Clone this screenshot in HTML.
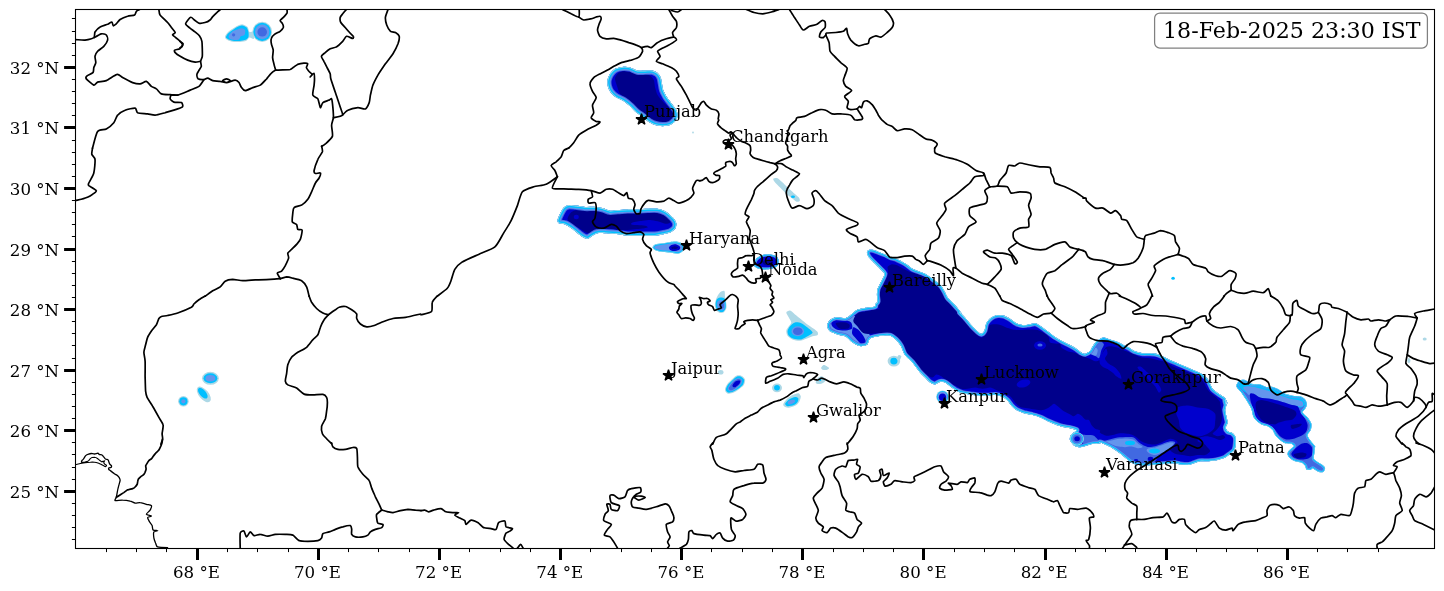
<!DOCTYPE html>
<html lang="en"><head><meta charset="utf-8"><title>Radar map 18-Feb-2025 23:30 IST</title>
<style>html,body{margin:0;padding:0;background:#fff}svg{display:block;will-change:transform}text{font-family:"DejaVu Serif","Liberation Serif",serif;fill:#000}</style></head><body>
<svg width="1444" height="591" viewBox="0 0 1444 591">
<rect width="1444" height="591" fill="#fff"/>
<defs><clipPath id="ax"><rect x="75.5" y="9.5" width="1359.0" height="539.0"/></clipPath></defs>
<g clip-path="url(#ax)" id="blobs">
<clipPath id="c1"><path d="M866.9 251.9C867.1 251 868.5 250 869.4 249.8C870.4 249.5 872.6 249.7 873.8 250C875.1 250.3 877.3 251.3 878.8 251.9C880.3 252.5 883.6 253.7 885.1 254.4C886.6 255.1 888.6 256.3 890.1 256.9C891.6 257.5 894.7 258.1 896.3 258.8C898 259.4 901.1 261.1 902.6 261.9C904.1 262.7 906.3 264.1 907.6 265C908.9 265.9 911.1 268 912.6 268.8C914.1 269.6 917 270.5 918.9 271.3C920.7 272 924.5 273.4 926.4 274.4C928.2 275.4 931.1 277.7 932.6 278.8C934.1 279.9 936.4 281.5 937.6 282.6C938.9 283.6 941 285.6 942 286.9C943 288.3 944.4 291.1 945.2 292.6C945.9 294 946.7 296.2 947.7 297.6C948.7 298.9 951.3 301.2 952.7 302.6C954 304 956.4 306.7 957.7 308.2C958.9 309.7 961.7 313.3 962.1 313.8C962.4 314.4 959.6 312 960 312.5C960.4 313 963.5 315.9 965 317.5C966.5 319.2 969.6 323.2 971.3 325C972.9 326.9 976.2 330.1 977.5 331.3C978.9 332.5 980.4 333.9 981.3 333.8C982.2 333.7 983.7 332.1 984.4 330.7C985.1 329.2 985.4 324.9 986.3 323.2C987.2 321.4 989.8 318.6 991.3 317.5C992.8 316.4 995.9 315.3 997.5 315C999.2 314.8 1002.1 315.1 1003.8 315.6C1005.5 316.1 1008.4 317.8 1010.1 318.8C1011.7 319.8 1014.7 322.3 1016.3 323.2C1018 324 1020.9 324.9 1022.6 325C1024.2 325.2 1027.2 324.7 1028.8 324.4C1030.5 324.2 1033.6 323 1035.1 323.2C1036.6 323.3 1038.4 324.6 1040.1 325.7C1041.8 326.7 1045.6 329.8 1047.6 331.3C1049.6 332.8 1053.1 335.6 1055.1 336.9C1057.1 338.3 1060.6 340.2 1062.6 341.3C1064.6 342.4 1068.3 344.1 1070.1 345.1C1072 346.1 1074.9 347.8 1076.4 348.8C1077.9 349.8 1080.2 351.9 1081.4 352.6C1082.6 353.2 1084 354.1 1085.2 353.8C1086.3 353.6 1089.2 351.7 1090.2 350.7C1091.2 349.7 1091.8 347.6 1092.7 346.3C1093.5 345.1 1095.3 342.4 1096.4 341.3C1097.6 340.2 1100.9 338.5 1101.4 338.2C1101.9 337.8 1099.7 338.8 1100 338.8C1100.3 338.7 1102.4 337.4 1103.8 337.5C1105.1 337.6 1108.3 338.9 1110 339.4C1111.7 339.9 1114.6 340.6 1116.3 341.3C1117.9 341.9 1120.9 343.6 1122.5 344.4C1124.2 345.2 1127.1 346.6 1128.8 347.5C1130.5 348.4 1133.2 350.5 1135 351.3C1136.9 352 1140.6 352.9 1142.6 353.2C1144.6 353.4 1148.2 353.1 1150.1 353.2C1151.9 353.2 1154.7 353.4 1156.3 353.8C1158 354.2 1160.9 355.5 1162.6 356.3C1164.2 357 1166.8 358.5 1168.8 359.4C1170.8 360.3 1175.1 362.1 1177.6 363.2C1180.1 364.3 1185.3 366.5 1187.6 367.5C1189.9 368.5 1193.1 369.8 1195.1 370.7C1197.1 371.6 1201 373.3 1202.6 374.4C1204.3 375.5 1206.6 377.6 1207.6 378.8C1208.6 380.1 1209.5 382.5 1210.1 383.8C1210.8 385.2 1211.5 387.5 1212.6 388.8C1213.8 390.2 1217.2 392.6 1218.9 393.8C1220.6 395.1 1224 396.9 1225.2 398.2C1226.3 399.5 1227.7 403.6 1227.7 403.8C1227.7 404.1 1225.3 399.8 1225.2 400C1225 400.2 1226.4 403.7 1226.4 405C1226.4 406.3 1225.2 408.5 1225.2 410C1225.2 411.5 1226.1 414.6 1226.4 416.3C1226.7 417.9 1227.7 421 1227.7 422.5C1227.6 424 1225.8 426.4 1225.8 427.5C1225.8 428.7 1226.7 430.5 1227.7 431.3C1228.6 432 1231.6 432.3 1232.7 433.2C1233.8 434 1235.4 436.1 1235.8 437.5C1236.2 439 1236 442.1 1235.8 443.8C1235.6 445.5 1235.3 448.7 1234.5 450.1C1233.8 451.4 1231.4 452.8 1230.2 453.8C1228.9 454.8 1226.8 456.7 1225.2 457.6C1223.5 458.4 1219.8 459.6 1217.6 460.1C1215.5 460.6 1211.2 461.2 1208.9 461.3C1206.5 461.5 1202.3 461 1200.1 461.3C1198 461.7 1194.3 463.3 1192.6 463.8C1190.9 464.3 1189.3 465 1187.6 465.1C1185.9 465.2 1181.8 464.7 1180.1 464.5C1178.4 464.2 1176.8 463.3 1175.1 463.2C1173.4 463.1 1169.6 463.7 1167.6 463.8C1165.6 464 1162.1 464.3 1160.1 464.5C1158.1 464.6 1154.6 465 1152.6 465.1C1150.6 465.2 1147.1 465.3 1145.1 465.3C1143.1 465.3 1139.4 465.4 1137.5 465.1C1135.7 464.7 1133 463.6 1131.3 462.6C1129.6 461.6 1126.7 458.9 1125 457.6C1123.4 456.2 1120.4 453.8 1118.8 452.6C1117.1 451.3 1114.2 449.2 1112.5 448.2C1110.8 447.2 1107.9 445.8 1106.3 445.1C1104.6 444.3 1100.8 442.7 1100 442.6C1099.2 442.4 1100.9 443.4 1100 443.6C1099.1 443.8 1095.1 443.6 1093.3 443.8C1091.6 444.1 1088.8 445 1087.1 445.5C1085.3 445.9 1082 447.3 1080.2 447.3C1078.4 447.3 1075.3 446.4 1073.9 445.5C1072.6 444.5 1070.4 441.5 1069.9 440.1C1069.5 438.7 1070.2 436.2 1070.8 435.1C1071.4 434 1073.8 432.6 1074.6 432C1075.3 431.3 1077 430.6 1076.4 430.1C1075.9 429.6 1072 428.6 1070.2 428.2C1068.4 427.8 1064.7 427.4 1062.7 426.9C1060.7 426.4 1057.2 425.2 1055.2 424.4C1053.2 423.7 1049.7 422.2 1047.7 421.3C1045.7 420.4 1042.2 418.4 1040.2 417.6C1038.1 416.7 1034.8 415.6 1032.6 415.1C1030.5 414.5 1026 413.8 1023.9 413.2C1021.7 412.5 1018 411.1 1016.4 410.1C1014.7 409 1012.5 406.9 1011.4 405.7C1010.2 404.4 1008.8 401.8 1007.6 400.7C1006.4 399.5 1004.3 397.7 1002.6 396.9C1000.9 396.2 997.1 395.2 995.1 395C993.1 394.9 989.8 395.6 987.6 395.7C985.4 395.7 981.2 395.8 978.8 395.7C976.5 395.5 972.2 394.7 970.1 394.4C967.9 394.1 964.4 393.7 962.6 393.2C960.7 392.7 958 391.6 956.3 390.7C954.6 389.7 951.5 387.4 950 386.3C948.5 385.2 946.4 383.1 945 382.5C943.7 381.9 941.4 381.6 940 381.9C938.7 382.1 936.4 384.3 935 384.4C933.7 384.5 931.3 383.4 930 382.5C928.7 381.6 926.3 378.8 925 377.5C923.7 376.2 921.7 374.5 920 372.5C918.3 370.5 914.2 364.7 912.2 362.3C910.1 360 906.2 357 904.7 354.8C903.2 352.7 902.1 348.1 900.9 346.1C899.7 344.1 897.4 341.2 895.9 339.8C894.4 338.4 891.8 336.1 889.6 335.6C887.5 335.1 882.2 335.7 879.6 336.1C877 336.5 871.8 337.4 870.1 338.6C868.5 339.7 868.5 343.8 867.1 344.8C865.7 345.8 861.6 346.4 859.6 346.1C857.6 345.7 853.9 343.6 852.1 342.3C850.3 341 847.7 337.6 845.8 336.6C844 335.6 840.5 335.5 838.3 334.8C836.2 334.1 831.1 332.3 829.6 331C828.1 329.8 827.1 326.9 827.1 325.5C827.1 324.1 828.4 321.6 829.6 320.5C830.7 319.4 833.7 317.6 835.8 317.3C838 316.9 843.8 318.4 845.8 318C847.8 317.7 849.3 315.9 850.8 314.8C852.3 313.7 855.3 310.7 857.1 309.8C858.9 308.9 862.3 308.5 864.6 308C867 307.6 873.2 307 874.6 306.5C876 306 874.7 305.1 875.1 304.5C875.5 303.8 877.3 302.6 877.6 301.3C877.8 300.1 876.9 296.7 876.9 295.1C876.9 293.4 877.2 290.3 877.6 288.8C878 287.3 879.4 285.1 880.1 283.8C880.7 282.5 882 280.1 882.6 278.8C883.2 277.5 884.6 275 884.5 273.8C884.3 272.6 882.4 271.2 881.3 270C880.2 268.9 877.7 266.4 876.3 265C875 263.7 872.4 261.2 871.3 260C870.2 258.9 868.8 257.4 868.2 256.3C867.6 255.2 866.8 252.8 866.9 251.9Z"/></clipPath>
<g clip-path="url(#c1)">
<path d="M866.9 251.9C867.1 251 868.5 250 869.4 249.8C870.4 249.5 872.6 249.7 873.8 250C875.1 250.3 877.3 251.3 878.8 251.9C880.3 252.5 883.6 253.7 885.1 254.4C886.6 255.1 888.6 256.3 890.1 256.9C891.6 257.5 894.7 258.1 896.3 258.8C898 259.4 901.1 261.1 902.6 261.9C904.1 262.7 906.3 264.1 907.6 265C908.9 265.9 911.1 268 912.6 268.8C914.1 269.6 917 270.5 918.9 271.3C920.7 272 924.5 273.4 926.4 274.4C928.2 275.4 931.1 277.7 932.6 278.8C934.1 279.9 936.4 281.5 937.6 282.6C938.9 283.6 941 285.6 942 286.9C943 288.3 944.4 291.1 945.2 292.6C945.9 294 946.7 296.2 947.7 297.6C948.7 298.9 951.3 301.2 952.7 302.6C954 304 956.4 306.7 957.7 308.2C958.9 309.7 961.7 313.3 962.1 313.8C962.4 314.4 959.6 312 960 312.5C960.4 313 963.5 315.9 965 317.5C966.5 319.2 969.6 323.2 971.3 325C972.9 326.9 976.2 330.1 977.5 331.3C978.9 332.5 980.4 333.9 981.3 333.8C982.2 333.7 983.7 332.1 984.4 330.7C985.1 329.2 985.4 324.9 986.3 323.2C987.2 321.4 989.8 318.6 991.3 317.5C992.8 316.4 995.9 315.3 997.5 315C999.2 314.8 1002.1 315.1 1003.8 315.6C1005.5 316.1 1008.4 317.8 1010.1 318.8C1011.7 319.8 1014.7 322.3 1016.3 323.2C1018 324 1020.9 324.9 1022.6 325C1024.2 325.2 1027.2 324.7 1028.8 324.4C1030.5 324.2 1033.6 323 1035.1 323.2C1036.6 323.3 1038.4 324.6 1040.1 325.7C1041.8 326.7 1045.6 329.8 1047.6 331.3C1049.6 332.8 1053.1 335.6 1055.1 336.9C1057.1 338.3 1060.6 340.2 1062.6 341.3C1064.6 342.4 1068.3 344.1 1070.1 345.1C1072 346.1 1074.9 347.8 1076.4 348.8C1077.9 349.8 1080.2 351.9 1081.4 352.6C1082.6 353.2 1084 354.1 1085.2 353.8C1086.3 353.6 1089.2 351.7 1090.2 350.7C1091.2 349.7 1091.8 347.6 1092.7 346.3C1093.5 345.1 1095.3 342.4 1096.4 341.3C1097.6 340.2 1100.9 338.5 1101.4 338.2C1101.9 337.8 1099.7 338.8 1100 338.8C1100.3 338.7 1102.4 337.4 1103.8 337.5C1105.1 337.6 1108.3 338.9 1110 339.4C1111.7 339.9 1114.6 340.6 1116.3 341.3C1117.9 341.9 1120.9 343.6 1122.5 344.4C1124.2 345.2 1127.1 346.6 1128.8 347.5C1130.5 348.4 1133.2 350.5 1135 351.3C1136.9 352 1140.6 352.9 1142.6 353.2C1144.6 353.4 1148.2 353.1 1150.1 353.2C1151.9 353.2 1154.7 353.4 1156.3 353.8C1158 354.2 1160.9 355.5 1162.6 356.3C1164.2 357 1166.8 358.5 1168.8 359.4C1170.8 360.3 1175.1 362.1 1177.6 363.2C1180.1 364.3 1185.3 366.5 1187.6 367.5C1189.9 368.5 1193.1 369.8 1195.1 370.7C1197.1 371.6 1201 373.3 1202.6 374.4C1204.3 375.5 1206.6 377.6 1207.6 378.8C1208.6 380.1 1209.5 382.5 1210.1 383.8C1210.8 385.2 1211.5 387.5 1212.6 388.8C1213.8 390.2 1217.2 392.6 1218.9 393.8C1220.6 395.1 1224 396.9 1225.2 398.2C1226.3 399.5 1227.7 403.6 1227.7 403.8C1227.7 404.1 1225.3 399.8 1225.2 400C1225 400.2 1226.4 403.7 1226.4 405C1226.4 406.3 1225.2 408.5 1225.2 410C1225.2 411.5 1226.1 414.6 1226.4 416.3C1226.7 417.9 1227.7 421 1227.7 422.5C1227.6 424 1225.8 426.4 1225.8 427.5C1225.8 428.7 1226.7 430.5 1227.7 431.3C1228.6 432 1231.6 432.3 1232.7 433.2C1233.8 434 1235.4 436.1 1235.8 437.5C1236.2 439 1236 442.1 1235.8 443.8C1235.6 445.5 1235.3 448.7 1234.5 450.1C1233.8 451.4 1231.4 452.8 1230.2 453.8C1228.9 454.8 1226.8 456.7 1225.2 457.6C1223.5 458.4 1219.8 459.6 1217.6 460.1C1215.5 460.6 1211.2 461.2 1208.9 461.3C1206.5 461.5 1202.3 461 1200.1 461.3C1198 461.7 1194.3 463.3 1192.6 463.8C1190.9 464.3 1189.3 465 1187.6 465.1C1185.9 465.2 1181.8 464.7 1180.1 464.5C1178.4 464.2 1176.8 463.3 1175.1 463.2C1173.4 463.1 1169.6 463.7 1167.6 463.8C1165.6 464 1162.1 464.3 1160.1 464.5C1158.1 464.6 1154.6 465 1152.6 465.1C1150.6 465.2 1147.1 465.3 1145.1 465.3C1143.1 465.3 1139.4 465.4 1137.5 465.1C1135.7 464.7 1133 463.6 1131.3 462.6C1129.6 461.6 1126.7 458.9 1125 457.6C1123.4 456.2 1120.4 453.8 1118.8 452.6C1117.1 451.3 1114.2 449.2 1112.5 448.2C1110.8 447.2 1107.9 445.8 1106.3 445.1C1104.6 444.3 1100.8 442.7 1100 442.6C1099.2 442.4 1100.9 443.4 1100 443.6C1099.1 443.8 1095.1 443.6 1093.3 443.8C1091.6 444.1 1088.8 445 1087.1 445.5C1085.3 445.9 1082 447.3 1080.2 447.3C1078.4 447.3 1075.3 446.4 1073.9 445.5C1072.6 444.5 1070.4 441.5 1069.9 440.1C1069.5 438.7 1070.2 436.2 1070.8 435.1C1071.4 434 1073.8 432.6 1074.6 432C1075.3 431.3 1077 430.6 1076.4 430.1C1075.9 429.6 1072 428.6 1070.2 428.2C1068.4 427.8 1064.7 427.4 1062.7 426.9C1060.7 426.4 1057.2 425.2 1055.2 424.4C1053.2 423.7 1049.7 422.2 1047.7 421.3C1045.7 420.4 1042.2 418.4 1040.2 417.6C1038.1 416.7 1034.8 415.6 1032.6 415.1C1030.5 414.5 1026 413.8 1023.9 413.2C1021.7 412.5 1018 411.1 1016.4 410.1C1014.7 409 1012.5 406.9 1011.4 405.7C1010.2 404.4 1008.8 401.8 1007.6 400.7C1006.4 399.5 1004.3 397.7 1002.6 396.9C1000.9 396.2 997.1 395.2 995.1 395C993.1 394.9 989.8 395.6 987.6 395.7C985.4 395.7 981.2 395.8 978.8 395.7C976.5 395.5 972.2 394.7 970.1 394.4C967.9 394.1 964.4 393.7 962.6 393.2C960.7 392.7 958 391.6 956.3 390.7C954.6 389.7 951.5 387.4 950 386.3C948.5 385.2 946.4 383.1 945 382.5C943.7 381.9 941.4 381.6 940 381.9C938.7 382.1 936.4 384.3 935 384.4C933.7 384.5 931.3 383.4 930 382.5C928.7 381.6 926.3 378.8 925 377.5C923.7 376.2 921.7 374.5 920 372.5C918.3 370.5 914.2 364.7 912.2 362.3C910.1 360 906.2 357 904.7 354.8C903.2 352.7 902.1 348.1 900.9 346.1C899.7 344.1 897.4 341.2 895.9 339.8C894.4 338.4 891.8 336.1 889.6 335.6C887.5 335.1 882.2 335.7 879.6 336.1C877 336.5 871.8 337.4 870.1 338.6C868.5 339.7 868.5 343.8 867.1 344.8C865.7 345.8 861.6 346.4 859.6 346.1C857.6 345.7 853.9 343.6 852.1 342.3C850.3 341 847.7 337.6 845.8 336.6C844 335.6 840.5 335.5 838.3 334.8C836.2 334.1 831.1 332.3 829.6 331C828.1 329.8 827.1 326.9 827.1 325.5C827.1 324.1 828.4 321.6 829.6 320.5C830.7 319.4 833.7 317.6 835.8 317.3C838 316.9 843.8 318.4 845.8 318C847.8 317.7 849.3 315.9 850.8 314.8C852.3 313.7 855.3 310.7 857.1 309.8C858.9 308.9 862.3 308.5 864.6 308C867 307.6 873.2 307 874.6 306.5C876 306 874.7 305.1 875.1 304.5C875.5 303.8 877.3 302.6 877.6 301.3C877.8 300.1 876.9 296.7 876.9 295.1C876.9 293.4 877.2 290.3 877.6 288.8C878 287.3 879.4 285.1 880.1 283.8C880.7 282.5 882 280.1 882.6 278.8C883.2 277.5 884.6 275 884.5 273.8C884.3 272.6 882.4 271.2 881.3 270C880.2 268.9 877.7 266.4 876.3 265C875 263.7 872.4 261.2 871.3 260C870.2 258.9 868.8 257.4 868.2 256.3C867.6 255.2 866.8 252.8 866.9 251.9Z" fill="#0000CD"/>
<path d="M824.6 316C828.6 313.7 850.3 315 854.6 316C858.9 317 855.1 321 857.1 323.5C859.1 326 867.8 331.5 869.6 334.8C871.5 338.1 873.2 346.7 870.9 348.6C868.5 350.4 858.3 350.6 852.1 348.6C845.9 346.6 828.2 337.9 824.6 333.6C820.9 329.2 820.6 318.4 824.6 316Z" fill="#6495ED"/>
<path d="M887.6 266.9C888 266.1 890.2 264.7 891.3 264.4C892.5 264.2 894.8 264.5 896.3 265C897.8 265.5 900.8 267.2 902.6 268.2C904.4 269.1 908.1 271.2 910.1 271.9C912.1 272.7 915.6 273.2 917.6 273.8C919.6 274.4 923.3 275.5 925.1 276.3C927 277.1 929.9 279 931.4 280.1C932.9 281.1 935.2 282.7 936.4 283.8C937.6 284.9 939.2 286.9 940.2 288.2C941.1 289.5 942.4 292.3 943.3 293.8C944.1 295.3 945.3 298 946.4 299.4C947.5 300.9 950.1 303 951.4 304.5C952.7 305.9 955.3 308.8 956.4 310.1C957.6 311.3 959.7 313.1 960.2 313.8C960.7 314.6 959.2 314.5 960 315.6C960.8 316.8 964.4 320.4 966.3 322.5C968.1 324.6 972.1 329.5 973.8 331.3C975.4 333.1 977.7 335.5 978.8 336.3C979.9 337.1 981.1 337.8 981.9 337.5C982.7 337.3 984.2 335.8 985 334.4C985.9 333 987.3 328.2 988.2 326.9C989 325.6 989.9 324.7 991.3 324.4C992.7 324.1 997 324.1 998.8 324.4C1000.6 324.7 1003.2 326.2 1005.1 326.9C1006.9 327.6 1010.6 329 1012.6 329.4C1014.6 329.8 1017.9 330 1020.1 330C1022.2 330 1026.5 329.4 1028.8 329.4C1031.2 329.4 1035.4 329.5 1037.6 330C1039.8 330.6 1043.6 332.8 1045.1 333.8C1046.6 334.8 1048.2 336.4 1048.9 337.5C1049.5 338.7 1049.1 341.7 1050.1 342.6C1051.1 343.4 1055 343.6 1056.4 343.8C1057.7 344 1059.5 343.3 1060.1 343.8C1060.8 344.3 1060.4 346.6 1061.4 347.6C1062.4 348.6 1066 350.6 1067.6 351.3C1069.3 352 1072.2 352.1 1073.9 352.6C1075.6 353.1 1078.6 354.5 1080.2 355.1C1081.7 355.7 1083.8 356.4 1085.2 356.9C1086.5 357.4 1088.8 358.2 1090.2 358.8C1091.5 359.4 1093.9 361.2 1095.2 361.3C1096.4 361.5 1098.6 360.9 1099.5 360.1C1100.5 359.2 1101.5 356.4 1102.1 355.1C1102.6 353.7 1103.3 351.1 1103.9 350.1C1104.5 349 1105.4 347.4 1106.4 346.9C1107.4 346.4 1109.8 346.1 1111.4 346.3C1113.1 346.5 1116.9 347.5 1118.9 348.2C1121 348.9 1124.6 350.6 1126.5 351.3C1128.3 352.1 1130.7 353 1132.7 353.8C1134.7 354.6 1139 357 1141.3 357.5C1143.6 358.1 1147.9 357.8 1150.1 358.2C1152.2 358.5 1155.6 359.5 1157.6 360C1159.6 360.5 1163.1 361.1 1165.1 361.9C1167.1 362.7 1170.4 365.2 1172.6 366.3C1174.8 367.4 1179 369.1 1181.4 370.1C1183.7 371 1187.8 372.2 1190.1 373.2C1192.4 374.2 1197 376.3 1198.9 377.6C1200.7 378.8 1202.9 381.2 1203.9 382.6C1204.9 383.9 1205.5 386.2 1206.4 387.6C1207.2 388.9 1208.8 391.2 1210.1 392.6C1211.5 393.9 1214.9 396.1 1216.4 397.6C1217.9 399.1 1220.9 403.2 1221.4 403.8C1221.9 404.5 1220.2 401.7 1220.2 402.5C1220.2 403.3 1221.2 407.8 1221.4 410C1221.7 412.2 1222.2 416.8 1222 418.8C1221.9 420.8 1220.9 423.5 1220.2 425C1219.4 426.5 1217.4 428.9 1216.4 430C1215.4 431.2 1212.5 433 1212.6 433.8C1212.8 434.6 1216.3 436.1 1217.6 436.3C1219 436.5 1221.7 434.9 1222.7 435C1223.7 435.2 1225.5 436.9 1225.2 437.5C1224.8 438.2 1221.8 440.1 1220.2 440.1C1218.5 440.1 1214.5 438 1212.6 437.5C1210.8 437 1208.1 436.3 1206.4 436.3C1204.7 436.3 1201.3 436.9 1200.1 437.5C1199 438.2 1197.1 440.5 1197.6 441.3C1198.1 442.1 1202.5 443 1203.9 443.8C1205.2 444.6 1206.8 446.6 1207.6 447.6C1208.5 448.6 1210.5 450.3 1210.1 451.3C1209.8 452.3 1206.8 454.6 1205.1 455.1C1203.5 455.6 1199.6 454.9 1197.6 455.1C1195.6 455.2 1192.1 456.3 1190.1 456.3C1188.1 456.3 1184.6 455.4 1182.6 455.1C1180.6 454.7 1176.8 454.5 1175.1 453.8C1173.4 453.1 1170.4 451.2 1170.1 450.1C1169.8 448.9 1171.6 446.1 1172.6 445.1C1173.6 444.1 1177.3 443.2 1177.6 442.6C1177.9 441.9 1176.1 440.6 1175.1 440.1C1174.1 439.5 1171.8 438.5 1170.1 438.8C1168.4 439 1164.6 441.2 1162.6 441.9C1160.6 442.7 1157.1 444.2 1155.1 444.4C1153.1 444.7 1149.4 444.2 1147.6 443.8C1145.7 443.4 1143 442.3 1141.3 441.3C1139.6 440.3 1136.7 437.3 1135 436.3C1133.4 435.3 1130.8 434.2 1128.8 433.8C1126.8 433.4 1122.2 433 1120 433.2C1117.9 433.3 1114.4 434.7 1112.5 435C1110.7 435.4 1107.9 436 1106.3 435.7C1104.6 435.4 1100.8 433.5 1100 432.8C1099.2 432.1 1100.6 430.9 1100 430.3C1099.3 429.8 1096.4 429.5 1095.2 428.8C1094.1 428.1 1092.3 426.2 1091.5 425.1C1090.6 423.9 1089.8 420.8 1089 420.1C1088.1 419.3 1086.2 420 1085.2 419.4C1084.2 418.9 1082.5 416.4 1081.5 415.7C1080.5 414.9 1078.7 413.7 1077.7 413.8C1076.7 413.9 1074.9 416.2 1073.9 416.3C1072.9 416.4 1071.5 415.1 1070.2 414.4C1068.9 413.8 1065.6 412.4 1063.9 411.3C1062.3 410.2 1059 407.3 1057.7 406.3C1056.3 405.3 1055.1 403.6 1053.9 403.8C1052.7 404 1050.4 406.7 1048.9 407.5C1047.4 408.4 1044.5 409.8 1042.7 410.1C1040.8 410.3 1037.1 409.7 1035.1 409.4C1033.1 409.2 1029.6 408.5 1027.6 408.2C1025.6 407.8 1021.8 407.7 1020.1 406.9C1018.5 406.2 1016.5 404 1015.1 402.5C1013.8 401.1 1011.8 397.6 1010.1 396.3C1008.4 394.9 1004.6 393.4 1002.6 392.5C1000.6 391.6 996.8 390.1 995.1 389.4C993.4 388.7 991.8 387.6 990.1 387.5C988.4 387.4 984.6 388.8 982.6 388.8C980.6 388.8 977.1 387.5 975.1 387.5C973.1 387.5 969.4 388.6 967.6 388.8C965.7 388.9 963 389.2 961.3 388.8C959.6 388.4 956.9 386.6 955 385.6C953.2 384.6 949.4 382.5 947.5 381.3C945.7 380 942.8 377.2 941.3 376.3C939.8 375.3 937.4 374.2 936.3 374.4C935.1 374.5 933.9 377.4 932.5 377.5C931.2 377.6 927.9 376 926.3 375C924.6 374 922.7 373 920 370C917.3 367 908.6 356.2 905.9 352.3C903.2 348.5 901.5 343.6 899.7 341.1C897.8 338.6 894.5 334.6 892.2 333.6C889.8 332.5 885.8 333.1 882.1 333.1C878.5 333.1 868 334.5 864.6 333.6C861.3 332.6 858.6 327.7 857.1 326C855.6 324.4 853.3 322.7 853.3 321C853.3 319.4 855.3 314.9 857.1 313.5C858.9 312.2 864.1 311.7 867.1 311C870.1 310.4 878.4 309 879.6 308.5C880.9 308.1 876.3 308.2 876.3 307.6C876.3 307 879.1 305.3 879.4 303.8C879.8 302.3 879 298.2 879.1 296.3C879.2 294.5 879.6 291.6 880.1 290.1C880.5 288.6 881.9 286.4 882.6 285.1C883.2 283.7 884.4 281.4 885.1 280.1C885.7 278.7 887.2 276.3 887.6 275C888 273.8 888.2 271.7 888.2 270.7C888.2 269.6 887.2 267.7 887.6 266.9Z" fill="#00008B"/>
<path d="M1177.6 407.5C1179.1 406.4 1184.9 405.6 1187.6 405.6C1190.3 405.6 1195 407.1 1197.6 407.5C1200.3 407.9 1205.3 407.9 1207.6 408.8C1210 409.6 1214.1 411.9 1215.1 413.8C1216.1 415.6 1215.3 420.5 1215.1 422.5C1215 424.5 1214.9 427.3 1213.9 428.8C1212.9 430.3 1209.5 432.8 1207.6 433.8C1205.8 434.8 1202.1 436.1 1200.1 436.3C1198.1 436.5 1194.6 435.5 1192.6 435C1190.6 434.5 1186.8 433.5 1185.1 432.5C1183.4 431.5 1180.9 429.2 1180.1 427.5C1179.3 425.9 1179.3 421.9 1178.8 420C1178.3 418.2 1176.5 415.4 1176.3 413.8C1176.2 412.1 1176.1 408.6 1177.6 407.5Z" fill="#0000CD"/>
<path d="M1100 358.8C1100.5 357.1 1102.9 352.6 1103.8 351.3C1104.6 349.9 1105.8 348.4 1106.3 348.8C1106.8 349.1 1107.7 352.4 1107.5 353.8C1107.3 355.1 1104.8 357.5 1105 358.8C1105.2 360.1 1107.4 362.6 1108.8 363.8C1110.1 365 1113.5 366.2 1115 367.5C1116.5 368.9 1119.2 372.3 1120 373.8C1120.9 375.3 1121.8 378.5 1121.3 378.8C1120.8 379.1 1117.8 377.5 1116.3 376.3C1114.8 375.1 1111.7 371.2 1110 370.1C1108.3 368.9 1105.1 368.4 1103.8 367.5C1102.4 366.7 1100.5 365 1100 363.8C1099.5 362.6 1099.5 360.5 1100 358.8Z" fill="#0000CD"/>
<path d="M1098.9 358.2C1099.4 358 1102.8 359.3 1103.9 360.1C1105.1 360.8 1106.2 362.7 1107.7 363.8C1109.2 365 1113.5 367.5 1115.2 368.8C1116.9 370.2 1120.2 373.2 1120.2 373.8C1120.2 374.5 1116.7 374.3 1115.2 373.8C1113.7 373.3 1110.4 371.3 1108.9 370.1C1107.4 368.9 1105.1 366.2 1103.9 365.1C1102.8 363.9 1100.8 362.2 1100.2 361.3C1099.5 360.4 1098.4 358.4 1098.9 358.2Z" fill="#0000CD"/>
<path d="M1137.5 367.5C1137.4 366.6 1140 366.3 1141.3 366.9C1142.6 367.6 1145.9 370.8 1147.6 372.6C1149.2 374.3 1152.3 378.4 1153.8 380.1C1155.3 381.7 1157.8 383.7 1158.8 385.1C1159.8 386.4 1161.3 389.1 1161.3 390.1C1161.3 391.1 1159.7 393.1 1158.8 392.6C1158 392.1 1156.4 388 1155.1 386.3C1153.7 384.7 1150.5 381.7 1148.8 380.1C1147.1 378.4 1144.1 375.5 1142.6 373.8C1141.1 372.1 1137.7 368.5 1137.5 367.5Z" fill="#0000CD"/>
<ellipse cx="1040" cy="345.5" rx="6" ry="4.2" fill="#0000CD"/>
<ellipse cx="1040" cy="345" rx="2.6" ry="1.6" fill="#4169E1"/>
<ellipse cx="1023.5" cy="383.5" rx="7" ry="3.8" fill="#0000CD" transform="rotate(-15 1023.5 383.5)"/>
<path d="M1096.4 342.6C1097.3 342 1100.4 341.7 1101.4 341.9C1102.4 342.2 1103.9 343.3 1103.9 344.4C1103.9 345.5 1101.9 348.6 1101.4 350.1C1100.9 351.5 1100.5 354 1100.2 355.1C1099.8 356.2 1099.5 358 1098.9 358.2C1098.3 358.4 1096.8 356.8 1095.8 356.3C1094.8 355.8 1092.3 354.8 1091.4 354.4C1090.5 354.1 1088.7 354.4 1088.9 353.8C1089.1 353.2 1091.9 351.1 1092.7 350.1C1093.4 349.1 1094 347.3 1094.5 346.3C1095 345.3 1095.5 343.1 1096.4 342.6Z" fill="#4169E1"/>
<path d="M1090.8 353.2C1090.9 352.6 1092.6 350.8 1093.3 350.1C1094 349.3 1095.2 347.6 1095.8 347.6C1096.4 347.6 1097.5 349.2 1097.7 350.1C1097.8 350.9 1097.3 353.1 1097 353.8C1096.8 354.6 1096.4 355.6 1095.8 355.7C1095.2 355.8 1093.3 355.2 1092.7 354.8C1092 354.5 1090.7 353.8 1090.8 353.2Z" fill="#6495ED"/>
<path d="M1100 450.1C1098.3 450.6 1089.8 450.8 1087.7 450.1C1085.6 449.4 1084.8 446.7 1084 445.1C1083.1 443.5 1081.6 439.6 1081.5 438.2C1081.3 436.8 1081.9 435.2 1082.7 434.8C1083.5 434.4 1086.2 434.9 1087.7 435.1C1089.2 435.2 1092.3 435 1094 435.8C1095.6 436.7 1098.2 440.7 1100 441.3C1101.8 441.9 1105.2 440.6 1107.5 440.1C1109.8 439.5 1114.9 438 1117.5 437.5C1120.2 437.1 1125.4 436.9 1127.5 436.9C1129.7 436.9 1132.1 436.7 1133.8 437.5C1135.5 438.4 1138.2 441.9 1140.1 443.2C1141.9 444.4 1145.6 446.5 1147.6 446.9C1149.6 447.4 1153.1 446.7 1155.1 446.3C1157.1 445.9 1160.6 444.5 1162.6 443.8C1164.6 443.1 1168.4 441.6 1170.1 441.3C1171.8 441.1 1174.6 441.4 1175.1 441.9C1175.6 442.4 1174.8 444 1173.8 445.1C1172.8 446.1 1169.4 448.7 1167.6 450.1C1165.7 451.4 1161.7 453.6 1160.1 455.1C1158.4 456.6 1156.4 459.7 1155.1 461.3C1153.7 463 1152.4 466.8 1150.1 467.6C1147.7 468.4 1140.9 468.3 1137.5 467.6C1134.2 466.9 1128.4 464.6 1125 462.6C1121.7 460.6 1115.9 454.7 1112.5 452.6C1109.2 450.4 1101.7 446.6 1100 446.3C1098.3 446 1101.6 449.6 1100 450.1Z" fill="#4169E1"/>
<path d="M1097.5 442.3C1098.8 442 1104.8 441.7 1107.5 441.3C1110.2 440.9 1114.9 439.4 1117.5 439C1120.2 438.7 1125.4 438.4 1127.5 438.5C1129.7 438.6 1132.4 439.1 1133.8 439.8C1135.2 440.5 1137 442.9 1138.2 443.8C1139.3 444.8 1142.6 446.3 1142.6 446.9C1142.5 447.5 1139 448.2 1137.5 448.2C1136 448.1 1133 446.7 1131.3 446.6C1129.6 446.4 1126.7 447.3 1125 447.3C1123.4 447.3 1120.4 446.8 1118.8 446.6C1117.1 446.3 1114.4 445.6 1112.5 445.3C1110.7 445 1107 444.3 1105 444.1C1103 443.9 1098.5 444 1097.5 443.8C1096.5 443.6 1096.2 442.6 1097.5 442.3Z" fill="#6495ED"/>
<path d="M1147.6 448.8C1148.6 448.3 1153.1 448.1 1155.1 447.6C1157.1 447.1 1160.6 445.7 1162.6 445.1C1164.6 444.4 1168.6 442.8 1170.1 442.6C1171.6 442.3 1173.8 442.5 1173.8 443.2C1173.8 443.8 1171.6 446.3 1170.1 447.6C1168.6 448.8 1164.6 451.6 1162.6 452.6C1160.6 453.6 1156.7 454.9 1155.1 455.1C1153.4 455.2 1151.1 454.3 1150.1 453.8C1149 453.3 1147.3 452 1146.9 451.3C1146.6 450.6 1146.5 449.3 1147.6 448.8Z" fill="#6495ED"/>
<ellipse cx="1130" cy="443" rx="5" ry="2.2" fill="#00BFFF"/>
<ellipse cx="1154.5" cy="451" rx="5.5" ry="2.6" fill="#00BFFF"/>
<ellipse cx="1150.5" cy="459" rx="2.8" ry="2.2" fill="#0000CD"/>
<ellipse cx="1136" cy="461" rx="2.5" ry="2" fill="#0000CD"/>
<path d="M832.1 321C833.4 320.2 839.6 319.6 842.1 319.8C844.6 319.9 849.5 321.1 850.8 322.3C852.2 323.5 852.8 327.4 852.1 328.5C851.4 329.6 847.8 330.4 845.8 330.5C843.8 330.7 838.9 330.4 837.1 329.8C835.2 329.2 832.7 327.2 832.1 326C831.4 324.9 830.7 321.9 832.1 321Z" fill="#0000CD"/>
<path d="M835.8 323C836.5 322.2 842.8 322.1 844.6 322.3C846.4 322.5 849.1 324 849.6 324.8C850.1 325.6 849.7 328 848.3 328.5C847 329 841.2 329.3 839.6 328.5C837.9 327.8 835.2 323.9 835.8 323Z" fill="#00008B"/>
<path d="M853.3 327.3C854.2 326.8 857 328.6 858.4 329.8C859.7 331 862.4 334.4 863.4 336.1C864.4 337.7 866.2 341.3 865.9 342.3C865.5 343.3 862.2 344.1 860.9 343.6C859.5 343.1 857 339.9 855.9 338.6C854.7 337.2 852.4 335.1 852.1 333.6C851.8 332 852.5 327.8 853.3 327.3Z" fill="#0000CD"/>
<path d="M866.9 251.9C867.1 251 868.5 250 869.4 249.8C870.4 249.5 872.6 249.7 873.8 250C875.1 250.3 877.3 251.3 878.8 251.9C880.3 252.5 883.6 253.7 885.1 254.4C886.6 255.1 888.6 256.3 890.1 256.9C891.6 257.5 894.7 258.1 896.3 258.8C898 259.4 901.1 261.1 902.6 261.9C904.1 262.7 906.3 264.1 907.6 265C908.9 265.9 911.1 268 912.6 268.8C914.1 269.6 917 270.5 918.9 271.3C920.7 272 924.5 273.4 926.4 274.4C928.2 275.4 931.1 277.7 932.6 278.8C934.1 279.9 936.4 281.5 937.6 282.6C938.9 283.6 941 285.6 942 286.9C943 288.3 944.4 291.1 945.2 292.6C945.9 294 946.7 296.2 947.7 297.6C948.7 298.9 951.3 301.2 952.7 302.6C954 304 956.4 306.7 957.7 308.2C958.9 309.7 961.7 313.3 962.1 313.8C962.4 314.4 959.6 312 960 312.5C960.4 313 963.5 315.9 965 317.5C966.5 319.2 969.6 323.2 971.3 325C972.9 326.9 976.2 330.1 977.5 331.3C978.9 332.5 980.4 333.9 981.3 333.8C982.2 333.7 983.7 332.1 984.4 330.7C985.1 329.2 985.4 324.9 986.3 323.2C987.2 321.4 989.8 318.6 991.3 317.5C992.8 316.4 995.9 315.3 997.5 315C999.2 314.8 1002.1 315.1 1003.8 315.6C1005.5 316.1 1008.4 317.8 1010.1 318.8C1011.7 319.8 1014.7 322.3 1016.3 323.2C1018 324 1020.9 324.9 1022.6 325C1024.2 325.2 1027.2 324.7 1028.8 324.4C1030.5 324.2 1033.6 323 1035.1 323.2C1036.6 323.3 1038.4 324.6 1040.1 325.7C1041.8 326.7 1045.6 329.8 1047.6 331.3C1049.6 332.8 1053.1 335.6 1055.1 336.9C1057.1 338.3 1060.6 340.2 1062.6 341.3C1064.6 342.4 1068.3 344.1 1070.1 345.1C1072 346.1 1074.9 347.8 1076.4 348.8C1077.9 349.8 1080.2 351.9 1081.4 352.6C1082.6 353.2 1084 354.1 1085.2 353.8C1086.3 353.6 1089.2 351.7 1090.2 350.7C1091.2 349.7 1091.8 347.6 1092.7 346.3C1093.5 345.1 1095.3 342.4 1096.4 341.3C1097.6 340.2 1100.9 338.5 1101.4 338.2C1101.9 337.8 1099.7 338.8 1100 338.8C1100.3 338.7 1102.4 337.4 1103.8 337.5C1105.1 337.6 1108.3 338.9 1110 339.4C1111.7 339.9 1114.6 340.6 1116.3 341.3C1117.9 341.9 1120.9 343.6 1122.5 344.4C1124.2 345.2 1127.1 346.6 1128.8 347.5C1130.5 348.4 1133.2 350.5 1135 351.3C1136.9 352 1140.6 352.9 1142.6 353.2C1144.6 353.4 1148.2 353.1 1150.1 353.2C1151.9 353.2 1154.7 353.4 1156.3 353.8C1158 354.2 1160.9 355.5 1162.6 356.3C1164.2 357 1166.8 358.5 1168.8 359.4C1170.8 360.3 1175.1 362.1 1177.6 363.2C1180.1 364.3 1185.3 366.5 1187.6 367.5C1189.9 368.5 1193.1 369.8 1195.1 370.7C1197.1 371.6 1201 373.3 1202.6 374.4C1204.3 375.5 1206.6 377.6 1207.6 378.8C1208.6 380.1 1209.5 382.5 1210.1 383.8C1210.8 385.2 1211.5 387.5 1212.6 388.8C1213.8 390.2 1217.2 392.6 1218.9 393.8C1220.6 395.1 1224 396.9 1225.2 398.2C1226.3 399.5 1227.7 403.6 1227.7 403.8C1227.7 404.1 1225.3 399.8 1225.2 400C1225 400.2 1226.4 403.7 1226.4 405C1226.4 406.3 1225.2 408.5 1225.2 410C1225.2 411.5 1226.1 414.6 1226.4 416.3C1226.7 417.9 1227.7 421 1227.7 422.5C1227.6 424 1225.8 426.4 1225.8 427.5C1225.8 428.7 1226.7 430.5 1227.7 431.3C1228.6 432 1231.6 432.3 1232.7 433.2C1233.8 434 1235.4 436.1 1235.8 437.5C1236.2 439 1236 442.1 1235.8 443.8C1235.6 445.5 1235.3 448.7 1234.5 450.1C1233.8 451.4 1231.4 452.8 1230.2 453.8C1228.9 454.8 1226.8 456.7 1225.2 457.6C1223.5 458.4 1219.8 459.6 1217.6 460.1C1215.5 460.6 1211.2 461.2 1208.9 461.3C1206.5 461.5 1202.3 461 1200.1 461.3C1198 461.7 1194.3 463.3 1192.6 463.8C1190.9 464.3 1189.3 465 1187.6 465.1C1185.9 465.2 1181.8 464.7 1180.1 464.5C1178.4 464.2 1176.8 463.3 1175.1 463.2C1173.4 463.1 1169.6 463.7 1167.6 463.8C1165.6 464 1162.1 464.3 1160.1 464.5C1158.1 464.6 1154.6 465 1152.6 465.1C1150.6 465.2 1147.1 465.3 1145.1 465.3C1143.1 465.3 1139.4 465.4 1137.5 465.1C1135.7 464.7 1133 463.6 1131.3 462.6C1129.6 461.6 1126.7 458.9 1125 457.6C1123.4 456.2 1120.4 453.8 1118.8 452.6C1117.1 451.3 1114.2 449.2 1112.5 448.2C1110.8 447.2 1107.9 445.8 1106.3 445.1C1104.6 444.3 1100.8 442.7 1100 442.6C1099.2 442.4 1100.9 443.4 1100 443.6C1099.1 443.8 1095.1 443.6 1093.3 443.8C1091.6 444.1 1088.8 445 1087.1 445.5C1085.3 445.9 1082 447.3 1080.2 447.3C1078.4 447.3 1075.3 446.4 1073.9 445.5C1072.6 444.5 1070.4 441.5 1069.9 440.1C1069.5 438.7 1070.2 436.2 1070.8 435.1C1071.4 434 1073.8 432.6 1074.6 432C1075.3 431.3 1077 430.6 1076.4 430.1C1075.9 429.6 1072 428.6 1070.2 428.2C1068.4 427.8 1064.7 427.4 1062.7 426.9C1060.7 426.4 1057.2 425.2 1055.2 424.4C1053.2 423.7 1049.7 422.2 1047.7 421.3C1045.7 420.4 1042.2 418.4 1040.2 417.6C1038.1 416.7 1034.8 415.6 1032.6 415.1C1030.5 414.5 1026 413.8 1023.9 413.2C1021.7 412.5 1018 411.1 1016.4 410.1C1014.7 409 1012.5 406.9 1011.4 405.7C1010.2 404.4 1008.8 401.8 1007.6 400.7C1006.4 399.5 1004.3 397.7 1002.6 396.9C1000.9 396.2 997.1 395.2 995.1 395C993.1 394.9 989.8 395.6 987.6 395.7C985.4 395.7 981.2 395.8 978.8 395.7C976.5 395.5 972.2 394.7 970.1 394.4C967.9 394.1 964.4 393.7 962.6 393.2C960.7 392.7 958 391.6 956.3 390.7C954.6 389.7 951.5 387.4 950 386.3C948.5 385.2 946.4 383.1 945 382.5C943.7 381.9 941.4 381.6 940 381.9C938.7 382.1 936.4 384.3 935 384.4C933.7 384.5 931.3 383.4 930 382.5C928.7 381.6 926.3 378.8 925 377.5C923.7 376.2 921.7 374.5 920 372.5C918.3 370.5 914.2 364.7 912.2 362.3C910.1 360 906.2 357 904.7 354.8C903.2 352.7 902.1 348.1 900.9 346.1C899.7 344.1 897.4 341.2 895.9 339.8C894.4 338.4 891.8 336.1 889.6 335.6C887.5 335.1 882.2 335.7 879.6 336.1C877 336.5 871.8 337.4 870.1 338.6C868.5 339.7 868.5 343.8 867.1 344.8C865.7 345.8 861.6 346.4 859.6 346.1C857.6 345.7 853.9 343.6 852.1 342.3C850.3 341 847.7 337.6 845.8 336.6C844 335.6 840.5 335.5 838.3 334.8C836.2 334.1 831.1 332.3 829.6 331C828.1 329.8 827.1 326.9 827.1 325.5C827.1 324.1 828.4 321.6 829.6 320.5C830.7 319.4 833.7 317.6 835.8 317.3C838 316.9 843.8 318.4 845.8 318C847.8 317.7 849.3 315.9 850.8 314.8C852.3 313.7 855.3 310.7 857.1 309.8C858.9 308.9 862.3 308.5 864.6 308C867 307.6 873.2 307 874.6 306.5C876 306 874.7 305.1 875.1 304.5C875.5 303.8 877.3 302.6 877.6 301.3C877.8 300.1 876.9 296.7 876.9 295.1C876.9 293.4 877.2 290.3 877.6 288.8C878 287.3 879.4 285.1 880.1 283.8C880.7 282.5 882 280.1 882.6 278.8C883.2 277.5 884.6 275 884.5 273.8C884.3 272.6 882.4 271.2 881.3 270C880.2 268.9 877.7 266.4 876.3 265C875 263.7 872.4 261.2 871.3 260C870.2 258.9 868.8 257.4 868.2 256.3C867.6 255.2 866.8 252.8 866.9 251.9Z" fill="none" stroke="#4169E1" stroke-width="6" stroke-linejoin="round"/>
<path d="M866.9 251.9C867.1 251 868.5 250 869.4 249.8C870.4 249.5 872.6 249.7 873.8 250C875.1 250.3 877.3 251.3 878.8 251.9C880.3 252.5 883.6 253.7 885.1 254.4C886.6 255.1 888.6 256.3 890.1 256.9C891.6 257.5 894.7 258.1 896.3 258.8C898 259.4 901.1 261.1 902.6 261.9C904.1 262.7 906.3 264.1 907.6 265C908.9 265.9 911.1 268 912.6 268.8C914.1 269.6 917 270.5 918.9 271.3C920.7 272 924.5 273.4 926.4 274.4C928.2 275.4 931.1 277.7 932.6 278.8C934.1 279.9 936.4 281.5 937.6 282.6C938.9 283.6 941 285.6 942 286.9C943 288.3 944.4 291.1 945.2 292.6C945.9 294 946.7 296.2 947.7 297.6C948.7 298.9 951.3 301.2 952.7 302.6C954 304 956.4 306.7 957.7 308.2C958.9 309.7 961.7 313.3 962.1 313.8C962.4 314.4 959.6 312 960 312.5C960.4 313 963.5 315.9 965 317.5C966.5 319.2 969.6 323.2 971.3 325C972.9 326.9 976.2 330.1 977.5 331.3C978.9 332.5 980.4 333.9 981.3 333.8C982.2 333.7 983.7 332.1 984.4 330.7C985.1 329.2 985.4 324.9 986.3 323.2C987.2 321.4 989.8 318.6 991.3 317.5C992.8 316.4 995.9 315.3 997.5 315C999.2 314.8 1002.1 315.1 1003.8 315.6C1005.5 316.1 1008.4 317.8 1010.1 318.8C1011.7 319.8 1014.7 322.3 1016.3 323.2C1018 324 1020.9 324.9 1022.6 325C1024.2 325.2 1027.2 324.7 1028.8 324.4C1030.5 324.2 1033.6 323 1035.1 323.2C1036.6 323.3 1038.4 324.6 1040.1 325.7C1041.8 326.7 1045.6 329.8 1047.6 331.3C1049.6 332.8 1053.1 335.6 1055.1 336.9C1057.1 338.3 1060.6 340.2 1062.6 341.3C1064.6 342.4 1068.3 344.1 1070.1 345.1C1072 346.1 1074.9 347.8 1076.4 348.8C1077.9 349.8 1080.2 351.9 1081.4 352.6C1082.6 353.2 1084 354.1 1085.2 353.8C1086.3 353.6 1089.2 351.7 1090.2 350.7C1091.2 349.7 1091.8 347.6 1092.7 346.3C1093.5 345.1 1095.3 342.4 1096.4 341.3C1097.6 340.2 1100.9 338.5 1101.4 338.2C1101.9 337.8 1099.7 338.8 1100 338.8C1100.3 338.7 1102.4 337.4 1103.8 337.5C1105.1 337.6 1108.3 338.9 1110 339.4C1111.7 339.9 1114.6 340.6 1116.3 341.3C1117.9 341.9 1120.9 343.6 1122.5 344.4C1124.2 345.2 1127.1 346.6 1128.8 347.5C1130.5 348.4 1133.2 350.5 1135 351.3C1136.9 352 1140.6 352.9 1142.6 353.2C1144.6 353.4 1148.2 353.1 1150.1 353.2C1151.9 353.2 1154.7 353.4 1156.3 353.8C1158 354.2 1160.9 355.5 1162.6 356.3C1164.2 357 1166.8 358.5 1168.8 359.4C1170.8 360.3 1175.1 362.1 1177.6 363.2C1180.1 364.3 1185.3 366.5 1187.6 367.5C1189.9 368.5 1193.1 369.8 1195.1 370.7C1197.1 371.6 1201 373.3 1202.6 374.4C1204.3 375.5 1206.6 377.6 1207.6 378.8C1208.6 380.1 1209.5 382.5 1210.1 383.8C1210.8 385.2 1211.5 387.5 1212.6 388.8C1213.8 390.2 1217.2 392.6 1218.9 393.8C1220.6 395.1 1224 396.9 1225.2 398.2C1226.3 399.5 1227.7 403.6 1227.7 403.8C1227.7 404.1 1225.3 399.8 1225.2 400C1225 400.2 1226.4 403.7 1226.4 405C1226.4 406.3 1225.2 408.5 1225.2 410C1225.2 411.5 1226.1 414.6 1226.4 416.3C1226.7 417.9 1227.7 421 1227.7 422.5C1227.6 424 1225.8 426.4 1225.8 427.5C1225.8 428.7 1226.7 430.5 1227.7 431.3C1228.6 432 1231.6 432.3 1232.7 433.2C1233.8 434 1235.4 436.1 1235.8 437.5C1236.2 439 1236 442.1 1235.8 443.8C1235.6 445.5 1235.3 448.7 1234.5 450.1C1233.8 451.4 1231.4 452.8 1230.2 453.8C1228.9 454.8 1226.8 456.7 1225.2 457.6C1223.5 458.4 1219.8 459.6 1217.6 460.1C1215.5 460.6 1211.2 461.2 1208.9 461.3C1206.5 461.5 1202.3 461 1200.1 461.3C1198 461.7 1194.3 463.3 1192.6 463.8C1190.9 464.3 1189.3 465 1187.6 465.1C1185.9 465.2 1181.8 464.7 1180.1 464.5C1178.4 464.2 1176.8 463.3 1175.1 463.2C1173.4 463.1 1169.6 463.7 1167.6 463.8C1165.6 464 1162.1 464.3 1160.1 464.5C1158.1 464.6 1154.6 465 1152.6 465.1C1150.6 465.2 1147.1 465.3 1145.1 465.3C1143.1 465.3 1139.4 465.4 1137.5 465.1C1135.7 464.7 1133 463.6 1131.3 462.6C1129.6 461.6 1126.7 458.9 1125 457.6C1123.4 456.2 1120.4 453.8 1118.8 452.6C1117.1 451.3 1114.2 449.2 1112.5 448.2C1110.8 447.2 1107.9 445.8 1106.3 445.1C1104.6 444.3 1100.8 442.7 1100 442.6C1099.2 442.4 1100.9 443.4 1100 443.6C1099.1 443.8 1095.1 443.6 1093.3 443.8C1091.6 444.1 1088.8 445 1087.1 445.5C1085.3 445.9 1082 447.3 1080.2 447.3C1078.4 447.3 1075.3 446.4 1073.9 445.5C1072.6 444.5 1070.4 441.5 1069.9 440.1C1069.5 438.7 1070.2 436.2 1070.8 435.1C1071.4 434 1073.8 432.6 1074.6 432C1075.3 431.3 1077 430.6 1076.4 430.1C1075.9 429.6 1072 428.6 1070.2 428.2C1068.4 427.8 1064.7 427.4 1062.7 426.9C1060.7 426.4 1057.2 425.2 1055.2 424.4C1053.2 423.7 1049.7 422.2 1047.7 421.3C1045.7 420.4 1042.2 418.4 1040.2 417.6C1038.1 416.7 1034.8 415.6 1032.6 415.1C1030.5 414.5 1026 413.8 1023.9 413.2C1021.7 412.5 1018 411.1 1016.4 410.1C1014.7 409 1012.5 406.9 1011.4 405.7C1010.2 404.4 1008.8 401.8 1007.6 400.7C1006.4 399.5 1004.3 397.7 1002.6 396.9C1000.9 396.2 997.1 395.2 995.1 395C993.1 394.9 989.8 395.6 987.6 395.7C985.4 395.7 981.2 395.8 978.8 395.7C976.5 395.5 972.2 394.7 970.1 394.4C967.9 394.1 964.4 393.7 962.6 393.2C960.7 392.7 958 391.6 956.3 390.7C954.6 389.7 951.5 387.4 950 386.3C948.5 385.2 946.4 383.1 945 382.5C943.7 381.9 941.4 381.6 940 381.9C938.7 382.1 936.4 384.3 935 384.4C933.7 384.5 931.3 383.4 930 382.5C928.7 381.6 926.3 378.8 925 377.5C923.7 376.2 921.7 374.5 920 372.5C918.3 370.5 914.2 364.7 912.2 362.3C910.1 360 906.2 357 904.7 354.8C903.2 352.7 902.1 348.1 900.9 346.1C899.7 344.1 897.4 341.2 895.9 339.8C894.4 338.4 891.8 336.1 889.6 335.6C887.5 335.1 882.2 335.7 879.6 336.1C877 336.5 871.8 337.4 870.1 338.6C868.5 339.7 868.5 343.8 867.1 344.8C865.7 345.8 861.6 346.4 859.6 346.1C857.6 345.7 853.9 343.6 852.1 342.3C850.3 341 847.7 337.6 845.8 336.6C844 335.6 840.5 335.5 838.3 334.8C836.2 334.1 831.1 332.3 829.6 331C828.1 329.8 827.1 326.9 827.1 325.5C827.1 324.1 828.4 321.6 829.6 320.5C830.7 319.4 833.7 317.6 835.8 317.3C838 316.9 843.8 318.4 845.8 318C847.8 317.7 849.3 315.9 850.8 314.8C852.3 313.7 855.3 310.7 857.1 309.8C858.9 308.9 862.3 308.5 864.6 308C867 307.6 873.2 307 874.6 306.5C876 306 874.7 305.1 875.1 304.5C875.5 303.8 877.3 302.6 877.6 301.3C877.8 300.1 876.9 296.7 876.9 295.1C876.9 293.4 877.2 290.3 877.6 288.8C878 287.3 879.4 285.1 880.1 283.8C880.7 282.5 882 280.1 882.6 278.8C883.2 277.5 884.6 275 884.5 273.8C884.3 272.6 882.4 271.2 881.3 270C880.2 268.9 877.7 266.4 876.3 265C875 263.7 872.4 261.2 871.3 260C870.2 258.9 868.8 257.4 868.2 256.3C867.6 255.2 866.8 252.8 866.9 251.9Z" fill="none" stroke="#6495ED" stroke-width="4.8" stroke-linejoin="round"/>
<path d="M866.9 251.9C867.1 251 868.5 250 869.4 249.8C870.4 249.5 872.6 249.7 873.8 250C875.1 250.3 877.3 251.3 878.8 251.9C880.3 252.5 883.6 253.7 885.1 254.4C886.6 255.1 888.6 256.3 890.1 256.9C891.6 257.5 894.7 258.1 896.3 258.8C898 259.4 901.1 261.1 902.6 261.9C904.1 262.7 906.3 264.1 907.6 265C908.9 265.9 911.1 268 912.6 268.8C914.1 269.6 917 270.5 918.9 271.3C920.7 272 924.5 273.4 926.4 274.4C928.2 275.4 931.1 277.7 932.6 278.8C934.1 279.9 936.4 281.5 937.6 282.6C938.9 283.6 941 285.6 942 286.9C943 288.3 944.4 291.1 945.2 292.6C945.9 294 946.7 296.2 947.7 297.6C948.7 298.9 951.3 301.2 952.7 302.6C954 304 956.4 306.7 957.7 308.2C958.9 309.7 961.7 313.3 962.1 313.8C962.4 314.4 959.6 312 960 312.5C960.4 313 963.5 315.9 965 317.5C966.5 319.2 969.6 323.2 971.3 325C972.9 326.9 976.2 330.1 977.5 331.3C978.9 332.5 980.4 333.9 981.3 333.8C982.2 333.7 983.7 332.1 984.4 330.7C985.1 329.2 985.4 324.9 986.3 323.2C987.2 321.4 989.8 318.6 991.3 317.5C992.8 316.4 995.9 315.3 997.5 315C999.2 314.8 1002.1 315.1 1003.8 315.6C1005.5 316.1 1008.4 317.8 1010.1 318.8C1011.7 319.8 1014.7 322.3 1016.3 323.2C1018 324 1020.9 324.9 1022.6 325C1024.2 325.2 1027.2 324.7 1028.8 324.4C1030.5 324.2 1033.6 323 1035.1 323.2C1036.6 323.3 1038.4 324.6 1040.1 325.7C1041.8 326.7 1045.6 329.8 1047.6 331.3C1049.6 332.8 1053.1 335.6 1055.1 336.9C1057.1 338.3 1060.6 340.2 1062.6 341.3C1064.6 342.4 1068.3 344.1 1070.1 345.1C1072 346.1 1074.9 347.8 1076.4 348.8C1077.9 349.8 1080.2 351.9 1081.4 352.6C1082.6 353.2 1084 354.1 1085.2 353.8C1086.3 353.6 1089.2 351.7 1090.2 350.7C1091.2 349.7 1091.8 347.6 1092.7 346.3C1093.5 345.1 1095.3 342.4 1096.4 341.3C1097.6 340.2 1100.9 338.5 1101.4 338.2C1101.9 337.8 1099.7 338.8 1100 338.8C1100.3 338.7 1102.4 337.4 1103.8 337.5C1105.1 337.6 1108.3 338.9 1110 339.4C1111.7 339.9 1114.6 340.6 1116.3 341.3C1117.9 341.9 1120.9 343.6 1122.5 344.4C1124.2 345.2 1127.1 346.6 1128.8 347.5C1130.5 348.4 1133.2 350.5 1135 351.3C1136.9 352 1140.6 352.9 1142.6 353.2C1144.6 353.4 1148.2 353.1 1150.1 353.2C1151.9 353.2 1154.7 353.4 1156.3 353.8C1158 354.2 1160.9 355.5 1162.6 356.3C1164.2 357 1166.8 358.5 1168.8 359.4C1170.8 360.3 1175.1 362.1 1177.6 363.2C1180.1 364.3 1185.3 366.5 1187.6 367.5C1189.9 368.5 1193.1 369.8 1195.1 370.7C1197.1 371.6 1201 373.3 1202.6 374.4C1204.3 375.5 1206.6 377.6 1207.6 378.8C1208.6 380.1 1209.5 382.5 1210.1 383.8C1210.8 385.2 1211.5 387.5 1212.6 388.8C1213.8 390.2 1217.2 392.6 1218.9 393.8C1220.6 395.1 1224 396.9 1225.2 398.2C1226.3 399.5 1227.7 403.6 1227.7 403.8C1227.7 404.1 1225.3 399.8 1225.2 400C1225 400.2 1226.4 403.7 1226.4 405C1226.4 406.3 1225.2 408.5 1225.2 410C1225.2 411.5 1226.1 414.6 1226.4 416.3C1226.7 417.9 1227.7 421 1227.7 422.5C1227.6 424 1225.8 426.4 1225.8 427.5C1225.8 428.7 1226.7 430.5 1227.7 431.3C1228.6 432 1231.6 432.3 1232.7 433.2C1233.8 434 1235.4 436.1 1235.8 437.5C1236.2 439 1236 442.1 1235.8 443.8C1235.6 445.5 1235.3 448.7 1234.5 450.1C1233.8 451.4 1231.4 452.8 1230.2 453.8C1228.9 454.8 1226.8 456.7 1225.2 457.6C1223.5 458.4 1219.8 459.6 1217.6 460.1C1215.5 460.6 1211.2 461.2 1208.9 461.3C1206.5 461.5 1202.3 461 1200.1 461.3C1198 461.7 1194.3 463.3 1192.6 463.8C1190.9 464.3 1189.3 465 1187.6 465.1C1185.9 465.2 1181.8 464.7 1180.1 464.5C1178.4 464.2 1176.8 463.3 1175.1 463.2C1173.4 463.1 1169.6 463.7 1167.6 463.8C1165.6 464 1162.1 464.3 1160.1 464.5C1158.1 464.6 1154.6 465 1152.6 465.1C1150.6 465.2 1147.1 465.3 1145.1 465.3C1143.1 465.3 1139.4 465.4 1137.5 465.1C1135.7 464.7 1133 463.6 1131.3 462.6C1129.6 461.6 1126.7 458.9 1125 457.6C1123.4 456.2 1120.4 453.8 1118.8 452.6C1117.1 451.3 1114.2 449.2 1112.5 448.2C1110.8 447.2 1107.9 445.8 1106.3 445.1C1104.6 444.3 1100.8 442.7 1100 442.6C1099.2 442.4 1100.9 443.4 1100 443.6C1099.1 443.8 1095.1 443.6 1093.3 443.8C1091.6 444.1 1088.8 445 1087.1 445.5C1085.3 445.9 1082 447.3 1080.2 447.3C1078.4 447.3 1075.3 446.4 1073.9 445.5C1072.6 444.5 1070.4 441.5 1069.9 440.1C1069.5 438.7 1070.2 436.2 1070.8 435.1C1071.4 434 1073.8 432.6 1074.6 432C1075.3 431.3 1077 430.6 1076.4 430.1C1075.9 429.6 1072 428.6 1070.2 428.2C1068.4 427.8 1064.7 427.4 1062.7 426.9C1060.7 426.4 1057.2 425.2 1055.2 424.4C1053.2 423.7 1049.7 422.2 1047.7 421.3C1045.7 420.4 1042.2 418.4 1040.2 417.6C1038.1 416.7 1034.8 415.6 1032.6 415.1C1030.5 414.5 1026 413.8 1023.9 413.2C1021.7 412.5 1018 411.1 1016.4 410.1C1014.7 409 1012.5 406.9 1011.4 405.7C1010.2 404.4 1008.8 401.8 1007.6 400.7C1006.4 399.5 1004.3 397.7 1002.6 396.9C1000.9 396.2 997.1 395.2 995.1 395C993.1 394.9 989.8 395.6 987.6 395.7C985.4 395.7 981.2 395.8 978.8 395.7C976.5 395.5 972.2 394.7 970.1 394.4C967.9 394.1 964.4 393.7 962.6 393.2C960.7 392.7 958 391.6 956.3 390.7C954.6 389.7 951.5 387.4 950 386.3C948.5 385.2 946.4 383.1 945 382.5C943.7 381.9 941.4 381.6 940 381.9C938.7 382.1 936.4 384.3 935 384.4C933.7 384.5 931.3 383.4 930 382.5C928.7 381.6 926.3 378.8 925 377.5C923.7 376.2 921.7 374.5 920 372.5C918.3 370.5 914.2 364.7 912.2 362.3C910.1 360 906.2 357 904.7 354.8C903.2 352.7 902.1 348.1 900.9 346.1C899.7 344.1 897.4 341.2 895.9 339.8C894.4 338.4 891.8 336.1 889.6 335.6C887.5 335.1 882.2 335.7 879.6 336.1C877 336.5 871.8 337.4 870.1 338.6C868.5 339.7 868.5 343.8 867.1 344.8C865.7 345.8 861.6 346.4 859.6 346.1C857.6 345.7 853.9 343.6 852.1 342.3C850.3 341 847.7 337.6 845.8 336.6C844 335.6 840.5 335.5 838.3 334.8C836.2 334.1 831.1 332.3 829.6 331C828.1 329.8 827.1 326.9 827.1 325.5C827.1 324.1 828.4 321.6 829.6 320.5C830.7 319.4 833.7 317.6 835.8 317.3C838 316.9 843.8 318.4 845.8 318C847.8 317.7 849.3 315.9 850.8 314.8C852.3 313.7 855.3 310.7 857.1 309.8C858.9 308.9 862.3 308.5 864.6 308C867 307.6 873.2 307 874.6 306.5C876 306 874.7 305.1 875.1 304.5C875.5 303.8 877.3 302.6 877.6 301.3C877.8 300.1 876.9 296.7 876.9 295.1C876.9 293.4 877.2 290.3 877.6 288.8C878 287.3 879.4 285.1 880.1 283.8C880.7 282.5 882 280.1 882.6 278.8C883.2 277.5 884.6 275 884.5 273.8C884.3 272.6 882.4 271.2 881.3 270C880.2 268.9 877.7 266.4 876.3 265C875 263.7 872.4 261.2 871.3 260C870.2 258.9 868.8 257.4 868.2 256.3C867.6 255.2 866.8 252.8 866.9 251.9Z" fill="none" stroke="#00BFFF" stroke-width="3.4" stroke-linejoin="round"/>
<path d="M866.9 251.9C867.1 251 868.5 250 869.4 249.8C870.4 249.5 872.6 249.7 873.8 250C875.1 250.3 877.3 251.3 878.8 251.9C880.3 252.5 883.6 253.7 885.1 254.4C886.6 255.1 888.6 256.3 890.1 256.9C891.6 257.5 894.7 258.1 896.3 258.8C898 259.4 901.1 261.1 902.6 261.9C904.1 262.7 906.3 264.1 907.6 265C908.9 265.9 911.1 268 912.6 268.8C914.1 269.6 917 270.5 918.9 271.3C920.7 272 924.5 273.4 926.4 274.4C928.2 275.4 931.1 277.7 932.6 278.8C934.1 279.9 936.4 281.5 937.6 282.6C938.9 283.6 941 285.6 942 286.9C943 288.3 944.4 291.1 945.2 292.6C945.9 294 946.7 296.2 947.7 297.6C948.7 298.9 951.3 301.2 952.7 302.6C954 304 956.4 306.7 957.7 308.2C958.9 309.7 961.7 313.3 962.1 313.8C962.4 314.4 959.6 312 960 312.5C960.4 313 963.5 315.9 965 317.5C966.5 319.2 969.6 323.2 971.3 325C972.9 326.9 976.2 330.1 977.5 331.3C978.9 332.5 980.4 333.9 981.3 333.8C982.2 333.7 983.7 332.1 984.4 330.7C985.1 329.2 985.4 324.9 986.3 323.2C987.2 321.4 989.8 318.6 991.3 317.5C992.8 316.4 995.9 315.3 997.5 315C999.2 314.8 1002.1 315.1 1003.8 315.6C1005.5 316.1 1008.4 317.8 1010.1 318.8C1011.7 319.8 1014.7 322.3 1016.3 323.2C1018 324 1020.9 324.9 1022.6 325C1024.2 325.2 1027.2 324.7 1028.8 324.4C1030.5 324.2 1033.6 323 1035.1 323.2C1036.6 323.3 1038.4 324.6 1040.1 325.7C1041.8 326.7 1045.6 329.8 1047.6 331.3C1049.6 332.8 1053.1 335.6 1055.1 336.9C1057.1 338.3 1060.6 340.2 1062.6 341.3C1064.6 342.4 1068.3 344.1 1070.1 345.1C1072 346.1 1074.9 347.8 1076.4 348.8C1077.9 349.8 1080.2 351.9 1081.4 352.6C1082.6 353.2 1084 354.1 1085.2 353.8C1086.3 353.6 1089.2 351.7 1090.2 350.7C1091.2 349.7 1091.8 347.6 1092.7 346.3C1093.5 345.1 1095.3 342.4 1096.4 341.3C1097.6 340.2 1100.9 338.5 1101.4 338.2C1101.9 337.8 1099.7 338.8 1100 338.8C1100.3 338.7 1102.4 337.4 1103.8 337.5C1105.1 337.6 1108.3 338.9 1110 339.4C1111.7 339.9 1114.6 340.6 1116.3 341.3C1117.9 341.9 1120.9 343.6 1122.5 344.4C1124.2 345.2 1127.1 346.6 1128.8 347.5C1130.5 348.4 1133.2 350.5 1135 351.3C1136.9 352 1140.6 352.9 1142.6 353.2C1144.6 353.4 1148.2 353.1 1150.1 353.2C1151.9 353.2 1154.7 353.4 1156.3 353.8C1158 354.2 1160.9 355.5 1162.6 356.3C1164.2 357 1166.8 358.5 1168.8 359.4C1170.8 360.3 1175.1 362.1 1177.6 363.2C1180.1 364.3 1185.3 366.5 1187.6 367.5C1189.9 368.5 1193.1 369.8 1195.1 370.7C1197.1 371.6 1201 373.3 1202.6 374.4C1204.3 375.5 1206.6 377.6 1207.6 378.8C1208.6 380.1 1209.5 382.5 1210.1 383.8C1210.8 385.2 1211.5 387.5 1212.6 388.8C1213.8 390.2 1217.2 392.6 1218.9 393.8C1220.6 395.1 1224 396.9 1225.2 398.2C1226.3 399.5 1227.7 403.6 1227.7 403.8C1227.7 404.1 1225.3 399.8 1225.2 400C1225 400.2 1226.4 403.7 1226.4 405C1226.4 406.3 1225.2 408.5 1225.2 410C1225.2 411.5 1226.1 414.6 1226.4 416.3C1226.7 417.9 1227.7 421 1227.7 422.5C1227.6 424 1225.8 426.4 1225.8 427.5C1225.8 428.7 1226.7 430.5 1227.7 431.3C1228.6 432 1231.6 432.3 1232.7 433.2C1233.8 434 1235.4 436.1 1235.8 437.5C1236.2 439 1236 442.1 1235.8 443.8C1235.6 445.5 1235.3 448.7 1234.5 450.1C1233.8 451.4 1231.4 452.8 1230.2 453.8C1228.9 454.8 1226.8 456.7 1225.2 457.6C1223.5 458.4 1219.8 459.6 1217.6 460.1C1215.5 460.6 1211.2 461.2 1208.9 461.3C1206.5 461.5 1202.3 461 1200.1 461.3C1198 461.7 1194.3 463.3 1192.6 463.8C1190.9 464.3 1189.3 465 1187.6 465.1C1185.9 465.2 1181.8 464.7 1180.1 464.5C1178.4 464.2 1176.8 463.3 1175.1 463.2C1173.4 463.1 1169.6 463.7 1167.6 463.8C1165.6 464 1162.1 464.3 1160.1 464.5C1158.1 464.6 1154.6 465 1152.6 465.1C1150.6 465.2 1147.1 465.3 1145.1 465.3C1143.1 465.3 1139.4 465.4 1137.5 465.1C1135.7 464.7 1133 463.6 1131.3 462.6C1129.6 461.6 1126.7 458.9 1125 457.6C1123.4 456.2 1120.4 453.8 1118.8 452.6C1117.1 451.3 1114.2 449.2 1112.5 448.2C1110.8 447.2 1107.9 445.8 1106.3 445.1C1104.6 444.3 1100.8 442.7 1100 442.6C1099.2 442.4 1100.9 443.4 1100 443.6C1099.1 443.8 1095.1 443.6 1093.3 443.8C1091.6 444.1 1088.8 445 1087.1 445.5C1085.3 445.9 1082 447.3 1080.2 447.3C1078.4 447.3 1075.3 446.4 1073.9 445.5C1072.6 444.5 1070.4 441.5 1069.9 440.1C1069.5 438.7 1070.2 436.2 1070.8 435.1C1071.4 434 1073.8 432.6 1074.6 432C1075.3 431.3 1077 430.6 1076.4 430.1C1075.9 429.6 1072 428.6 1070.2 428.2C1068.4 427.8 1064.7 427.4 1062.7 426.9C1060.7 426.4 1057.2 425.2 1055.2 424.4C1053.2 423.7 1049.7 422.2 1047.7 421.3C1045.7 420.4 1042.2 418.4 1040.2 417.6C1038.1 416.7 1034.8 415.6 1032.6 415.1C1030.5 414.5 1026 413.8 1023.9 413.2C1021.7 412.5 1018 411.1 1016.4 410.1C1014.7 409 1012.5 406.9 1011.4 405.7C1010.2 404.4 1008.8 401.8 1007.6 400.7C1006.4 399.5 1004.3 397.7 1002.6 396.9C1000.9 396.2 997.1 395.2 995.1 395C993.1 394.9 989.8 395.6 987.6 395.7C985.4 395.7 981.2 395.8 978.8 395.7C976.5 395.5 972.2 394.7 970.1 394.4C967.9 394.1 964.4 393.7 962.6 393.2C960.7 392.7 958 391.6 956.3 390.7C954.6 389.7 951.5 387.4 950 386.3C948.5 385.2 946.4 383.1 945 382.5C943.7 381.9 941.4 381.6 940 381.9C938.7 382.1 936.4 384.3 935 384.4C933.7 384.5 931.3 383.4 930 382.5C928.7 381.6 926.3 378.8 925 377.5C923.7 376.2 921.7 374.5 920 372.5C918.3 370.5 914.2 364.7 912.2 362.3C910.1 360 906.2 357 904.7 354.8C903.2 352.7 902.1 348.1 900.9 346.1C899.7 344.1 897.4 341.2 895.9 339.8C894.4 338.4 891.8 336.1 889.6 335.6C887.5 335.1 882.2 335.7 879.6 336.1C877 336.5 871.8 337.4 870.1 338.6C868.5 339.7 868.5 343.8 867.1 344.8C865.7 345.8 861.6 346.4 859.6 346.1C857.6 345.7 853.9 343.6 852.1 342.3C850.3 341 847.7 337.6 845.8 336.6C844 335.6 840.5 335.5 838.3 334.8C836.2 334.1 831.1 332.3 829.6 331C828.1 329.8 827.1 326.9 827.1 325.5C827.1 324.1 828.4 321.6 829.6 320.5C830.7 319.4 833.7 317.6 835.8 317.3C838 316.9 843.8 318.4 845.8 318C847.8 317.7 849.3 315.9 850.8 314.8C852.3 313.7 855.3 310.7 857.1 309.8C858.9 308.9 862.3 308.5 864.6 308C867 307.6 873.2 307 874.6 306.5C876 306 874.7 305.1 875.1 304.5C875.5 303.8 877.3 302.6 877.6 301.3C877.8 300.1 876.9 296.7 876.9 295.1C876.9 293.4 877.2 290.3 877.6 288.8C878 287.3 879.4 285.1 880.1 283.8C880.7 282.5 882 280.1 882.6 278.8C883.2 277.5 884.6 275 884.5 273.8C884.3 272.6 882.4 271.2 881.3 270C880.2 268.9 877.7 266.4 876.3 265C875 263.7 872.4 261.2 871.3 260C870.2 258.9 868.8 257.4 868.2 256.3C867.6 255.2 866.8 252.8 866.9 251.9Z" fill="none" stroke="#ADD8E6" stroke-width="1.2" stroke-linejoin="round"/>
</g>
<ellipse cx="1077.1" cy="438.8" rx="6.8" ry="6.6" fill="#ADD8E6"/>
<ellipse cx="1077.1" cy="438.8" rx="6.2" ry="6" fill="#00BFFF"/>
<ellipse cx="1077.1" cy="438.8" rx="5.3" ry="5.1" fill="#6495ED"/>
<ellipse cx="1077.1" cy="438.8" rx="4.6" ry="4.4" fill="#4169E1"/>
<ellipse cx="1077.1" cy="438.8" rx="2.8" ry="2.5" fill="#0000CD"/>
<ellipse cx="942.5" cy="396.8" rx="6.4" ry="6.4" fill="#ADD8E6"/>
<ellipse cx="942.5" cy="396.8" rx="5.8" ry="5.8" fill="#00BFFF"/>
<ellipse cx="942.5" cy="396.8" rx="5" ry="5" fill="#6495ED"/>
<ellipse cx="942.5" cy="397.2" rx="3.6" ry="3.8" fill="#0000CD"/>
<clipPath id="c2"><path d="M1236.3 386.3C1236 384.7 1238.2 381.5 1239.4 380.6C1240.6 379.8 1243.4 379.6 1245 380C1246.6 380.4 1249.3 383.2 1251.3 383.8C1253.3 384.3 1258 384 1260.1 384.4C1262.1 384.8 1264.6 386.6 1266.3 386.9C1268 387.2 1270.9 386.6 1272.6 386.9C1274.2 387.2 1277.2 388.5 1278.8 389.4C1280.5 390.3 1283.2 392.9 1285.1 393.8C1286.9 394.6 1290.6 395.3 1292.6 395.7C1294.6 396 1298.4 395.8 1300.1 396.3C1301.8 396.8 1304.2 398.3 1305.1 399.4C1306 400.5 1307 403.2 1307 404.4C1307 405.7 1305.7 407.7 1305.1 408.8C1304.5 409.9 1302.3 411.4 1302.6 412.5C1302.9 413.7 1306.4 416.1 1307.6 417.6C1308.8 419.1 1310.9 422.1 1311.4 423.8C1311.8 425.5 1311.2 428.6 1310.7 430.1C1310.2 431.6 1307.7 433.7 1307.6 435.1C1307.5 436.4 1309.1 438.6 1310.1 440.1C1311.1 441.6 1314.5 445.4 1315.1 446.3C1315.8 447.2 1315.2 446.1 1315.1 446.9C1315 447.7 1314.7 451 1314.5 452.5C1314.3 454.1 1313.5 457.5 1313.9 458.8C1314.3 460.1 1316.5 461.1 1317.6 461.9C1318.8 462.8 1321.6 464.2 1322.6 465.1C1323.6 465.9 1325 467.3 1325.1 468.2C1325.2 469.1 1324.1 471.4 1323.3 471.9C1322.4 472.4 1320 472.3 1318.9 471.9C1317.7 471.6 1315.3 469.9 1314.5 469.4C1313.7 468.9 1313.2 468.1 1312.6 468.2C1312 468.3 1310.9 469.9 1310.1 470.1C1309.3 470.2 1307 470 1306.4 469.4C1305.7 468.9 1305.8 466.6 1305.1 465.7C1304.4 464.8 1302.7 463.1 1301.4 462.6C1300 462 1296.6 461.9 1295.1 461.3C1293.6 460.7 1291.1 459.1 1290.1 458.2C1289.1 457.3 1287.8 455.4 1287.6 454.4C1287.4 453.4 1288 451.7 1288.8 450.7C1289.7 449.6 1293.5 447.2 1293.8 446.3C1294.2 445.4 1292.5 444.2 1291.3 443.8C1290.2 443.4 1286.6 443.7 1285.1 443.2C1283.6 442.7 1281.4 441.1 1280.1 440C1278.7 438.9 1276.1 436.4 1275.1 435C1274.1 433.7 1273.6 431.2 1272.6 430C1271.6 428.8 1269.1 427 1267.6 426.3C1266.1 425.5 1262.8 425.1 1261.3 424.4C1259.8 423.6 1257.4 421.7 1256.3 420.6C1255.2 419.5 1253.8 417.9 1253.2 416.3C1252.5 414.7 1252.2 411 1251.3 408.8C1250.4 406.6 1247.6 402.2 1246.3 400C1244.9 397.9 1242.6 394.4 1241.3 392.5C1239.9 390.7 1236.5 387.8 1236.3 386.3Z"/></clipPath>
<g clip-path="url(#c2)">
<path d="M1236.3 386.3C1236 384.7 1238.2 381.5 1239.4 380.6C1240.6 379.8 1243.4 379.6 1245 380C1246.6 380.4 1249.3 383.2 1251.3 383.8C1253.3 384.3 1258 384 1260.1 384.4C1262.1 384.8 1264.6 386.6 1266.3 386.9C1268 387.2 1270.9 386.6 1272.6 386.9C1274.2 387.2 1277.2 388.5 1278.8 389.4C1280.5 390.3 1283.2 392.9 1285.1 393.8C1286.9 394.6 1290.6 395.3 1292.6 395.7C1294.6 396 1298.4 395.8 1300.1 396.3C1301.8 396.8 1304.2 398.3 1305.1 399.4C1306 400.5 1307 403.2 1307 404.4C1307 405.7 1305.7 407.7 1305.1 408.8C1304.5 409.9 1302.3 411.4 1302.6 412.5C1302.9 413.7 1306.4 416.1 1307.6 417.6C1308.8 419.1 1310.9 422.1 1311.4 423.8C1311.8 425.5 1311.2 428.6 1310.7 430.1C1310.2 431.6 1307.7 433.7 1307.6 435.1C1307.5 436.4 1309.1 438.6 1310.1 440.1C1311.1 441.6 1314.5 445.4 1315.1 446.3C1315.8 447.2 1315.2 446.1 1315.1 446.9C1315 447.7 1314.7 451 1314.5 452.5C1314.3 454.1 1313.5 457.5 1313.9 458.8C1314.3 460.1 1316.5 461.1 1317.6 461.9C1318.8 462.8 1321.6 464.2 1322.6 465.1C1323.6 465.9 1325 467.3 1325.1 468.2C1325.2 469.1 1324.1 471.4 1323.3 471.9C1322.4 472.4 1320 472.3 1318.9 471.9C1317.7 471.6 1315.3 469.9 1314.5 469.4C1313.7 468.9 1313.2 468.1 1312.6 468.2C1312 468.3 1310.9 469.9 1310.1 470.1C1309.3 470.2 1307 470 1306.4 469.4C1305.7 468.9 1305.8 466.6 1305.1 465.7C1304.4 464.8 1302.7 463.1 1301.4 462.6C1300 462 1296.6 461.9 1295.1 461.3C1293.6 460.7 1291.1 459.1 1290.1 458.2C1289.1 457.3 1287.8 455.4 1287.6 454.4C1287.4 453.4 1288 451.7 1288.8 450.7C1289.7 449.6 1293.5 447.2 1293.8 446.3C1294.2 445.4 1292.5 444.2 1291.3 443.8C1290.2 443.4 1286.6 443.7 1285.1 443.2C1283.6 442.7 1281.4 441.1 1280.1 440C1278.7 438.9 1276.1 436.4 1275.1 435C1274.1 433.7 1273.6 431.2 1272.6 430C1271.6 428.8 1269.1 427 1267.6 426.3C1266.1 425.5 1262.8 425.1 1261.3 424.4C1259.8 423.6 1257.4 421.7 1256.3 420.6C1255.2 419.5 1253.8 417.9 1253.2 416.3C1252.5 414.7 1252.2 411 1251.3 408.8C1250.4 406.6 1247.6 402.2 1246.3 400C1244.9 397.9 1242.6 394.4 1241.3 392.5C1239.9 390.7 1236.5 387.8 1236.3 386.3Z" fill="#4169E1"/>
<path d="M1237.5 385C1237.1 383.8 1239.6 382.4 1240.7 381.9C1241.7 381.4 1243.6 380.8 1245 381.3C1246.4 381.7 1249.3 384.4 1251.3 385C1253.3 385.6 1258 385.2 1260.1 385.6C1262.1 386.1 1264.6 387.8 1266.3 388.1C1268 388.5 1270.9 387.8 1272.6 388.1C1274.2 388.5 1277.2 389.7 1278.8 390.6C1280.5 391.6 1283.2 394.2 1285.1 395C1286.9 395.9 1290.6 396.6 1292.6 396.9C1294.6 397.2 1298.6 397.1 1300.1 397.5C1301.6 397.9 1303.2 399.1 1303.9 400C1304.5 400.9 1305.6 403.4 1305.1 404.4C1304.6 405.4 1302.1 407.7 1300.1 407.5C1298.1 407.4 1292.8 404.2 1290.1 403.2C1287.4 402.2 1282.7 400.8 1280.1 400C1277.4 399.3 1272.7 398 1270.1 397.5C1267.4 397 1262.2 396.9 1260.1 396.3C1257.9 395.6 1255.3 392.9 1253.8 392.5C1252.3 392.2 1250.1 393.9 1248.8 393.8C1247.5 393.6 1245.3 392.4 1243.8 391.3C1242.3 390.1 1237.9 386.3 1237.5 385Z" fill="#00BFFF"/>
<path d="M1243.2 387.5C1243.6 386.8 1247 386.3 1248.8 386.3C1250.5 386.3 1254.3 387.1 1256.3 387.5C1258.3 387.9 1262 388.9 1263.8 389.4C1265.6 389.9 1268.6 390.7 1270.1 391.3C1271.6 391.9 1273.4 393.1 1275.1 393.8C1276.7 394.4 1280.6 395.6 1282.6 396.3C1284.6 396.9 1288.1 398.3 1290.1 398.8C1292.1 399.3 1295.9 399.6 1297.6 400C1299.3 400.4 1301.9 401.1 1302.6 401.9C1303.3 402.7 1303.3 405.7 1302.6 406.3C1301.9 406.9 1299.3 406.5 1297.6 406.3C1295.9 406 1292.4 405.1 1290.1 404.4C1287.8 403.7 1282.7 402 1280.1 401.3C1277.4 400.5 1272.7 399.3 1270.1 398.8C1267.4 398.3 1262.2 398.2 1260.1 397.5C1257.9 396.9 1255.3 394.1 1253.8 393.8C1252.3 393.4 1249.9 395.4 1248.8 395C1247.7 394.7 1246.4 392.3 1245.7 391.3C1244.9 390.3 1242.7 388.2 1243.2 387.5Z" fill="#6495ED"/>
<path d="M1250 393.8C1250.5 392.8 1252.5 393.3 1253.8 393.8C1255.1 394.3 1257.9 396.9 1260.1 397.5C1262.2 398.2 1267.4 398.3 1270.1 398.8C1272.7 399.3 1277.4 400.5 1280.1 401.3C1282.7 402 1287.8 403.7 1290.1 404.4C1292.4 405.1 1296.3 405.4 1297.6 406.3C1298.9 407.2 1299.1 409.6 1300.1 411.3C1301.1 413 1304.1 417 1305.1 418.8C1306.1 420.6 1307.4 423.4 1307.6 425.1C1307.8 426.7 1307 430 1306.4 431.3C1305.7 432.7 1304.3 434.1 1302.6 435.1C1300.9 436.1 1296 438.2 1293.8 438.8C1291.7 439.4 1288.2 439.8 1286.3 439.5C1284.5 439.1 1281.6 437.6 1280.1 436.3C1278.6 435.1 1276.6 431.6 1275.1 430.1C1273.6 428.6 1270.6 426.1 1268.8 425.1C1267 424.1 1263 423.6 1261.3 422.6C1259.6 421.6 1257.3 419.2 1256.3 417.6C1255.3 415.9 1254.5 412.2 1253.8 410C1253 407.9 1251.2 403.5 1250.7 401.3C1250.2 399.1 1249.6 394.8 1250 393.8Z" fill="#0000CD"/>
<path d="M1256.3 401.9C1257 400.9 1259.5 400 1261.3 400C1263.1 400 1267.7 401.3 1270.1 401.9C1272.4 402.5 1276.5 403.7 1278.8 404.4C1281.2 405.2 1285.4 406.7 1287.6 407.5C1289.8 408.4 1293.9 409.7 1295.1 410.7C1296.3 411.7 1296.7 413.9 1296.3 415.1C1296 416.2 1294.1 418.7 1292.6 419.4C1291.1 420.2 1286.9 420.3 1285.1 420.7C1283.2 421.1 1280.2 422.1 1278.8 422.6C1277.5 423.1 1276.6 424.4 1275.1 424.4C1273.6 424.5 1269.4 423.9 1267.6 423.2C1265.7 422.5 1262.6 420.7 1261.3 419.4C1260 418.2 1258.3 415.4 1257.5 413.8C1256.8 412.2 1255.8 409.1 1255.7 407.5C1255.5 406 1255.5 402.9 1256.3 401.9Z" fill="#00008B"/>
<path d="M1291.3 425.1C1292.7 424.5 1300.2 423.6 1301.4 423.8C1302.5 424 1301.1 425.6 1300.1 426.3C1299.1 427 1295 428.6 1293.8 428.8C1292.7 429.1 1291.7 428.7 1291.3 428.2C1291 427.7 1290 425.6 1291.3 425.1Z" fill="#00008B"/>
<path d="M1291.3 453.8C1291.5 452.6 1293.8 450.1 1295.1 448.8C1296.4 447.5 1299.7 444.5 1301.4 443.8C1303 443 1306.2 442.7 1307.6 443.2C1309 443.7 1311.4 445.9 1312 447.5C1312.6 449.1 1312.6 453.5 1312 455C1311.4 456.5 1309.2 458.2 1307.6 458.8C1306 459.4 1301.9 459.6 1300.1 459.4C1298.3 459.3 1295 458.3 1293.8 457.5C1292.7 456.8 1291.2 455 1291.3 453.8Z" fill="#0000CD"/>
<path d="M1293.8 454.4C1294.3 453.7 1299.7 452.6 1301.4 452.5C1303 452.5 1305.9 453.2 1306.4 453.8C1306.9 454.4 1306.3 456.3 1305.1 456.9C1303.9 457.5 1299.1 458.5 1297.6 458.2C1296.1 457.8 1293.3 455.2 1293.8 454.4Z" fill="#00008B"/>
<path d="M1236.3 386.3C1236 384.7 1238.2 381.5 1239.4 380.6C1240.6 379.8 1243.4 379.6 1245 380C1246.6 380.4 1249.3 383.2 1251.3 383.8C1253.3 384.3 1258 384 1260.1 384.4C1262.1 384.8 1264.6 386.6 1266.3 386.9C1268 387.2 1270.9 386.6 1272.6 386.9C1274.2 387.2 1277.2 388.5 1278.8 389.4C1280.5 390.3 1283.2 392.9 1285.1 393.8C1286.9 394.6 1290.6 395.3 1292.6 395.7C1294.6 396 1298.4 395.8 1300.1 396.3C1301.8 396.8 1304.2 398.3 1305.1 399.4C1306 400.5 1307 403.2 1307 404.4C1307 405.7 1305.7 407.7 1305.1 408.8C1304.5 409.9 1302.3 411.4 1302.6 412.5C1302.9 413.7 1306.4 416.1 1307.6 417.6C1308.8 419.1 1310.9 422.1 1311.4 423.8C1311.8 425.5 1311.2 428.6 1310.7 430.1C1310.2 431.6 1307.7 433.7 1307.6 435.1C1307.5 436.4 1309.1 438.6 1310.1 440.1C1311.1 441.6 1314.5 445.4 1315.1 446.3C1315.8 447.2 1315.2 446.1 1315.1 446.9C1315 447.7 1314.7 451 1314.5 452.5C1314.3 454.1 1313.5 457.5 1313.9 458.8C1314.3 460.1 1316.5 461.1 1317.6 461.9C1318.8 462.8 1321.6 464.2 1322.6 465.1C1323.6 465.9 1325 467.3 1325.1 468.2C1325.2 469.1 1324.1 471.4 1323.3 471.9C1322.4 472.4 1320 472.3 1318.9 471.9C1317.7 471.6 1315.3 469.9 1314.5 469.4C1313.7 468.9 1313.2 468.1 1312.6 468.2C1312 468.3 1310.9 469.9 1310.1 470.1C1309.3 470.2 1307 470 1306.4 469.4C1305.7 468.9 1305.8 466.6 1305.1 465.7C1304.4 464.8 1302.7 463.1 1301.4 462.6C1300 462 1296.6 461.9 1295.1 461.3C1293.6 460.7 1291.1 459.1 1290.1 458.2C1289.1 457.3 1287.8 455.4 1287.6 454.4C1287.4 453.4 1288 451.7 1288.8 450.7C1289.7 449.6 1293.5 447.2 1293.8 446.3C1294.2 445.4 1292.5 444.2 1291.3 443.8C1290.2 443.4 1286.6 443.7 1285.1 443.2C1283.6 442.7 1281.4 441.1 1280.1 440C1278.7 438.9 1276.1 436.4 1275.1 435C1274.1 433.7 1273.6 431.2 1272.6 430C1271.6 428.8 1269.1 427 1267.6 426.3C1266.1 425.5 1262.8 425.1 1261.3 424.4C1259.8 423.6 1257.4 421.7 1256.3 420.6C1255.2 419.5 1253.8 417.9 1253.2 416.3C1252.5 414.7 1252.2 411 1251.3 408.8C1250.4 406.6 1247.6 402.2 1246.3 400C1244.9 397.9 1242.6 394.4 1241.3 392.5C1239.9 390.7 1236.5 387.8 1236.3 386.3Z" fill="none" stroke="#6495ED" stroke-width="4" stroke-linejoin="round"/>
<path d="M1236.3 386.3C1236 384.7 1238.2 381.5 1239.4 380.6C1240.6 379.8 1243.4 379.6 1245 380C1246.6 380.4 1249.3 383.2 1251.3 383.8C1253.3 384.3 1258 384 1260.1 384.4C1262.1 384.8 1264.6 386.6 1266.3 386.9C1268 387.2 1270.9 386.6 1272.6 386.9C1274.2 387.2 1277.2 388.5 1278.8 389.4C1280.5 390.3 1283.2 392.9 1285.1 393.8C1286.9 394.6 1290.6 395.3 1292.6 395.7C1294.6 396 1298.4 395.8 1300.1 396.3C1301.8 396.8 1304.2 398.3 1305.1 399.4C1306 400.5 1307 403.2 1307 404.4C1307 405.7 1305.7 407.7 1305.1 408.8C1304.5 409.9 1302.3 411.4 1302.6 412.5C1302.9 413.7 1306.4 416.1 1307.6 417.6C1308.8 419.1 1310.9 422.1 1311.4 423.8C1311.8 425.5 1311.2 428.6 1310.7 430.1C1310.2 431.6 1307.7 433.7 1307.6 435.1C1307.5 436.4 1309.1 438.6 1310.1 440.1C1311.1 441.6 1314.5 445.4 1315.1 446.3C1315.8 447.2 1315.2 446.1 1315.1 446.9C1315 447.7 1314.7 451 1314.5 452.5C1314.3 454.1 1313.5 457.5 1313.9 458.8C1314.3 460.1 1316.5 461.1 1317.6 461.9C1318.8 462.8 1321.6 464.2 1322.6 465.1C1323.6 465.9 1325 467.3 1325.1 468.2C1325.2 469.1 1324.1 471.4 1323.3 471.9C1322.4 472.4 1320 472.3 1318.9 471.9C1317.7 471.6 1315.3 469.9 1314.5 469.4C1313.7 468.9 1313.2 468.1 1312.6 468.2C1312 468.3 1310.9 469.9 1310.1 470.1C1309.3 470.2 1307 470 1306.4 469.4C1305.7 468.9 1305.8 466.6 1305.1 465.7C1304.4 464.8 1302.7 463.1 1301.4 462.6C1300 462 1296.6 461.9 1295.1 461.3C1293.6 460.7 1291.1 459.1 1290.1 458.2C1289.1 457.3 1287.8 455.4 1287.6 454.4C1287.4 453.4 1288 451.7 1288.8 450.7C1289.7 449.6 1293.5 447.2 1293.8 446.3C1294.2 445.4 1292.5 444.2 1291.3 443.8C1290.2 443.4 1286.6 443.7 1285.1 443.2C1283.6 442.7 1281.4 441.1 1280.1 440C1278.7 438.9 1276.1 436.4 1275.1 435C1274.1 433.7 1273.6 431.2 1272.6 430C1271.6 428.8 1269.1 427 1267.6 426.3C1266.1 425.5 1262.8 425.1 1261.3 424.4C1259.8 423.6 1257.4 421.7 1256.3 420.6C1255.2 419.5 1253.8 417.9 1253.2 416.3C1252.5 414.7 1252.2 411 1251.3 408.8C1250.4 406.6 1247.6 402.2 1246.3 400C1244.9 397.9 1242.6 394.4 1241.3 392.5C1239.9 390.7 1236.5 387.8 1236.3 386.3Z" fill="none" stroke="#00BFFF" stroke-width="2.7" stroke-linejoin="round"/>
<path d="M1236.3 386.3C1236 384.7 1238.2 381.5 1239.4 380.6C1240.6 379.8 1243.4 379.6 1245 380C1246.6 380.4 1249.3 383.2 1251.3 383.8C1253.3 384.3 1258 384 1260.1 384.4C1262.1 384.8 1264.6 386.6 1266.3 386.9C1268 387.2 1270.9 386.6 1272.6 386.9C1274.2 387.2 1277.2 388.5 1278.8 389.4C1280.5 390.3 1283.2 392.9 1285.1 393.8C1286.9 394.6 1290.6 395.3 1292.6 395.7C1294.6 396 1298.4 395.8 1300.1 396.3C1301.8 396.8 1304.2 398.3 1305.1 399.4C1306 400.5 1307 403.2 1307 404.4C1307 405.7 1305.7 407.7 1305.1 408.8C1304.5 409.9 1302.3 411.4 1302.6 412.5C1302.9 413.7 1306.4 416.1 1307.6 417.6C1308.8 419.1 1310.9 422.1 1311.4 423.8C1311.8 425.5 1311.2 428.6 1310.7 430.1C1310.2 431.6 1307.7 433.7 1307.6 435.1C1307.5 436.4 1309.1 438.6 1310.1 440.1C1311.1 441.6 1314.5 445.4 1315.1 446.3C1315.8 447.2 1315.2 446.1 1315.1 446.9C1315 447.7 1314.7 451 1314.5 452.5C1314.3 454.1 1313.5 457.5 1313.9 458.8C1314.3 460.1 1316.5 461.1 1317.6 461.9C1318.8 462.8 1321.6 464.2 1322.6 465.1C1323.6 465.9 1325 467.3 1325.1 468.2C1325.2 469.1 1324.1 471.4 1323.3 471.9C1322.4 472.4 1320 472.3 1318.9 471.9C1317.7 471.6 1315.3 469.9 1314.5 469.4C1313.7 468.9 1313.2 468.1 1312.6 468.2C1312 468.3 1310.9 469.9 1310.1 470.1C1309.3 470.2 1307 470 1306.4 469.4C1305.7 468.9 1305.8 466.6 1305.1 465.7C1304.4 464.8 1302.7 463.1 1301.4 462.6C1300 462 1296.6 461.9 1295.1 461.3C1293.6 460.7 1291.1 459.1 1290.1 458.2C1289.1 457.3 1287.8 455.4 1287.6 454.4C1287.4 453.4 1288 451.7 1288.8 450.7C1289.7 449.6 1293.5 447.2 1293.8 446.3C1294.2 445.4 1292.5 444.2 1291.3 443.8C1290.2 443.4 1286.6 443.7 1285.1 443.2C1283.6 442.7 1281.4 441.1 1280.1 440C1278.7 438.9 1276.1 436.4 1275.1 435C1274.1 433.7 1273.6 431.2 1272.6 430C1271.6 428.8 1269.1 427 1267.6 426.3C1266.1 425.5 1262.8 425.1 1261.3 424.4C1259.8 423.6 1257.4 421.7 1256.3 420.6C1255.2 419.5 1253.8 417.9 1253.2 416.3C1252.5 414.7 1252.2 411 1251.3 408.8C1250.4 406.6 1247.6 402.2 1246.3 400C1244.9 397.9 1242.6 394.4 1241.3 392.5C1239.9 390.7 1236.5 387.8 1236.3 386.3Z" fill="none" stroke="#ADD8E6" stroke-width="0.9" stroke-linejoin="round"/>
</g>
<clipPath id="c3"><path d="M607.5 80C607.8 78.4 609 75.3 610 73.8C611 72.3 613.4 69.7 615 68.8C616.7 67.8 620.5 67.1 622.5 66.9C624.5 66.7 628 67 630.1 67.5C632.1 68 635.6 70.2 637.6 70.6C639.6 71.1 643.1 70.6 645.1 70.6C647.1 70.6 650.9 70.3 652.6 70.6C654.2 71 656.5 72.2 657.6 73.1C658.7 74.1 660.1 76.1 660.7 77.5C661.3 78.9 661.6 82.1 662 83.8C662.3 85.5 662.6 88.4 663.2 90C663.8 91.7 665.3 94.5 666.3 96.3C667.4 98.1 670 101.3 671.4 103.2C672.7 105 675.5 108.3 676.4 110.1C677.2 111.8 677.8 114.8 677.6 116.3C677.4 117.8 676.1 120.2 675.1 121.3C674.1 122.5 671.8 124.4 670.1 125.1C668.4 125.8 664.6 126.3 662.6 126.3C660.6 126.3 656.9 125.7 655.1 125.1C653.2 124.5 650.5 123 648.8 122C647.2 120.9 644.2 118.2 642.6 117C640.9 115.7 638 114 636.3 112.6C634.6 111.2 631.7 107.8 630.1 106.3C628.4 104.8 625.6 102.5 623.8 101.3C622 100.1 618 98.7 616.3 97.6C614.5 96.4 611.8 94 610.7 92.5C609.5 91 608.2 88 607.8 86.3C607.4 84.6 607.2 81.7 607.5 80Z"/></clipPath>
<g clip-path="url(#c3)">
<path d="M607.5 80C607.8 78.4 609 75.3 610 73.8C611 72.3 613.4 69.7 615 68.8C616.7 67.8 620.5 67.1 622.5 66.9C624.5 66.7 628 67 630.1 67.5C632.1 68 635.6 70.2 637.6 70.6C639.6 71.1 643.1 70.6 645.1 70.6C647.1 70.6 650.9 70.3 652.6 70.6C654.2 71 656.5 72.2 657.6 73.1C658.7 74.1 660.1 76.1 660.7 77.5C661.3 78.9 661.6 82.1 662 83.8C662.3 85.5 662.6 88.4 663.2 90C663.8 91.7 665.3 94.5 666.3 96.3C667.4 98.1 670 101.3 671.4 103.2C672.7 105 675.5 108.3 676.4 110.1C677.2 111.8 677.8 114.8 677.6 116.3C677.4 117.8 676.1 120.2 675.1 121.3C674.1 122.5 671.8 124.4 670.1 125.1C668.4 125.8 664.6 126.3 662.6 126.3C660.6 126.3 656.9 125.7 655.1 125.1C653.2 124.5 650.5 123 648.8 122C647.2 120.9 644.2 118.2 642.6 117C640.9 115.7 638 114 636.3 112.6C634.6 111.2 631.7 107.8 630.1 106.3C628.4 104.8 625.6 102.5 623.8 101.3C622 100.1 618 98.7 616.3 97.6C614.5 96.4 611.8 94 610.7 92.5C609.5 91 608.2 88 607.8 86.3C607.4 84.6 607.2 81.7 607.5 80Z" fill="#0000CD"/>
<path d="M615 78.8C615 76.9 616.5 74.8 617.5 73.8C618.5 72.8 620.9 71.5 622.5 71.3C624.2 71 628 71.6 630.1 71.9C632.1 72.2 635.6 73.5 637.6 73.8C639.6 74 643.4 73.5 645.1 73.8C646.7 74 648.9 74.8 650.1 75.7C651.2 76.5 653.2 78.4 653.8 80C654.5 81.6 654.6 85.5 655.1 87.5C655.6 89.5 656.6 93.2 657.6 95.1C658.6 96.9 661.1 99.6 662.6 101.3C664.1 103 667.4 105.9 668.8 107.6C670.3 109.2 672.6 112.3 673.2 113.8C673.9 115.3 674.3 117.7 673.9 118.8C673.4 120 671.4 121.9 670.1 122.6C668.8 123.3 665.7 123.8 663.8 123.8C662 123.8 658.2 123.2 656.3 122.6C654.5 122 651.7 120.6 650.1 119.5C648.4 118.3 645.5 115.2 643.8 113.8C642.1 112.4 639.2 110.2 637.6 108.8C635.9 107.4 633 104.7 631.3 103.2C629.6 101.7 626.5 98.8 625 97.6C623.5 96.3 621 95.1 620 93.8C619 92.5 618.2 89.5 617.5 87.5C616.9 85.5 615 80.6 615 78.8Z" fill="#00008B"/>
<path d="M607.5 80C607.8 78.4 609 75.3 610 73.8C611 72.3 613.4 69.7 615 68.8C616.7 67.8 620.5 67.1 622.5 66.9C624.5 66.7 628 67 630.1 67.5C632.1 68 635.6 70.2 637.6 70.6C639.6 71.1 643.1 70.6 645.1 70.6C647.1 70.6 650.9 70.3 652.6 70.6C654.2 71 656.5 72.2 657.6 73.1C658.7 74.1 660.1 76.1 660.7 77.5C661.3 78.9 661.6 82.1 662 83.8C662.3 85.5 662.6 88.4 663.2 90C663.8 91.7 665.3 94.5 666.3 96.3C667.4 98.1 670 101.3 671.4 103.2C672.7 105 675.5 108.3 676.4 110.1C677.2 111.8 677.8 114.8 677.6 116.3C677.4 117.8 676.1 120.2 675.1 121.3C674.1 122.5 671.8 124.4 670.1 125.1C668.4 125.8 664.6 126.3 662.6 126.3C660.6 126.3 656.9 125.7 655.1 125.1C653.2 124.5 650.5 123 648.8 122C647.2 120.9 644.2 118.2 642.6 117C640.9 115.7 638 114 636.3 112.6C634.6 111.2 631.7 107.8 630.1 106.3C628.4 104.8 625.6 102.5 623.8 101.3C622 100.1 618 98.7 616.3 97.6C614.5 96.4 611.8 94 610.7 92.5C609.5 91 608.2 88 607.8 86.3C607.4 84.6 607.2 81.7 607.5 80Z" fill="none" stroke="#4169E1" stroke-width="8.4" stroke-linejoin="round"/>
<path d="M607.5 80C607.8 78.4 609 75.3 610 73.8C611 72.3 613.4 69.7 615 68.8C616.7 67.8 620.5 67.1 622.5 66.9C624.5 66.7 628 67 630.1 67.5C632.1 68 635.6 70.2 637.6 70.6C639.6 71.1 643.1 70.6 645.1 70.6C647.1 70.6 650.9 70.3 652.6 70.6C654.2 71 656.5 72.2 657.6 73.1C658.7 74.1 660.1 76.1 660.7 77.5C661.3 78.9 661.6 82.1 662 83.8C662.3 85.5 662.6 88.4 663.2 90C663.8 91.7 665.3 94.5 666.3 96.3C667.4 98.1 670 101.3 671.4 103.2C672.7 105 675.5 108.3 676.4 110.1C677.2 111.8 677.8 114.8 677.6 116.3C677.4 117.8 676.1 120.2 675.1 121.3C674.1 122.5 671.8 124.4 670.1 125.1C668.4 125.8 664.6 126.3 662.6 126.3C660.6 126.3 656.9 125.7 655.1 125.1C653.2 124.5 650.5 123 648.8 122C647.2 120.9 644.2 118.2 642.6 117C640.9 115.7 638 114 636.3 112.6C634.6 111.2 631.7 107.8 630.1 106.3C628.4 104.8 625.6 102.5 623.8 101.3C622 100.1 618 98.7 616.3 97.6C614.5 96.4 611.8 94 610.7 92.5C609.5 91 608.2 88 607.8 86.3C607.4 84.6 607.2 81.7 607.5 80Z" fill="none" stroke="#6495ED" stroke-width="6.6" stroke-linejoin="round"/>
<path d="M607.5 80C607.8 78.4 609 75.3 610 73.8C611 72.3 613.4 69.7 615 68.8C616.7 67.8 620.5 67.1 622.5 66.9C624.5 66.7 628 67 630.1 67.5C632.1 68 635.6 70.2 637.6 70.6C639.6 71.1 643.1 70.6 645.1 70.6C647.1 70.6 650.9 70.3 652.6 70.6C654.2 71 656.5 72.2 657.6 73.1C658.7 74.1 660.1 76.1 660.7 77.5C661.3 78.9 661.6 82.1 662 83.8C662.3 85.5 662.6 88.4 663.2 90C663.8 91.7 665.3 94.5 666.3 96.3C667.4 98.1 670 101.3 671.4 103.2C672.7 105 675.5 108.3 676.4 110.1C677.2 111.8 677.8 114.8 677.6 116.3C677.4 117.8 676.1 120.2 675.1 121.3C674.1 122.5 671.8 124.4 670.1 125.1C668.4 125.8 664.6 126.3 662.6 126.3C660.6 126.3 656.9 125.7 655.1 125.1C653.2 124.5 650.5 123 648.8 122C647.2 120.9 644.2 118.2 642.6 117C640.9 115.7 638 114 636.3 112.6C634.6 111.2 631.7 107.8 630.1 106.3C628.4 104.8 625.6 102.5 623.8 101.3C622 100.1 618 98.7 616.3 97.6C614.5 96.4 611.8 94 610.7 92.5C609.5 91 608.2 88 607.8 86.3C607.4 84.6 607.2 81.7 607.5 80Z" fill="none" stroke="#00BFFF" stroke-width="4.6" stroke-linejoin="round"/>
<path d="M607.5 80C607.8 78.4 609 75.3 610 73.8C611 72.3 613.4 69.7 615 68.8C616.7 67.8 620.5 67.1 622.5 66.9C624.5 66.7 628 67 630.1 67.5C632.1 68 635.6 70.2 637.6 70.6C639.6 71.1 643.1 70.6 645.1 70.6C647.1 70.6 650.9 70.3 652.6 70.6C654.2 71 656.5 72.2 657.6 73.1C658.7 74.1 660.1 76.1 660.7 77.5C661.3 78.9 661.6 82.1 662 83.8C662.3 85.5 662.6 88.4 663.2 90C663.8 91.7 665.3 94.5 666.3 96.3C667.4 98.1 670 101.3 671.4 103.2C672.7 105 675.5 108.3 676.4 110.1C677.2 111.8 677.8 114.8 677.6 116.3C677.4 117.8 676.1 120.2 675.1 121.3C674.1 122.5 671.8 124.4 670.1 125.1C668.4 125.8 664.6 126.3 662.6 126.3C660.6 126.3 656.9 125.7 655.1 125.1C653.2 124.5 650.5 123 648.8 122C647.2 120.9 644.2 118.2 642.6 117C640.9 115.7 638 114 636.3 112.6C634.6 111.2 631.7 107.8 630.1 106.3C628.4 104.8 625.6 102.5 623.8 101.3C622 100.1 618 98.7 616.3 97.6C614.5 96.4 611.8 94 610.7 92.5C609.5 91 608.2 88 607.8 86.3C607.4 84.6 607.2 81.7 607.5 80Z" fill="none" stroke="#ADD8E6" stroke-width="1.6" stroke-linejoin="round"/>
</g>
<clipPath id="c4"><path d="M557.5 220C557.7 218.8 559.2 215.4 560 213.8C560.9 212.1 562.6 208.7 563.8 207.5C564.9 206.4 567.1 205.3 568.8 205C570.4 204.8 574.1 205.4 576.3 205.6C578.5 205.9 582.5 206.7 585.1 206.9C587.6 207.1 592.7 206.7 595.1 206.9C597.4 207.1 600.6 207.6 602.6 208.1C604.6 208.6 608.1 210.4 610.1 210.7C612.1 210.9 615.3 210.2 617.6 210C619.9 209.9 624.9 209.5 627.6 209.4C630.3 209.3 634.9 209.5 637.6 209.4C640.3 209.3 645 208.9 647.6 208.8C650.3 208.7 655.3 208.4 657.6 208.8C660 209.1 663.5 210.4 665.2 211.3C666.8 212.1 668.9 213.9 670.2 215C671.4 216.1 673.7 218.2 674.5 219.4C675.4 220.6 676.3 222.5 676.4 223.8C676.5 225 676 227.6 675.2 228.8C674.3 230 671.8 231.8 670.2 232.6C668.5 233.3 664.6 234 662.6 234.4C660.6 234.8 657.5 235.5 655.1 235.7C652.8 235.8 647.5 235.7 645.1 235.7C642.8 235.7 640 235.7 637.6 235.7C635.3 235.7 629.9 235.8 627.6 235.7C625.3 235.5 622.1 234.7 620.1 234.4C618.1 234.2 614.6 234 612.6 233.8C610.6 233.6 607.1 233.3 605.1 233.2C603.1 233.1 599.2 232.8 597.6 233.2C595.9 233.5 593.9 234.9 592.6 235.7C591.2 236.4 588.9 238.6 587.6 238.8C586.2 239 583.9 237.7 582.5 236.9C581.2 236.2 579 234.3 577.5 233.2C576 232 573 229.3 571.3 228.2C569.6 227 566.7 225.1 565 224.4C563.4 223.8 559.8 223.8 558.8 223.2C557.8 222.6 557.3 221.3 557.5 220Z"/></clipPath>
<g clip-path="url(#c4)">
<path d="M557.5 220C557.7 218.8 559.2 215.4 560 213.8C560.9 212.1 562.6 208.7 563.8 207.5C564.9 206.4 567.1 205.3 568.8 205C570.4 204.8 574.1 205.4 576.3 205.6C578.5 205.9 582.5 206.7 585.1 206.9C587.6 207.1 592.7 206.7 595.1 206.9C597.4 207.1 600.6 207.6 602.6 208.1C604.6 208.6 608.1 210.4 610.1 210.7C612.1 210.9 615.3 210.2 617.6 210C619.9 209.9 624.9 209.5 627.6 209.4C630.3 209.3 634.9 209.5 637.6 209.4C640.3 209.3 645 208.9 647.6 208.8C650.3 208.7 655.3 208.4 657.6 208.8C660 209.1 663.5 210.4 665.2 211.3C666.8 212.1 668.9 213.9 670.2 215C671.4 216.1 673.7 218.2 674.5 219.4C675.4 220.6 676.3 222.5 676.4 223.8C676.5 225 676 227.6 675.2 228.8C674.3 230 671.8 231.8 670.2 232.6C668.5 233.3 664.6 234 662.6 234.4C660.6 234.8 657.5 235.5 655.1 235.7C652.8 235.8 647.5 235.7 645.1 235.7C642.8 235.7 640 235.7 637.6 235.7C635.3 235.7 629.9 235.8 627.6 235.7C625.3 235.5 622.1 234.7 620.1 234.4C618.1 234.2 614.6 234 612.6 233.8C610.6 233.6 607.1 233.3 605.1 233.2C603.1 233.1 599.2 232.8 597.6 233.2C595.9 233.5 593.9 234.9 592.6 235.7C591.2 236.4 588.9 238.6 587.6 238.8C586.2 239 583.9 237.7 582.5 236.9C581.2 236.2 579 234.3 577.5 233.2C576 232 573 229.3 571.3 228.2C569.6 227 566.7 225.1 565 224.4C563.4 223.8 559.8 223.8 558.8 223.2C557.8 222.6 557.3 221.3 557.5 220Z" fill="#0000CD"/>
<path d="M567.5 218.8C567.5 217.8 568.6 215.5 569.4 214.4C570.2 213.3 572 211.2 573.8 210.7C575.5 210.1 580 210.1 582.5 210C585.1 209.9 590.1 209.9 592.6 210C595.1 210.1 599 210.2 601.3 210.7C603.7 211.1 607.6 212.9 610.1 213.2C612.6 213.4 617.4 212.6 620.1 212.5C622.8 212.4 627.4 212.6 630.1 212.5C632.8 212.4 637.4 212 640.1 211.9C642.8 211.8 647.8 211.8 650.1 211.9C652.5 212 655.8 212.1 657.6 212.5C659.5 212.9 662.4 214.2 663.9 215C665.4 215.9 668.1 217.8 668.9 218.8C669.7 219.8 670.7 221.9 670.2 222.5C669.7 223.2 666.8 224 665.2 223.8C663.5 223.6 659.6 221.8 657.6 221.3C655.6 220.8 652.1 220.1 650.1 220C648.1 220 645 220.3 642.6 220.7C640.3 221 634.1 222 632.6 222.5C631.1 223 630.7 224.1 631.4 224.4C632 224.8 635.8 224.9 637.6 225C639.5 225.2 643.8 225.3 645.1 225.7C646.5 226 648.3 227.1 647.6 227.5C647 228 642.1 228.5 640.1 228.8C638.1 229 634.9 229.3 632.6 229.4C630.3 229.6 624.9 230.1 622.6 230.1C620.3 230.1 617.1 229.6 615.1 229.4C613.1 229.3 609.6 228.9 607.6 228.8C605.6 228.7 601.7 228.5 600.1 228.8C598.4 229 596.4 230.1 595.1 230.7C593.7 231.3 591.4 233 590.1 233.2C588.7 233.3 586.4 232.5 585.1 231.9C583.7 231.3 581.5 229.7 580 228.8C578.5 227.9 575.2 226 573.8 225C572.4 224.1 570.2 222.7 569.4 221.9C568.6 221.1 567.5 219.8 567.5 218.8Z" fill="#00008B"/>
<ellipse cx="576.3" cy="217" rx="2.6" ry="2.2" fill="#0000CD"/>
<path d="M557.5 220C557.7 218.8 559.2 215.4 560 213.8C560.9 212.1 562.6 208.7 563.8 207.5C564.9 206.4 567.1 205.3 568.8 205C570.4 204.8 574.1 205.4 576.3 205.6C578.5 205.9 582.5 206.7 585.1 206.9C587.6 207.1 592.7 206.7 595.1 206.9C597.4 207.1 600.6 207.6 602.6 208.1C604.6 208.6 608.1 210.4 610.1 210.7C612.1 210.9 615.3 210.2 617.6 210C619.9 209.9 624.9 209.5 627.6 209.4C630.3 209.3 634.9 209.5 637.6 209.4C640.3 209.3 645 208.9 647.6 208.8C650.3 208.7 655.3 208.4 657.6 208.8C660 209.1 663.5 210.4 665.2 211.3C666.8 212.1 668.9 213.9 670.2 215C671.4 216.1 673.7 218.2 674.5 219.4C675.4 220.6 676.3 222.5 676.4 223.8C676.5 225 676 227.6 675.2 228.8C674.3 230 671.8 231.8 670.2 232.6C668.5 233.3 664.6 234 662.6 234.4C660.6 234.8 657.5 235.5 655.1 235.7C652.8 235.8 647.5 235.7 645.1 235.7C642.8 235.7 640 235.7 637.6 235.7C635.3 235.7 629.9 235.8 627.6 235.7C625.3 235.5 622.1 234.7 620.1 234.4C618.1 234.2 614.6 234 612.6 233.8C610.6 233.6 607.1 233.3 605.1 233.2C603.1 233.1 599.2 232.8 597.6 233.2C595.9 233.5 593.9 234.9 592.6 235.7C591.2 236.4 588.9 238.6 587.6 238.8C586.2 239 583.9 237.7 582.5 236.9C581.2 236.2 579 234.3 577.5 233.2C576 232 573 229.3 571.3 228.2C569.6 227 566.7 225.1 565 224.4C563.4 223.8 559.8 223.8 558.8 223.2C557.8 222.6 557.3 221.3 557.5 220Z" fill="none" stroke="#4169E1" stroke-width="8.4" stroke-linejoin="round"/>
<path d="M557.5 220C557.7 218.8 559.2 215.4 560 213.8C560.9 212.1 562.6 208.7 563.8 207.5C564.9 206.4 567.1 205.3 568.8 205C570.4 204.8 574.1 205.4 576.3 205.6C578.5 205.9 582.5 206.7 585.1 206.9C587.6 207.1 592.7 206.7 595.1 206.9C597.4 207.1 600.6 207.6 602.6 208.1C604.6 208.6 608.1 210.4 610.1 210.7C612.1 210.9 615.3 210.2 617.6 210C619.9 209.9 624.9 209.5 627.6 209.4C630.3 209.3 634.9 209.5 637.6 209.4C640.3 209.3 645 208.9 647.6 208.8C650.3 208.7 655.3 208.4 657.6 208.8C660 209.1 663.5 210.4 665.2 211.3C666.8 212.1 668.9 213.9 670.2 215C671.4 216.1 673.7 218.2 674.5 219.4C675.4 220.6 676.3 222.5 676.4 223.8C676.5 225 676 227.6 675.2 228.8C674.3 230 671.8 231.8 670.2 232.6C668.5 233.3 664.6 234 662.6 234.4C660.6 234.8 657.5 235.5 655.1 235.7C652.8 235.8 647.5 235.7 645.1 235.7C642.8 235.7 640 235.7 637.6 235.7C635.3 235.7 629.9 235.8 627.6 235.7C625.3 235.5 622.1 234.7 620.1 234.4C618.1 234.2 614.6 234 612.6 233.8C610.6 233.6 607.1 233.3 605.1 233.2C603.1 233.1 599.2 232.8 597.6 233.2C595.9 233.5 593.9 234.9 592.6 235.7C591.2 236.4 588.9 238.6 587.6 238.8C586.2 239 583.9 237.7 582.5 236.9C581.2 236.2 579 234.3 577.5 233.2C576 232 573 229.3 571.3 228.2C569.6 227 566.7 225.1 565 224.4C563.4 223.8 559.8 223.8 558.8 223.2C557.8 222.6 557.3 221.3 557.5 220Z" fill="none" stroke="#6495ED" stroke-width="6.6" stroke-linejoin="round"/>
<path d="M557.5 220C557.7 218.8 559.2 215.4 560 213.8C560.9 212.1 562.6 208.7 563.8 207.5C564.9 206.4 567.1 205.3 568.8 205C570.4 204.8 574.1 205.4 576.3 205.6C578.5 205.9 582.5 206.7 585.1 206.9C587.6 207.1 592.7 206.7 595.1 206.9C597.4 207.1 600.6 207.6 602.6 208.1C604.6 208.6 608.1 210.4 610.1 210.7C612.1 210.9 615.3 210.2 617.6 210C619.9 209.9 624.9 209.5 627.6 209.4C630.3 209.3 634.9 209.5 637.6 209.4C640.3 209.3 645 208.9 647.6 208.8C650.3 208.7 655.3 208.4 657.6 208.8C660 209.1 663.5 210.4 665.2 211.3C666.8 212.1 668.9 213.9 670.2 215C671.4 216.1 673.7 218.2 674.5 219.4C675.4 220.6 676.3 222.5 676.4 223.8C676.5 225 676 227.6 675.2 228.8C674.3 230 671.8 231.8 670.2 232.6C668.5 233.3 664.6 234 662.6 234.4C660.6 234.8 657.5 235.5 655.1 235.7C652.8 235.8 647.5 235.7 645.1 235.7C642.8 235.7 640 235.7 637.6 235.7C635.3 235.7 629.9 235.8 627.6 235.7C625.3 235.5 622.1 234.7 620.1 234.4C618.1 234.2 614.6 234 612.6 233.8C610.6 233.6 607.1 233.3 605.1 233.2C603.1 233.1 599.2 232.8 597.6 233.2C595.9 233.5 593.9 234.9 592.6 235.7C591.2 236.4 588.9 238.6 587.6 238.8C586.2 239 583.9 237.7 582.5 236.9C581.2 236.2 579 234.3 577.5 233.2C576 232 573 229.3 571.3 228.2C569.6 227 566.7 225.1 565 224.4C563.4 223.8 559.8 223.8 558.8 223.2C557.8 222.6 557.3 221.3 557.5 220Z" fill="none" stroke="#00BFFF" stroke-width="4.6" stroke-linejoin="round"/>
<path d="M557.5 220C557.7 218.8 559.2 215.4 560 213.8C560.9 212.1 562.6 208.7 563.8 207.5C564.9 206.4 567.1 205.3 568.8 205C570.4 204.8 574.1 205.4 576.3 205.6C578.5 205.9 582.5 206.7 585.1 206.9C587.6 207.1 592.7 206.7 595.1 206.9C597.4 207.1 600.6 207.6 602.6 208.1C604.6 208.6 608.1 210.4 610.1 210.7C612.1 210.9 615.3 210.2 617.6 210C619.9 209.9 624.9 209.5 627.6 209.4C630.3 209.3 634.9 209.5 637.6 209.4C640.3 209.3 645 208.9 647.6 208.8C650.3 208.7 655.3 208.4 657.6 208.8C660 209.1 663.5 210.4 665.2 211.3C666.8 212.1 668.9 213.9 670.2 215C671.4 216.1 673.7 218.2 674.5 219.4C675.4 220.6 676.3 222.5 676.4 223.8C676.5 225 676 227.6 675.2 228.8C674.3 230 671.8 231.8 670.2 232.6C668.5 233.3 664.6 234 662.6 234.4C660.6 234.8 657.5 235.5 655.1 235.7C652.8 235.8 647.5 235.7 645.1 235.7C642.8 235.7 640 235.7 637.6 235.7C635.3 235.7 629.9 235.8 627.6 235.7C625.3 235.5 622.1 234.7 620.1 234.4C618.1 234.2 614.6 234 612.6 233.8C610.6 233.6 607.1 233.3 605.1 233.2C603.1 233.1 599.2 232.8 597.6 233.2C595.9 233.5 593.9 234.9 592.6 235.7C591.2 236.4 588.9 238.6 587.6 238.8C586.2 239 583.9 237.7 582.5 236.9C581.2 236.2 579 234.3 577.5 233.2C576 232 573 229.3 571.3 228.2C569.6 227 566.7 225.1 565 224.4C563.4 223.8 559.8 223.8 558.8 223.2C557.8 222.6 557.3 221.3 557.5 220Z" fill="none" stroke="#ADD8E6" stroke-width="1.6" stroke-linejoin="round"/>
</g>
<clipPath id="c5"><path d="M652.6 246.9C652.9 246.4 653.8 244.9 655.1 244.4C656.5 243.9 660.6 243.5 662.6 243.2C664.6 242.9 668.3 242.2 670.2 241.9C672 241.7 674.9 241.4 676.4 241.6C677.9 241.7 680.4 242.5 681.4 243.2C682.4 243.9 683.8 245.9 683.9 246.9C684.1 248 683.5 250.4 682.7 251.3C681.8 252.2 679.3 253.7 677.7 253.8C676 254 672.2 252.8 670.2 252.6C668.2 252.3 664.5 252.2 662.6 252C660.8 251.7 657.6 251.1 656.4 250.7C655.1 250.3 653.8 249.3 653.3 248.8C652.8 248.3 652.4 247.5 652.6 246.9Z"/></clipPath>
<g clip-path="url(#c5)">
<path d="M652.6 246.9C652.9 246.4 653.8 244.9 655.1 244.4C656.5 243.9 660.6 243.5 662.6 243.2C664.6 242.9 668.3 242.2 670.2 241.9C672 241.7 674.9 241.4 676.4 241.6C677.9 241.7 680.4 242.5 681.4 243.2C682.4 243.9 683.8 245.9 683.9 246.9C684.1 248 683.5 250.4 682.7 251.3C681.8 252.2 679.3 253.7 677.7 253.8C676 254 672.2 252.8 670.2 252.6C668.2 252.3 664.5 252.2 662.6 252C660.8 251.7 657.6 251.1 656.4 250.7C655.1 250.3 653.8 249.3 653.3 248.8C652.8 248.3 652.4 247.5 652.6 246.9Z" fill="#6495ED"/>
<path d="M668.9 247.6C669.1 246.9 670.4 245.5 671.4 245.1C672.4 244.7 675.2 244.2 676.4 244.4C677.6 244.7 679.8 246.2 680.2 246.9C680.5 247.7 679.8 249.5 678.9 250.1C678.1 250.6 675.1 251.1 673.9 251.1C672.7 251.1 670.8 250.5 670.2 250.1C669.5 249.6 668.7 248.2 668.9 247.6Z" fill="#0000CD"/>
<path d="M671.4 247.3C671.8 247 674.2 246.3 675.2 246.3C676.1 246.4 678.2 247.2 678.3 247.6C678.4 247.9 676.6 248.9 675.8 249.1C675 249.2 672.6 249.1 672 248.8C671.4 248.6 671 247.7 671.4 247.3Z" fill="#00008B"/>
<path d="M652.6 246.9C652.9 246.4 653.8 244.9 655.1 244.4C656.5 243.9 660.6 243.5 662.6 243.2C664.6 242.9 668.3 242.2 670.2 241.9C672 241.7 674.9 241.4 676.4 241.6C677.9 241.7 680.4 242.5 681.4 243.2C682.4 243.9 683.8 245.9 683.9 246.9C684.1 248 683.5 250.4 682.7 251.3C681.8 252.2 679.3 253.7 677.7 253.8C676 254 672.2 252.8 670.2 252.6C668.2 252.3 664.5 252.2 662.6 252C660.8 251.7 657.6 251.1 656.4 250.7C655.1 250.3 653.8 249.3 653.3 248.8C652.8 248.3 652.4 247.5 652.6 246.9Z" fill="none" stroke="#00BFFF" stroke-width="3.2" stroke-linejoin="round"/>
<path d="M652.6 246.9C652.9 246.4 653.8 244.9 655.1 244.4C656.5 243.9 660.6 243.5 662.6 243.2C664.6 242.9 668.3 242.2 670.2 241.9C672 241.7 674.9 241.4 676.4 241.6C677.9 241.7 680.4 242.5 681.4 243.2C682.4 243.9 683.8 245.9 683.9 246.9C684.1 248 683.5 250.4 682.7 251.3C681.8 252.2 679.3 253.7 677.7 253.8C676 254 672.2 252.8 670.2 252.6C668.2 252.3 664.5 252.2 662.6 252C660.8 251.7 657.6 251.1 656.4 250.7C655.1 250.3 653.8 249.3 653.3 248.8C652.8 248.3 652.4 247.5 652.6 246.9Z" fill="none" stroke="#ADD8E6" stroke-width="1.2" stroke-linejoin="round"/>
</g>
<clipPath id="c6"><path d="M753.8 265C753.7 263.8 755.2 260.1 756.3 258.8C757.5 257.4 760.7 255.6 762.6 255C764.4 254.4 768.3 254.2 770.1 254.4C771.9 254.6 775.2 255.4 776.3 256.3C777.5 257.2 778.8 259.9 778.8 261.3C778.9 262.6 778 265.3 777 266.3C776 267.3 773.1 268.4 771.3 268.8C769.6 269.2 765.7 269.5 763.8 269.4C762 269.3 758.9 268.8 757.6 268.2C756.2 267.6 754 266.3 753.8 265Z"/></clipPath>
<g clip-path="url(#c6)">
<path d="M753.8 265C753.7 263.8 755.2 260.1 756.3 258.8C757.5 257.4 760.7 255.6 762.6 255C764.4 254.4 768.3 254.2 770.1 254.4C771.9 254.6 775.2 255.4 776.3 256.3C777.5 257.2 778.8 259.9 778.8 261.3C778.9 262.6 778 265.3 777 266.3C776 267.3 773.1 268.4 771.3 268.8C769.6 269.2 765.7 269.5 763.8 269.4C762 269.3 758.9 268.8 757.6 268.2C756.2 267.6 754 266.3 753.8 265Z" fill="#0000CD"/>
<path d="M762.6 261.9C762.9 261.2 766.2 259.6 767.6 259.4C768.9 259.2 772.1 260 772.6 260.7C773.1 261.3 772.3 263.8 771.3 264.4C770.3 265 766.2 265.4 765.1 265C763.9 264.7 762.2 262.7 762.6 261.9Z" fill="#00008B"/>
<path d="M753.8 265C753.7 263.8 755.2 260.1 756.3 258.8C757.5 257.4 760.7 255.6 762.6 255C764.4 254.4 768.3 254.2 770.1 254.4C771.9 254.6 775.2 255.4 776.3 256.3C777.5 257.2 778.8 259.9 778.8 261.3C778.9 262.6 778 265.3 777 266.3C776 267.3 773.1 268.4 771.3 268.8C769.6 269.2 765.7 269.5 763.8 269.4C762 269.3 758.9 268.8 757.6 268.2C756.2 267.6 754 266.3 753.8 265Z" fill="none" stroke="#4169E1" stroke-width="4.4" stroke-linejoin="round"/>
<path d="M753.8 265C753.7 263.8 755.2 260.1 756.3 258.8C757.5 257.4 760.7 255.6 762.6 255C764.4 254.4 768.3 254.2 770.1 254.4C771.9 254.6 775.2 255.4 776.3 256.3C777.5 257.2 778.8 259.9 778.8 261.3C778.9 262.6 778 265.3 777 266.3C776 267.3 773.1 268.4 771.3 268.8C769.6 269.2 765.7 269.5 763.8 269.4C762 269.3 758.9 268.8 757.6 268.2C756.2 267.6 754 266.3 753.8 265Z" fill="none" stroke="#6495ED" stroke-width="3.4" stroke-linejoin="round"/>
<path d="M753.8 265C753.7 263.8 755.2 260.1 756.3 258.8C757.5 257.4 760.7 255.6 762.6 255C764.4 254.4 768.3 254.2 770.1 254.4C771.9 254.6 775.2 255.4 776.3 256.3C777.5 257.2 778.8 259.9 778.8 261.3C778.9 262.6 778 265.3 777 266.3C776 267.3 773.1 268.4 771.3 268.8C769.6 269.2 765.7 269.5 763.8 269.4C762 269.3 758.9 268.8 757.6 268.2C756.2 267.6 754 266.3 753.8 265Z" fill="none" stroke="#00BFFF" stroke-width="2.4" stroke-linejoin="round"/>
<path d="M753.8 265C753.7 263.8 755.2 260.1 756.3 258.8C757.5 257.4 760.7 255.6 762.6 255C764.4 254.4 768.3 254.2 770.1 254.4C771.9 254.6 775.2 255.4 776.3 256.3C777.5 257.2 778.8 259.9 778.8 261.3C778.9 262.6 778 265.3 777 266.3C776 267.3 773.1 268.4 771.3 268.8C769.6 269.2 765.7 269.5 763.8 269.4C762 269.3 758.9 268.8 757.6 268.2C756.2 267.6 754 266.3 753.8 265Z" fill="none" stroke="#ADD8E6" stroke-width="0.8" stroke-linejoin="round"/>
</g>
<path d="M720.1 292.3C721.1 291.3 723.8 290.3 724.4 291C725.1 291.7 724.8 295.6 725.1 297.3C725.3 298.9 726.2 302 726.3 303.5C726.5 305 726.7 307.4 726.3 308.5C726 309.7 724.7 311.7 723.8 312.3C723 312.9 721.1 313.2 720.1 312.9C719.1 312.7 717 311.5 716.3 310.4C715.6 309.3 714.8 306.4 714.8 304.8C714.8 303.2 715.6 300.2 716.3 298.5C717 296.8 719 293.3 720.1 292.3Z" fill="#ADD8E6"/>
<path d="M716.6 299.8C717.1 298.8 719 297.7 720.1 297.5C721.1 297.3 723.7 297.7 724.4 298.5C725.2 299.3 725.5 302.2 725.7 303.5C725.8 304.8 725.9 307.2 725.6 308.3C725.3 309.3 724.3 310.9 723.6 311.4C722.9 311.9 721.2 312.1 720.3 311.9C719.4 311.7 717.7 310.7 717.1 309.8C716.4 308.8 715.7 306.1 715.7 304.8C715.6 303.4 716 300.7 716.6 299.8Z" fill="#00BFFF"/>
<path d="M717.6 301.6C718 301 719.8 300.1 720.7 300C721.6 300 723.5 300.6 724.1 301.3C724.6 301.9 724.8 303.8 724.8 304.8C724.9 305.7 724.9 307.8 724.6 308.5C724.3 309.2 723.2 310 722.6 310.2C721.9 310.4 720.4 310.3 719.8 310C719.2 309.7 718.2 308.6 717.8 307.9C717.4 307.2 717.1 305.6 717.1 304.8C717 303.9 717.1 302.3 717.6 301.6Z" fill="#6495ED"/>
<path d="M719.4 302.9C719.8 302.3 721.4 301.5 721.9 301.6C722.5 301.8 723.6 303.3 723.8 304.1C724 305 724 307.3 723.6 307.9C723.1 308.5 721.3 309 720.7 308.8C720.1 308.5 719.4 306.8 719.2 306C719 305.2 719.1 303.5 719.4 302.9Z" fill="#4169E1"/>
<path d="M786.3 312.5C786.4 311.6 788.9 310.4 790 310.6C791.2 310.9 793.5 313.2 795 314.4C796.5 315.6 799.6 318.1 801.3 319.4C803 320.7 805.9 323.2 807.5 324.4C809.2 325.7 812.5 327.8 813.8 328.8C815.1 329.8 817.1 331.1 817.6 331.9C818.1 332.7 818.2 334.5 817.6 335C816.9 335.6 814.1 335.8 812.6 336.3C811.1 336.8 808 338.2 806.3 338.8C804.6 339.4 801.9 340.6 800 340.7C798.2 340.8 794.2 340.1 792.5 339.4C790.9 338.8 788.4 336.8 787.5 335.7C786.7 334.5 786.1 331.9 786.3 330.7C786.4 329.4 788.1 327.4 788.8 326.3C789.4 325.2 791.3 323.7 791.3 322.5C791.3 321.4 789.4 318.9 788.8 317.5C788.1 316.2 786.1 313.4 786.3 312.5Z" fill="#ADD8E6"/>
<path d="M787.5 331.3C787.7 330 789 327.5 790 326.3C791 325.1 793.5 322.9 795 322.5C796.5 322.1 799.6 322.5 801.3 323.2C803 323.8 806 326.3 807.5 327.5C809 328.8 812.6 331.4 812.6 332.5C812.6 333.7 809 335.4 807.5 336.3C806 337.2 803.1 339.1 801.3 339.4C799.5 339.8 795.4 339.3 793.8 338.8C792.1 338.3 789.6 336.7 788.8 335.7C787.9 334.7 787.4 332.5 787.5 331.3Z" fill="#00BFFF"/>
<ellipse cx="797.8" cy="331.3" rx="6.3" ry="5" fill="#6495ED"/>
<ellipse cx="797.8" cy="331.3" rx="4.8" ry="3.8" fill="#4169E1"/>
<ellipse cx="893.9" cy="361.1" rx="6.3" ry="5.4" fill="#ADD8E6"/>
<ellipse cx="893.9" cy="361.1" rx="3.6" ry="3.4" fill="#00BFFF"/>
<path d="M896.4 358.8C896.3 358.2 898.2 355.4 898.9 355.1C899.6 354.7 901.3 355.7 901.4 356.3C901.5 357 900.2 359.7 899.5 360.1C898.9 360.4 896.5 359.5 896.4 358.8Z" fill="#ADD8E6"/>
<path d="M821.3 368.2C821.1 367.6 822.8 365.1 823.8 365.1C824.8 365.1 828.7 367.6 828.8 368.2C829 368.8 826.1 369.8 825.1 369.8C824.1 369.8 821.5 368.8 821.3 368.2Z" fill="#ADD8E6"/>
<path d="M725 388.8C725.3 387.7 726.5 385.1 727.5 383.8C728.5 382.5 731.4 379.9 732.6 378.8C733.7 377.7 735.1 376.1 736.3 375.7C737.5 375.2 740.1 375.2 741.3 375.7C742.5 376.2 744.7 378.2 745.1 379.4C745.4 380.7 744.7 383.7 743.8 385C743 386.4 740.1 388.4 738.8 389.4C737.5 390.4 735.1 392 733.8 392.6C732.5 393.1 729.9 393.9 728.8 393.8C727.7 393.7 726.2 392.6 725.7 391.9C725.2 391.3 724.8 389.9 725 388.8Z" fill="#ADD8E6"/>
<path d="M726 388.8C726.3 387.9 727.4 385.5 728.3 384.3C729.2 383.1 731.9 380.7 733.1 379.7C734.2 378.6 735.6 377.1 736.7 376.7C737.7 376.3 740 376.2 740.9 376.7C741.9 377.1 743.8 378.7 744.1 379.8C744.3 380.9 743.7 383.5 742.9 384.7C742.2 385.9 739.6 387.8 738.3 388.7C737 389.6 734.7 391 733.4 391.6C732.2 392.1 730 392.8 729 392.8C728.1 392.8 726.9 391.8 726.5 391.3C726.1 390.8 725.8 389.7 726 388.8Z" fill="#00BFFF"/>
<path d="M728.2 387.5C728.7 386.3 731.3 382.5 732.6 381.3C733.8 380 736.3 378.4 737.6 378.2C738.8 377.9 741.4 378.7 741.9 379.4C742.4 380.2 742.1 382.5 741.3 383.8C740.6 385 737.6 387.8 736.3 388.8C735 389.8 732.3 391.1 731.3 391.3C730.3 391.5 729 390.8 728.5 390.3C728.1 389.8 727.6 388.7 728.2 387.5Z" fill="#6495ED"/>
<path d="M729 387.5C729.6 386.5 732 383 733.2 381.9C734.3 380.8 736.8 379.3 737.8 379C738.9 378.8 740.7 379.4 741.1 380C741.4 380.6 741.1 382.5 740.4 383.5C739.7 384.6 737 387.1 735.8 388C734.6 388.9 732.2 390.1 731.3 390.3C730.4 390.5 729.6 389.9 729.3 389.5C729 389.2 728.5 388.6 729 387.5Z" fill="#4169E1"/>
<path d="M732.6 385C732.9 384.3 734.7 381.9 735.7 381.3C736.7 380.7 739.6 380.3 740.1 380.7C740.6 381 740 383 739.4 383.8C738.9 384.6 736.5 386.5 735.7 386.9C734.8 387.3 733.6 387.2 733.2 386.9C732.8 386.7 732.2 385.8 732.6 385Z" fill="#0000CD"/>
<ellipse cx="720.7" cy="372.3" rx="2.8" ry="2.3" fill="#ADD8E6"/>
<ellipse cx="777" cy="387.8" rx="5" ry="4.4" fill="#ADD8E6"/>
<ellipse cx="777" cy="387.8" rx="2.9" ry="2.7" fill="#00BFFF"/>
<path d="M783.2 404.4C783.4 403.4 785.1 400.7 786.4 399.4C787.6 398.2 791 395.9 792.6 395.1C794.2 394.2 797.2 393 798.3 393.2C799.3 393.3 800.6 395.2 800.8 396.3C800.9 397.4 800.1 400.1 799.5 401.3C798.9 402.5 797.6 404.2 796.4 405.1C795.1 405.9 791.6 407.3 790.1 407.6C788.6 407.8 786 407.4 785.1 406.9C784.2 406.5 783.1 405.4 783.2 404.4Z" fill="#ADD8E6"/>
<path d="M785.1 403.8C785.3 402.9 787.5 400.4 788.9 399.4C790.2 398.5 793.9 397.1 795.1 396.9C796.4 396.8 797.9 397.5 798.3 398.2C798.6 398.9 798.2 401 797.6 401.9C797.1 402.9 795.2 404.5 793.9 405.1C792.5 405.7 788.8 406.5 787.6 406.3C786.5 406.2 785 404.7 785.1 403.8Z" fill="#00BFFF"/>
<ellipse cx="791.4" cy="401.9" rx="3.8" ry="2.1" fill="#6495ED" transform="rotate(-20 791.4 401.9)"/>
<path d="M821.4 368.1C821.6 367.5 822.9 365.3 823.9 365.3C824.9 365.3 828.6 367.5 828.9 368.1C829.3 368.8 827.3 369.8 826.4 370C825.6 370.2 823.3 370 822.7 369.8C822 369.5 821.2 368.7 821.4 368.1Z" fill="#ADD8E6"/>
<path d="M815.8 381.9C815.9 381.2 816.9 378.9 817.7 378.2C818.4 377.4 820.4 376.2 821.4 376.3C822.4 376.4 824.8 378 825.2 378.8C825.6 379.5 825.2 381.2 824.5 381.9C823.9 382.6 821.2 383.8 820.2 384C819.1 384.3 817 383.8 816.4 383.5C815.8 383.3 815.6 382.6 815.8 381.9Z" fill="#ADD8E6"/>
<ellipse cx="820.2" cy="380" rx="1.2" ry="1" fill="#00BFFF"/>
<ellipse cx="210.4" cy="378.3" rx="8.4" ry="6.5" fill="#ADD8E6"/>
<ellipse cx="210.4" cy="378.3" rx="6.9" ry="5" fill="#00BFFF"/>
<ellipse cx="210.4" cy="378.3" rx="4.8" ry="3.2" fill="#6495ED"/>
<ellipse cx="203.8" cy="394.4" rx="9.4" ry="4.8" fill="#ADD8E6" transform="rotate(50 203.8 394.4)"/>
<ellipse cx="202.8" cy="393.2" rx="6.5" ry="3.2" fill="#00BFFF" transform="rotate(50 202.8 393.2)"/>
<ellipse cx="183.4" cy="401.3" rx="5.3" ry="5.3" fill="#ADD8E6"/>
<ellipse cx="183.4" cy="401.3" rx="4.1" ry="4.1" fill="#00BFFF"/>
<ellipse cx="183.4" cy="401.3" rx="2.1" ry="2.1" fill="#6495ED"/>
<path d="M225.1 36.3C225.3 35.5 226.6 33.5 227.6 32.5C228.6 31.5 231.2 29.7 232.6 28.8C233.9 27.9 236.2 26.2 237.6 25.7C238.9 25.1 241.2 24.2 242.6 24.4C243.9 24.6 246.7 25.9 247.6 26.9C248.5 27.9 248.6 31.2 249.5 31.9C250.3 32.6 253.3 31 253.8 31.9C254.4 32.8 254.4 38 253.8 38.8C253.3 39.5 250.5 37.3 249.5 37.5C248.5 37.8 247.6 40.1 246.3 40.7C245.1 41.3 241.7 41.8 240.1 41.9C238.4 42.1 235.3 42.1 233.8 41.9C232.3 41.8 229.9 41.1 228.8 40.7C227.7 40.3 226.2 39.4 225.7 38.8C225.2 38.2 224.8 37.1 225.1 36.3Z" fill="#ADD8E6"/>
<path d="M226.1 36.5C226.3 35.9 227.4 34.1 228.3 33.2C229.2 32.2 231.8 30.5 233.1 29.7C234.3 28.8 236.6 27.2 237.8 26.7C239.1 26.1 241.1 25.3 242.3 25.4C243.5 25.5 245.9 26.6 246.7 27.5C247.5 28.4 248.2 30.9 248.5 32.2C248.7 33.4 248.8 36 248.5 37C248.1 38.1 247 39.3 245.8 39.8C244.7 40.3 241.4 40.8 239.8 40.9C238.3 41.1 235.5 41.1 234.1 40.9C232.7 40.8 230.3 40.1 229.3 39.8C228.3 39.4 227 38.7 226.6 38.3C226.1 37.9 225.8 37.2 226.1 36.5Z" fill="#00BFFF"/>
<path d="M228.8 35.7C229.2 34.7 231.4 32.1 232.6 31.3C233.7 30.4 236.4 29.8 237.6 29.4C238.7 29 240.3 28.1 241.3 28.2C242.3 28.2 244.7 29.1 245.1 30C245.5 30.9 245 34.2 244.5 35C243.9 35.9 241.5 35.7 240.7 36.3C239.9 36.9 239.9 39 238.8 39.4C237.7 39.9 233.8 40 232.6 39.8C231.3 39.6 229.9 38.7 229.4 38.2C228.9 37.6 228.4 36.6 228.8 35.7Z" fill="#6495ED"/>
<ellipse cx="233.6" cy="34.8" rx="1.6" ry="1.6" fill="#4169E1"/>
<ellipse cx="262.2" cy="31.9" rx="9.9" ry="10.1" fill="#ADD8E6"/>
<ellipse cx="262.2" cy="31.9" rx="8.9" ry="9.1" fill="#00BFFF"/>
<ellipse cx="262.2" cy="31.9" rx="7.2" ry="7.3" fill="#6495ED"/>
<ellipse cx="262.2" cy="31.9" rx="4.8" ry="4.6" fill="#4169E1"/>
<path d="M773.2 178.8C773.6 178.2 776.3 177.7 777.6 178.2C778.8 178.7 781.3 181.3 782.6 182.6C783.9 183.8 786.1 186.2 787.6 187.6C789.1 189 792.4 191.9 793.9 193.2C795.4 194.6 798.1 196.5 798.9 197.6C799.7 198.6 800.1 200.6 799.7 201.1C799.4 201.7 797.6 202 796.6 201.7C795.7 201.4 793.8 199.7 792.6 198.8C791.4 198 789.3 196.6 787.6 195.1C785.9 193.6 781.8 189.3 780.1 187.6C778.4 185.9 776 183.7 775.1 182.6C774.2 181.4 772.9 179.4 773.2 178.8Z" fill="#ADD8E6"/>
<ellipse cx="793" cy="196.7" rx="2" ry="1.3" fill="#00BFFF"/>
<ellipse cx="1173.1" cy="278.2" rx="1.8" ry="1.5" fill="#00BFFF"/>
<ellipse cx="1424.7" cy="339.1" rx="2" ry="1.5" fill="#ADD8E6"/>
<ellipse cx="1408.9" cy="360.6" rx="1.5" ry="2.5" fill="#ADD8E6"/>
<ellipse cx="693" cy="132.5" rx="0.9" ry="0.9" fill="#ADD8E6"/>
</g>
<g clip-path="url(#ax)" fill="none" stroke="#000" stroke-width="1.7" stroke-linejoin="round" stroke-linecap="round" id="borders">
<path d="M75.5 39.6C76.6 39.6 82.9 40.3 85 40.1C87.2 39.8 92.6 38.5 93.8 37.6C95 36.6 94.3 33.3 95 32C95.8 30.8 98.6 27.9 100.1 27C101.5 26.1 106.2 24.9 107.6 24.3C108.9 23.7 111.1 21.9 111.8 22C112.5 22.2 112.8 25.6 113.3 25.8C113.8 26 115.5 24.5 116.3 23.8C117.1 23.1 118.8 20.4 120.1 19.5C121.4 18.7 125.9 16.8 127.6 16.3C129.3 15.7 133.6 15.6 134.6 15C135.6 14.4 135.8 11.9 136.4 11.3C136.9 10.6 139.2 9.7 139.6 9.5"/>
<path d="M94.3 37.6C95.1 37.1 99.9 34.1 101.3 33.8C102.7 33.5 105.6 34.3 106.3 35C107 35.8 107.9 38.7 107.6 40.1C107.3 41.4 105 45 103.8 46.3C102.6 47.6 98.6 50.2 97.6 51.3C96.5 52.5 95.3 55 95 56.3C94.8 57.6 95.9 61.3 95.8 62.6C95.7 63.9 94.1 66.4 93.8 67.6C93.5 68.8 93.8 71.6 93 72.6C92.3 73.6 87.8 75.1 87 75.9C86.2 76.6 85.5 77.8 86.3 78.9C87.1 79.9 92.5 84.7 93.8 85.1C95.1 85.5 96.1 82.6 97.6 82.1C99 81.6 104 81.5 106.3 80.6C108.6 79.7 115.2 74.7 117.1 74.4C119 74 120.8 76.6 122.6 77.6C124.4 78.6 130.6 81.9 132.6 82.6C134.6 83.3 138.5 84 140.1 83.9C141.7 83.7 145.1 81.1 146.4 81.4C147.7 81.7 150.2 85.5 151.4 86.4C152.5 87.2 155.2 88 156.4 88.9C157.6 89.7 159.8 93.2 161.4 93.9C163 94.6 168.3 94.5 170.2 94.6C172 94.8 175.3 95.7 177.7 95.1C180 94.6 187.7 91.1 190.2 90.1C192.7 89.1 197.3 87.6 198.9 86.4C200.5 85.1 203.4 80.4 203.9 79.6"/>
<path d="M158.9 9.5C159 10.2 159.1 13.5 160.1 15C161.2 16.5 166.3 21.1 167.6 22.5C169 24 170.5 26.4 171.4 27.5C172.3 28.7 175 31.7 175.2 32.5C175.3 33.4 172.2 34.2 172.7 35C173.1 35.9 177.7 38.9 178.9 40.1C180.1 41.2 182.6 44 182.7 45.1C182.8 46.1 180.6 48.2 179.7 48.8C178.7 49.4 175.2 49.6 174.7 50.1C174.1 50.5 174.5 51.8 175.2 52.6C175.8 53.3 178.7 55.5 180.2 56.3C181.6 57.2 185.9 59.4 187.7 60.1C189.4 60.8 193.7 61.9 195.2 62.1C196.6 62.2 199.6 61.4 200.2 61.3"/>
<path d="M220.3 9.5C219.8 9.9 217.2 12.3 216.3 13.1C215.4 14 213.3 16.1 212.5 16.9C211.8 17.7 210.9 19.4 210 20C209.2 20.7 206.3 22.2 205 22.5C203.7 22.9 200 23.4 198.8 23.1C197.5 22.9 195.3 20.7 194.4 20C193.4 19.3 191.7 16.8 190.6 17.3C189.6 17.7 185.7 22.5 185.6 23.8C185.6 25 188.9 27.2 190 28.2C191.1 29.1 193.9 31 195 31.9C196.1 32.8 198.6 34.6 199.4 35.7C200.2 36.8 201.6 39.8 201.9 41.3C202.2 42.8 202.2 47.1 202.3 48.8C202.3 50.6 202.5 54.9 202.3 56.3C202.1 57.8 200.8 60.2 200.7 61.3C200.5 62.5 201.5 65.2 201.3 66.3C201.1 67.4 199.3 69.8 198.8 70.7C198.3 71.7 197 73.5 196.9 74.5C196.8 75.4 197.3 78.2 198.1 78.8C199 79.4 202.8 79.7 203.9 79.6C205.1 79.5 206.7 78 207.7 78.1C208.7 78.2 211.2 80.2 212.7 80.6C214.2 81 218.6 81.1 220.2 81.4C221.8 81.6 225.3 82.7 226.5 82.6C227.6 82.5 230.2 81 230.2 80.6C230.2 80.2 227.4 78.9 226.5 78.9C225.6 78.9 222.7 80.2 222.7 80.6C222.7 81 225 82.7 226.5 82.6C227.9 82.6 233.8 80.1 235.2 80.1C236.7 80.1 238.3 81.7 239 82.6C239.7 83.5 240.8 86.7 241.5 87.6C242.2 88.6 243.9 90.6 245.3 90.6C246.6 90.6 251 88.3 252.8 87.6C254.5 87 258.7 86.1 260.3 85.1C261.9 84.1 265.5 80 266.4 79.1C267.2 78.2 267 78.3 267.6 77.6C268.2 76.9 270.4 74.1 271.4 73.2C272.3 72.3 275.2 70.4 275.7 70.1"/>
<path d="M287 9.5C287 9.9 287.4 12.3 287 13.1C286.6 14 284.7 16 283.9 16.9C283.1 17.8 280.3 19.8 280.1 20.6C280 21.4 282.3 23 282.6 23.8C283 24.6 283.5 26.7 283.3 27.5C283 28.4 281.1 30.5 280.1 31.3C279.1 32.1 275.5 33.6 274.5 34.4C273.5 35.2 271.7 37.1 271.4 38.2C271 39.3 271.1 42.4 271.4 43.8C271.6 45.2 273.1 48.5 273.2 50.1C273.4 51.7 272.5 56 272.6 57.6C272.7 59.2 273.5 62.4 273.9 63.8C274.2 65.3 275.5 69.4 275.7 70.1"/>
<path d="M275.7 70.1C276.5 70.1 280.9 69.9 282.6 69.8C284.3 69.8 288.8 69.8 290.1 69.5C291.5 69.1 293 67.5 293.9 67C294.8 66.4 296.5 64.9 297.6 64.4C298.8 64 302.7 63.3 303.9 63.2C305.1 63.1 307.4 63.3 307.7 63.8C308 64.3 306.3 66.7 306.4 67.6C306.6 68.5 308.3 70.5 308.9 71.3C309.6 72.1 311.9 73.8 312 74.5C312.2 75.1 309.9 77.1 310.2 77C310.4 76.8 313.4 73 313.9 73.2C314.4 73.4 314.5 77.5 314.5 78.8C314.6 80.2 314.3 83.2 314.1 85.1C313.9 87 312.4 93.5 312.8 95.1C313.3 96.7 317 97.4 317.9 98.9C318.7 100.3 319.8 107.2 320.4 107.6C320.9 108.1 321.8 103.5 322.9 102.6C323.9 101.8 328.1 100.6 329.1 100.1C330.1 99.7 331.2 98 331.6 98.9C332.1 99.8 332.7 105.5 332.9 107.6C333.1 109.8 333.5 115.6 333.4 117.7C333.2 119.7 331.7 123 331.6 125.2C331.5 127.4 333.1 134.2 332.4 136.4C331.6 138.6 326.6 142.8 325.4 143.9C324.1 145.1 322 146.2 321.6 146.5"/>
<path d="M346.5 9.5C346 10 343.4 12.8 342.7 13.8C342 14.7 340.4 16.5 340.2 17.5C340 18.5 340.2 21.4 340.8 22.5C341.4 23.7 344.2 26.4 345.2 27.5C346.2 28.7 348.6 31.5 349.6 32.5C350.5 33.6 353 35.6 353.3 36.3C353.7 37 353.5 38.5 352.7 38.5C351.9 38.5 347.6 36 346.5 36.3C345.3 36.6 343.9 40.1 342.7 41.3C341.5 42.5 337.9 46.1 336.4 46.9C335 47.8 331.5 48.1 330.2 48.8C328.9 49.5 326.2 51.7 325.2 52.6C324.2 53.4 321.6 55.3 321.4 56.3C321.3 57.3 323.3 60 323.9 61.3C324.6 62.6 326.3 66.1 327.1 67.6C327.8 69 329.7 72.5 330.2 73.8C330.6 75.2 330.2 76.6 330.8 78.8C331.4 81 334.3 89.3 335.4 92.6C336.5 96 339.6 105 340.4 107.6C341.2 110.3 343.2 114 342.4 115.2C341.6 116.3 334.4 117.4 333.4 117.7"/>
<path d="M388 9.5C387.7 10.4 385.6 15.7 385.4 17.5C385.3 19.3 386.1 23.4 386.7 25C387.3 26.6 389.4 30.4 390.5 31.3C391.5 32.2 394.4 32 395.5 32.5C396.5 33.1 398.9 35 399.2 36.3C399.5 37.6 398.7 41.8 398 43.8C397.2 45.9 394.4 51.5 393 53.8C391.5 56.2 387.2 61.4 385.4 63.8C383.7 66.3 379.4 72.6 377.9 75.1C376.5 77.6 373.8 82.8 372.9 85.1C372.1 87.5 370.9 93.1 370.4 95.1C370 97.2 369.8 101 369.2 102.6C368.6 104.2 366.7 108.3 365.4 108.9C364.1 109.5 360 107.5 357.9 107.6C355.9 107.8 349.7 109.3 347.9 110.2C346.1 111 343 114.6 342.4 115.2"/>
<path d="M92.5 148.2C93.1 146.2 95.9 133.7 97.6 131.4C99.2 129.2 104.4 129.9 106.3 128.9C108.2 127.9 112.5 124.3 113.8 122.7C115.1 121.1 116.3 116.6 117.6 115.2C118.9 113.7 123 111 125.1 110.2C127.1 109.3 133.6 107.9 135.1 108.1C136.6 108.4 136.1 112 137.6 112.7C139.1 113.3 145.6 113.6 147.6 113.9C149.7 114.2 153.1 115.3 155.1 115.2C157.2 115 162.5 113.4 165.1 112.7C167.8 111.9 175.6 109.6 177.7 108.9C179.7 108.2 182.2 107.1 182.7 106.4C183.1 105.7 182.4 103.1 181.4 102.6C180.4 102.1 175.2 102.6 173.9 102.1C172.6 101.7 170.4 99.7 170.2 98.9C169.9 98.1 170.5 95.6 171.4 95.1C172.3 94.7 176.9 95.1 177.7 95.1"/>
<path d="M180 41.3C180.4 41.6 183 43.1 183.1 43.8C183.3 44.5 181.6 46.5 181.3 46.9C180.9 47.4 180.1 47.5 180 47.6"/>
<path d="M562.4 9.5C563.5 10 569.3 12.9 571.2 13.8C573.1 14.6 577.8 17.5 578.7 17C579.7 16.5 579.2 10.4 579.2 9.5"/>
<path d="M578.7 17C579.3 17.4 582.3 19.8 583.7 20C585.2 20.2 589.8 19.1 591.2 18.8C592.7 18.4 595.2 17.3 596.2 17C597.3 16.7 599.4 16.1 600 16.3C600.6 16.5 601.3 17.9 601.2 18.8C601.2 19.7 599.7 22.5 599.2 23.8C598.8 25.1 597.4 28.6 597.5 30C597.6 31.5 599 35.3 600 36.3C601 37.3 604.6 38.6 606.3 38.8C607.9 39 612 38.2 613.8 38.3C615.5 38.4 619.5 39.6 621.3 40.1C623 40.6 627 42 628.8 42.6C630.5 43.1 634.8 44.5 636.3 45.1C637.8 45.6 640.6 46.8 641.3 47.6C642 48.3 642.8 50.2 642.6 51.3C642.3 52.4 640.1 56.1 638.8 57.1C637.5 58.1 633.3 59.4 631.3 60.1C629.2 60.7 623.3 61.9 621.3 62.6C619.2 63.3 615.4 65.5 613.8 66.3C612.2 67.2 609.1 69.2 607.5 70.1C605.9 71 601.6 73 600 73.9C598.4 74.7 594.9 76.4 593.7 77.6C592.6 78.8 590.1 82.3 590 83.9C589.8 85.5 591.8 89.8 592.5 91.4C593.2 93 596.2 96 596.2 97.6C596.2 99.2 592.8 103.4 592.5 105.1C592.2 106.9 593.9 111.2 593.7 112.7C593.6 114.1 590.9 116.6 591.2 117.7C591.5 118.7 595.2 120.9 596.2 121.4C597.3 121.9 600 121.5 600 121.9C600 122.4 597.8 124.2 596.2 125.2C594.6 126.1 588.3 129 586.2 130.2C584.2 131.3 580.2 133.7 578.7 135.2C577.3 136.6 574.9 141.2 573.7 142.7C572.5 144.2 569.3 147.6 568.7 148.2"/>
<path d="M641.3 47.6C642 47.4 646.4 46.3 647.6 46.3C648.7 46.3 650.1 48 651.3 47.6C652.5 47.1 655.8 43.6 657.6 42.6C659.3 41.5 664.4 39.4 666.3 38.8C668.2 38.2 672.7 36.9 673.8 37.1C675 37.2 676.9 39.1 676.4 40.1C675.8 41 670.6 44 668.8 45.1C667.1 46.1 662.6 48.1 661.3 48.8C660 49.5 657.7 50.4 657.6 51.3C657.4 52.2 660.2 55.2 660.1 56.3C659.9 57.5 656 60.5 656.3 61.3C656.6 62.2 660.8 63.1 662.6 63.8C664.3 64.6 669.7 66.7 671.3 67.6C673 68.5 675.5 70.3 676.4 71.3C677.2 72.4 678.9 75.5 678.9 76.4C678.9 77.2 676.1 77.7 676.4 78.9C676.6 80 680.2 84.5 681.4 86.4C682.5 88.3 685.3 93.2 686.4 95.1C687.4 97 689.4 101.2 690.1 102.6C690.9 104.1 691.9 106.8 692.6 107.6C693.4 108.5 695.4 110.7 696.4 110.2C697.4 109.6 700.5 103.7 701.4 102.6C702.3 101.6 703.3 101.1 703.9 101.4C704.5 101.7 705.5 104.3 706.4 105.1C707.3 106 710.2 108.3 711.4 108.9C712.6 109.5 715.5 109.6 716.4 110.2C717.3 110.7 718.7 112.9 718.9 113.9C719.1 114.9 718.2 118.3 718.2 118.9"/>
<path d="M718.8 120C718.6 120.4 717.3 122.9 717.5 123.8C717.7 124.6 719.8 126.7 720.7 127.5C721.5 128.3 724.1 130 725 130.6C726 131.3 728.1 133 728.8 133.1C729.4 133.3 730.2 131.9 730.7 131.9C731.1 131.9 731.9 132.5 732.5 133.1C733.2 133.8 735.3 136.6 736.3 137.5C737.3 138.5 740.1 140.6 741.3 141.3C742.5 141.9 745.3 142.6 746.3 143.2C747.3 143.7 749.6 144.9 750.1 145.7C750.6 146.5 750.7 149.1 750.7 150C750.7 151 749.8 152.9 750.1 153.8C750.4 154.7 752.2 156.9 753.2 157.5C754.2 158.2 757.4 159 758.8 159.4C760.2 159.9 763.8 160.9 765.1 161.3C766.4 161.7 768.9 162.3 770.1 162.6C771.3 162.8 774.5 163.7 775.1 163.8"/>
<path d="M732.5 133.1C732.2 133.4 730.2 134.4 730 135C729.9 135.6 731.3 137.6 731.3 138.1C731.3 138.7 730.8 139.8 730 140C729.3 140.2 725.8 139.8 725 140C724.2 140.2 723.2 141.5 723.2 141.9C723.2 142.3 724.1 142.9 725 143.2C726 143.4 730.1 143.7 731.3 144.4C732.5 145.1 734.5 147.7 735 148.8C735.6 149.9 736.2 152.6 736.3 153.8C736.4 155 735.7 157.6 735.7 158.8C735.7 160 736.4 163 736.3 163.8C736.1 164.6 734.9 165.8 734.4 165.7C734 165.5 733.1 163.1 732.5 162.6C732 162 730.8 161.3 730 161.3C729.2 161.3 726.2 162 725.7 162.6C725.1 163.1 726.2 165.6 725.7 166.3C725.1 167 722.4 168.2 721.3 168.8C720.2 169.4 717.1 170.8 716.3 171.3C715.4 171.8 713.8 172.8 713.8 173.2C713.7 173.6 715 174.8 715.6 175.1C716.3 175.4 719 175.3 719.4 175.7C719.8 176.1 719.8 178.2 719.4 178.8C719 179.5 717.1 180.9 716.3 181.3C715.5 181.8 713.4 182.6 712.5 182.6C711.6 182.6 709.5 181.9 708.8 181.3C708 180.7 707 177.7 706.3 177.6C705.5 177.4 703.2 179.7 702.5 180.1C701.8 180.4 700.3 180.6 700 180.7"/>
<path d="M668.8 9.5C669.3 10.3 671.7 14.9 672.6 16.3C673.5 17.6 675.9 20 676.4 21.3C676.8 22.6 676.8 26.2 676.4 27.5C675.9 28.9 672.9 31.4 672.6 32.5C672.3 33.7 673.7 36.5 673.8 37.1"/>
<path d="M671.3 10.5C672.1 10.7 676.4 12.1 677.6 12C678.8 11.9 680.9 9.8 681.4 9.5"/>
<path d="M746.4 9.5C747.3 9.9 752.1 12 754 12.5C755.9 13 760.7 13.8 762.7 13.8C764.8 13.7 769.6 12.5 771.5 12C773.4 11.5 778.1 9.8 779 9.5"/>
<path d="M789.5 9.5C790.1 10.4 793.3 15.7 794.5 17.5C795.7 19.3 798.5 23.6 799.5 25C800.5 26.5 802.1 29.9 803.3 30C804.4 30.2 807.9 27 809.5 26.3C811.1 25.6 815.6 25 817 24.3C818.5 23.6 821.1 20.8 822.1 20.5C823 20.3 824.7 21.2 825.1 22C825.4 22.8 825.6 26.4 825.1 27.5C824.6 28.7 821.4 30.9 820.8 32C820.2 33.2 819.3 36.4 819.6 37.1C819.8 37.7 822.6 37.8 823.3 37.6C824 37.3 825.5 35.3 825.8 35"/>
<path d="M825.8 35C825.9 34.8 825.4 33.3 826.6 33C827.7 32.8 833.9 32.7 835.8 32.5C837.8 32.3 842.1 31.8 843.3 31.3C844.6 30.8 846.1 28 846.6 28.3C847.1 28.6 847.1 32.4 847.6 33.8C848.1 35.2 849.6 38.7 850.8 40.1C852.1 41.5 856.7 45.3 858.4 45.8C860 46.3 863.4 44.6 864.6 44.3C865.8 44 867.8 44 868.4 43.3C869 42.7 868.7 39.7 869.6 38.8C870.5 37.9 874.6 36 875.9 35.8C877.2 35.6 879.6 37.4 880.9 37.1C882.2 36.7 885.8 33.7 887.1 32.5C888.5 31.4 891.4 28.7 892.2 27.5C892.9 26.4 893.7 24 893.4 22.5C893.1 21.1 890.7 16.5 889.6 15C888.6 13.5 885.2 10.2 884.6 9.5"/>
<path d="M825.8 35C826.2 35.9 828.6 40.7 829.1 42.6C829.6 44.5 829.4 49.7 830.1 51.3C830.7 52.9 833.3 55 834.6 56.3C835.8 57.6 839.4 61.2 840.8 62.6C842.3 64 846.6 66.6 847.1 68.1C847.6 69.6 845.5 73.6 845.1 75.1C844.6 76.6 843.2 79.3 843.3 80.6C843.4 81.9 844.9 85.2 845.8 86.4C846.8 87.5 851.7 89.5 851.6 90.6C851.4 91.8 845 95.1 844.6 96.4C844.2 97.6 848 100.1 848.3 101.4C848.6 102.7 846.8 106.7 847.1 107.6C847.4 108.6 849.7 109.5 850.8 109.7C852 109.8 856.4 109 857.1 108.9"/>
<path d="M857.1 108.9C857.4 108.6 859.1 106.5 859.6 106.4C860.1 106.3 861.2 108.1 861.6 107.6C862 107.2 862.7 102.9 863.4 102.1C864 101.4 866.1 100.6 867.1 100.9C868.1 101.2 871.1 103.6 872.1 104.6C873.1 105.7 875.1 108.9 875.9 110.2C876.6 111.4 877.7 114 878.4 115.2C879.1 116.3 881.1 119.1 882.1 120.2C883.2 121.2 886 123.7 887.1 124.4C888.3 125.2 891 125.7 892.2 126.4C893.3 127.2 895.7 130.4 897.2 130.7C898.6 131 902.9 129 904.7 128.9C906.4 128.8 910.6 129.1 912.2 129.7C913.8 130.3 916.8 132.9 918.4 133.9C920 135 924.3 138.2 925.9 138.9C927.6 139.7 930.9 139.6 932.2 140.2C933.5 140.8 936.9 143 937.2 143.9C937.5 144.9 935 147.7 934.7 148.2"/>
<path d="M857.1 108.9C857.7 109.9 862.2 116.4 862.6 117.7C863 118.9 861.8 119.4 860.9 119.7C859.9 119.9 855.8 120.2 854.6 119.7C853.4 119.1 852.5 115.8 850.8 115.2C849.2 114.5 843 114.1 840.8 113.9C838.6 113.8 833.8 114.3 832.1 113.9C830.3 113.5 827.3 110.6 825.8 110.2C824.3 109.7 821.2 109.4 819.6 109.7C817.9 109.9 813.8 111.9 812 112.7C810.3 113.4 806.3 115.8 804.5 116.4C802.8 117 798 117.2 797 117.7C796 118.2 796.3 120 795.7 120.6C795.2 121.3 793.3 122.5 792.6 123.1C792 123.7 790.6 125 790.1 125.6C789.7 126.3 789.2 128 788.9 128.8C788.6 129.5 787.5 131.3 787.6 131.9C787.7 132.5 789.5 133.3 789.5 133.8C789.5 134.3 788 135.5 787.6 136.3C787.2 137 786.6 139.2 786.4 140C786.1 140.8 785.6 142.4 785.7 143.2C785.9 143.9 787.4 145.5 787.6 146.3C787.8 147.1 787.4 149.2 787.6 150C787.8 150.8 789 152.5 789.5 153.2C789.9 153.8 791.7 155.1 791.4 155.7C791 156.3 787.7 157.6 786.4 158.2C785 158.8 781.4 160 780.1 160.7C778.8 161.3 775.7 163.4 775.1 163.8"/>
<path d="M75.5 200.6C76.2 200.4 79.9 199.7 81.3 199.3C82.7 198.9 86.2 197.9 87.5 197.3C88.9 196.7 91.5 195.1 92.5 194.3C93.6 193.5 96.7 191.6 96.3 190.6C95.9 189.5 89.7 186.4 88.8 185.6C87.9 184.7 88.2 184.5 88.8 183C89.4 181.6 93.1 175.8 93.8 173C94.5 170.3 95.3 161.5 95 159.3C94.8 157.1 92.1 155.6 91.8 154.3C91.5 152.9 92.5 148.7 92.5 148"/>
<path d="M321.6 146C321.7 146.7 322.8 150.2 322.4 151.8C321.9 153.3 318.8 157.1 317.9 159.3C316.9 161.5 314.4 168.9 314.1 170.5C313.8 172.2 314.6 173.2 315.4 173.5C316.1 173.8 319.9 172.5 320.4 173C320.8 173.6 319.7 176.9 319.1 178C318.5 179.2 316.2 181.4 315.4 183C314.5 184.7 312.5 189.9 311.6 191.8C310.7 193.7 309 197.8 307.8 199.3C306.7 200.9 303.2 204.1 301.6 205.1C300 206 295.1 206.6 294.1 207.6C293 208.5 293 211.4 292.8 213.1C292.6 214.8 291.9 220.5 292.3 221.9C292.8 223.2 295.9 223.5 296.6 224.4C297.2 225.2 297.2 228.7 297.8 229.4C298.5 230 301.8 228.9 302.1 230.1C302.4 231.3 301 237.7 300.3 239.4C299.7 241 297.6 243.2 296.6 244.4C295.6 245.6 292.6 248.4 291.6 249.4C290.5 250.4 288.2 252.1 287.8 253.1C287.5 254.2 288.9 256.7 288.6 258.2C288.3 259.6 286.1 264.1 285.3 265.7C284.5 267.2 282.5 270.3 281.6 271.2C280.6 272 277.4 272.3 277.3 273.2C277.2 274 280 278 280.3 278.7"/>
<path d="M280.3 278.7C281 278.5 285.1 277 286.6 276.9C288 276.9 291.1 277.7 292.8 278.2C294.6 278.6 300 279.7 301.6 280.7C303.2 281.7 305.7 285.1 306.6 286.9C307.5 288.8 308.8 295.1 309.1 296.2"/>
<path d="M280.3 278.7C279.1 278.8 273.2 279.3 270.3 279.4C267.4 279.6 258.5 279.8 255.3 279.9C252.1 280.1 245.4 280.7 242.8 280.7C240.1 280.6 234.8 279.4 232.7 279.4C230.7 279.5 226.7 280.3 225.2 281.2C223.8 282.1 221.7 285.8 220.2 286.9C218.8 288.1 214.5 289.6 212.7 290.7C211 291.8 206.1 295.6 205.2 296.2"/>
<path d="M568.7 148C568.1 148.3 564.6 149.5 563.7 150.5C562.8 151.5 562.1 155.4 561.2 156.8C560.3 158.1 557.4 160.7 556.2 161.8C555 162.8 551.3 164.5 551.2 165.5C551 166.5 554.2 169.2 554.9 170.5C555.7 171.8 557.1 176.1 557.4 176.8"/>
<path d="M557.4 176.8C556.9 178.1 551.7 186.7 552.4 188.1C553.2 189.5 560.6 188.7 563.7 188.8C566.8 189 575.5 189.1 578.7 189.3C581.9 189.5 588.8 190.1 591.2 190.6C593.7 191 598.2 193.2 600 193.1C601.7 192.9 604.8 189.7 606.3 189.3C607.7 188.9 611.1 188.9 612.5 189.3C614 189.7 617.5 192.3 618.8 193.1C620.1 193.8 622.8 195.6 623.8 195.6C624.7 195.5 626.3 192.3 626.8 192.6C627.3 192.9 627.6 197.3 628.3 198.1C629 198.9 631.8 198.6 632.5 199.3C633.3 200.1 634.9 203.2 635 204.3C635.2 205.5 633.6 208.2 633.8 209.3C633.9 210.4 635.6 213.4 636.3 213.8C637 214.3 639.5 213.8 640.1 213.1C640.6 212.4 640.4 209.5 641.3 208.1C642.2 206.6 645.8 201.3 647.6 200.6C649.3 199.8 654.4 201.8 656.3 201.8C658.2 201.9 662.4 201.5 663.8 201.1C665.3 200.6 667.7 198.1 668.8 198.1C670 198 672.7 200 673.8 200.6C675 201.2 677.4 203.1 678.9 203.1C680.3 203.1 684.9 201.3 686.4 200.6C687.8 199.8 690.5 197.7 691.4 196.8C692.2 195.9 693.7 194.1 693.9 193.1C694 192 692.3 189.5 692.6 188.1C692.9 186.6 695.5 181.4 696.4 180.5C697.2 179.7 699.5 180.8 699.9 180.8"/>
<path d="M557.4 176.8C556.1 177.7 548.9 183.1 546.2 184.3C543.4 185.5 536.4 185.9 533.7 186.8C530.9 187.7 524.3 189.6 522.4 191.8C520.5 194 518.7 202.2 517.4 205.6C516.1 208.9 512.7 217.4 511.1 220.6C509.5 223.8 505.5 230.1 503.6 233.1C501.7 236.2 497.8 244.4 494.9 246.9C491.9 249.4 482.4 252.6 478.6 254.4C474.8 256.1 465.1 260.2 462.3 261.9C459.5 263.7 456.1 267.2 454.8 269.4C453.5 271.6 451.9 278.5 451 280.7C450.2 282.9 448.9 286.4 447.3 288.2C445.7 290 438.4 295.3 437.3 296.2"/>
<path d="M591.2 190.6C591.4 191.3 592.8 195.8 592.5 196.8C592.1 197.8 588.7 198.6 588.2 199.3C587.8 200.1 587.9 202.7 588.7 203.1C589.5 203.5 594.1 202 595 202.6C595.9 203.2 596.2 206.3 596.2 208.1C596.2 209.9 595.4 216.5 595 218.1C594.6 219.7 592.3 220.8 592.5 221.9C592.6 222.9 594.9 226.1 596.2 226.9C597.6 227.6 602 228.4 603.8 228.1C605.5 227.8 609.8 224.6 611.3 224.4C612.7 224.1 615.2 225.4 616.3 226.1C617.3 226.8 618.9 229.7 620 230.6C621.2 231.5 624.7 233.4 626.3 233.6C627.9 233.9 632.2 232.8 633.8 232.6C635.4 232.4 638.9 231.7 640.1 231.9C641.2 232.1 643.5 233.5 643.8 234.4C644.1 235.2 642.3 238.1 642.6 239.4C642.8 240.7 645.3 244.5 646.3 245.6C647.3 246.8 650.9 248.5 651.3 249.4C651.8 250.3 649.8 251.5 650.1 253.1C650.4 254.8 652.8 261 653.8 263.2C654.8 265.3 657.2 269.7 658.8 271.9C660.4 274.1 665.8 280.5 667.6 281.9C669.3 283.4 673 284 673.8 284.4C674.7 284.9 674.4 285.4 675 286C675.6 286.6 677.9 288.8 678.8 289.8C679.6 290.7 681.6 293.1 682.5 294.1C683.4 295.2 686.1 298 686.3 298.5C686.4 299 684.4 298.4 683.8 298.5C683.1 298.7 681.4 299.4 680.6 299.8C679.9 300.1 677.7 301.2 677.5 301.6C677.3 302.1 678.2 303.3 678.8 303.5C679.3 303.7 681.8 303.2 681.9 303.5C682 303.8 679.8 305.4 679.4 306C679 306.7 679.1 308.4 678.8 309.2C678.5 309.9 676.9 311.6 676.9 312.3C676.9 312.9 678.2 314.1 678.8 314.8C679.3 315.5 680.5 318.2 681.3 318.5C682.1 318.9 684.6 317.9 685.6 317.9C686.7 317.9 689.1 318.2 690 318.5C690.9 318.8 692.6 320.5 693.2 320.4C693.7 320.3 694.5 318.6 694.4 317.9C694.3 317.2 692.9 315.1 692.5 314.2C692.2 313.2 691.4 310.8 691.3 309.8C691.1 308.8 690.8 306 691.3 305.4C691.7 304.8 694.1 304.8 695 304.8C696 304.8 698.7 305.5 699.4 305.4C700.1 305.3 701.1 304.2 701.3 303.5C701.4 302.9 700.9 300.5 700.7 299.8C700.4 299 699.1 297.4 699.4 297.3C699.7 297.1 702.2 298.4 703.2 298.5C704.1 298.7 706.7 298.2 707.5 298.5C708.4 298.8 710.1 300.6 710.1 301C710.1 301.5 707.7 301.8 707.5 302.3C707.4 302.7 708.2 304.3 708.8 304.8C709.4 305.3 711.9 306 712.6 306.7C713.2 307.3 713.8 310.1 714.4 310.4C715 310.7 716.8 309.4 717.6 309.2C718.4 308.9 721 308.4 721.3 307.9C721.6 307.4 719.9 305.4 720.1 304.8C720.2 304.1 721.8 302.9 722.6 302.3C723.3 301.6 725.4 299.9 726.3 299.1C727.2 298.3 729.3 295.9 730.1 295.4C730.8 294.8 731.8 294.4 732.6 294.5C733.3 294.7 735.7 296 736.3 296.6C737 297.3 738.1 298.7 738.2 299.8C738.4 300.9 737.6 304.4 737.6 306C737.6 307.6 738.2 311.9 738.2 313.5C738.2 315.1 737.8 318.5 737.6 319.8C737.4 321.1 736.6 323.8 736.3 324.8C736 325.8 734.8 328.1 735.1 328.6C735.4 329 738.1 328.8 738.8 328.6C739.6 328.3 740.6 326.6 741.3 326.1C742.1 325.5 744.8 324.1 745.1 323.5C745.4 323 743.6 322 743.8 321.7C744.1 321.3 746.6 320.6 747.6 320.4C748.6 320.2 751.4 319.8 752.6 319.8C753.8 319.8 757 320.3 757.6 320.4"/>
<path d="M775.1 163.8C775.4 164.2 777.5 166.1 777.6 166.9C777.7 167.7 777.1 169.8 776.3 170.7C775.6 171.6 772.5 173.5 771.3 174.4C770.2 175.4 767.5 177.8 766.3 178.8C765.2 179.8 762.4 182.3 761.3 183.2C760.2 184.2 757.7 186.1 756.9 187C756.1 187.8 754.8 189.9 754.4 190.7C754.1 191.5 754.2 192.8 753.8 193.8C753.5 194.8 752.3 197.5 751.5 199.3C750.6 201.1 747.2 207.6 746.4 209.3C745.7 211.1 744.9 213.5 745.2 214.3C745.5 215.2 748.8 216 749 216.8C749.1 217.7 746.3 220.2 746.4 221.9C746.6 223.5 749.9 228.6 750.2 230.6C750.5 232.7 749 238.4 749 239.4C748.9 240.3 749.2 238.4 749.4 238.8C749.6 239.1 750.3 241.5 750.7 242.5C751.1 243.5 752.2 246.5 752.6 247.5C752.9 248.5 753.6 250.5 753.8 251.3C754 252 754.4 253.5 754.4 253.8"/>
<path d="M754.4 253.8C754.2 254 752.9 255.4 751.9 255.7C751 255.9 747.4 255.4 746.3 255.7C745.2 255.9 743.5 257.2 742.6 257.5C741.6 257.9 738.8 258 738.2 258.8C737.6 259.5 737.6 262.7 737.5 263.8C737.5 264.9 738 267.4 737.5 268.2C737.1 269 734.5 270 733.8 270.7C733.1 271.3 731.4 273.1 731.3 273.8C731.2 274.5 732.3 276.6 733.2 276.9C734 277.2 737.7 276.5 738.8 276.3C739.9 276.1 741.7 274.8 742.6 275.1C743.4 275.3 745.6 277.4 746.3 278.2C747 278.9 747.9 280.7 748.8 281.3C749.7 281.9 752.9 283.1 753.8 283.2C754.7 283.3 756.1 282.4 756.3 281.9C756.5 281.4 755.3 279.2 755.7 278.8C756.1 278.4 759.3 278.6 760.1 278.2C760.9 277.7 762.4 276 762.6 275.1C762.8 274.1 762.2 271.1 762 270C761.7 269 760.7 266.9 760.1 266.3C759.4 265.6 757.1 265.1 756.3 264.4C755.6 263.7 754 261.3 753.8 260C753.6 258.8 754.4 254.5 754.4 253.8"/>
<path d="M762.6 275.1C763.2 275.6 766.6 278.9 767.6 280.1C768.5 281.2 770.3 284.4 770.7 285.1C771.1 285.8 770.8 285.6 770.8 286C770.7 286.4 769.9 287.8 770.1 288.5C770.3 289.2 772.4 290.9 772.6 291.6C772.8 292.4 771.9 294 772 294.8C772.1 295.5 774 297.3 773.9 297.9C773.7 298.5 770.9 299.3 770.8 299.8C770.6 300.3 772.7 301.7 772.6 302.3C772.6 302.9 770.2 304.2 770.1 304.8C770.1 305.4 771.6 306.5 772 307.3C772.4 308.1 774 310.7 773.9 311.7C773.8 312.6 772.1 314.8 771.4 315.4C770.6 316 768.6 316.3 767.6 316.7C766.6 317 763.8 318.1 762.6 318.5C761.4 319 758.2 320.2 757.6 320.4"/>
<path d="M775.1 163.8C775.8 163.8 780 163.2 781.4 163.6C782.7 163.9 785 166.2 786.4 166.9C787.7 167.7 791.1 169.3 792.6 170.1C794.1 170.9 799.1 173 799.5 173.8C799.9 174.6 797.2 176.2 796.4 176.9C795.6 177.7 793.4 179.1 792.6 180.1C791.8 181 790.1 184 789.5 185.1C788.8 186.2 787.3 188.4 787 189.5C786.6 190.5 786.2 192.5 786.4 193.8C786.5 195.1 787.6 198.9 788.3 200.6C788.9 202.2 790.7 207.5 792 208.1C793.3 208.7 797.8 205.5 799.5 205.6C801.3 205.6 805.4 208.6 807 208.6C808.6 208.6 812.5 206.7 813.3 205.6C814.1 204.5 814.2 200.8 814 199.3C813.9 197.9 811.8 194.1 812 193.1C812.2 192 814.9 190.4 815.8 190.6C816.7 190.7 818.5 193.1 819.6 194.3C820.6 195.5 823.1 199.3 824.6 200.6C826 201.9 830.5 204.1 832.1 205.6C833.7 207 836.6 211.6 838.3 213.1C840.1 214.5 844.9 217 847.1 218.1C849.3 219.2 855.9 221.5 857.1 222.4C858.3 223.2 858.3 224.3 857.1 225.1C855.9 225.9 847.5 228.4 846.6 229.4C845.7 230.3 848.4 232.2 849.6 233.1C850.8 234 856.1 235.8 857.1 236.9C858.1 237.9 857.3 241.6 858.4 241.9C859.4 242.2 864.4 239.3 865.9 239.4C867.3 239.5 869.6 241.7 870.9 242.6C872.2 243.6 875.5 246.7 877.1 247.6C878.7 248.6 883.2 249.6 884.6 250.6C886.1 251.7 888.2 256.1 889.6 256.9C891.1 257.7 895.4 257.7 897.2 257.7C898.9 257.6 902.9 256.3 904.7 256.1C906.4 256 910.9 255.8 912.2 256.1C913.5 256.5 915.1 258.8 915.9 259.4C916.8 260 918.8 260.6 919.7 261.2C920.6 261.7 922.6 264.5 923.4 264.4C924.3 264.4 926.8 261.1 927.2 260.7"/>
<path d="M934.7 148C934.8 148.6 934 152 935.2 153C936.4 154 942.2 155.9 944.7 156.8C947.3 157.6 954.6 159.1 957.2 160C959.9 160.9 965.1 163 967.3 164.3C969.4 165.5 974.1 169.5 976 170.5C977.9 171.6 982.4 172 983.5 173C984.7 174.1 985.3 177.7 986 179.3C986.8 180.9 989.3 185.9 989.8 186.8"/>
<path d="M927.2 260.7C927 260.1 924.9 257 925.2 255.6C925.5 254.3 929 250.8 929.7 249.4C930.4 247.9 929.9 244.4 931 243.1C932 241.8 937.4 239.6 938.5 238.1C939.5 236.7 940.4 232.4 940.2 230.6C940 228.9 936.5 224.9 936.7 223.1C936.9 221.4 941.1 217.2 942.2 215.6C943.3 214 945.7 210.8 946 209.3C946.3 207.9 943.7 204.7 944.7 203.1C945.7 201.5 952.7 197.2 954.7 195.6C956.8 194 960.5 190.8 962.2 189.3C964 187.8 968.3 184.5 969.8 183C971.2 181.6 973.2 177.7 974.8 176.8C976.4 175.9 982.5 176 983.5 175.5C984.5 175.1 983.5 173.3 983.5 173"/>
<path d="M989.8 186.8C990.7 186.7 996.1 186.8 997.3 186.1C998.5 185.3 998.8 182.1 999.8 180.5C1000.8 179 1005 174.8 1006.1 173C1007.1 171.3 1007.5 166.3 1008.6 165.5C1009.6 164.7 1013.5 166.3 1014.8 166C1016.1 165.7 1018.1 163.1 1019.8 163C1021.6 162.9 1027.5 164.6 1029.8 165C1032.2 165.5 1037.5 166.5 1039.9 166.8C1042.2 167.1 1048.6 166.8 1049.9 167.5C1051.2 168.3 1050.7 171.8 1051.1 173C1051.6 174.3 1053.2 176.9 1053.6 178C1054.1 179.2 1053.6 182 1054.9 183C1056.2 184.1 1062.6 185.8 1064.9 186.8C1067.2 187.8 1072.7 190.6 1074.9 191.8C1077.1 193.1 1082.6 196.9 1083.7 197.6"/>
<path d="M989.8 186.8C989.2 187.2 985.1 189.4 984.8 190.6C984.5 191.7 987.1 195.4 987.3 196.8C987.4 198.3 987.2 202.1 986 203.1C984.9 204.1 979.2 205 977.3 205.6C975.4 206.2 970.6 206.9 969.8 208.1C968.9 209.3 969 214 969.8 215.6C970.5 217.2 976.2 220.5 976 221.9C975.9 223.2 969.8 225.4 968.5 226.9C967.2 228.3 966.1 232.8 964.8 234.4C963.4 236 958.6 238.9 957.2 240.6C955.9 242.4 953.8 247.1 953.5 249.4C953.2 251.7 954.4 258.5 954.7 260.7C955 262.8 955.8 267.3 956 268.2"/>
<path d="M927.2 260.7C927.8 260.8 930.5 261.3 932.2 261.9C934 262.5 940.2 264.6 942.2 265.7C944.3 266.7 948.4 269.5 949.7 270.7C951 271.8 953.1 276 953.5 275.7C953.9 275.4 952.7 269 953 268.2C953.3 267.3 954.9 267.6 956 268.2C957.1 268.7 960.3 272 962.2 273.2C964.1 274.3 969.9 277 972.3 278.2C974.6 279.3 980.5 282.5 982.3 283.2C984 283.9 985.8 283.9 987.3 284.4C988.7 285 993.3 286.8 994.8 288.2C996.3 289.6 999.2 295.3 999.8 296.2"/>
<path d="M997.3 186.1C998.5 186.1 1005.7 186 1007.3 186.8C1008.9 187.6 1009.6 192.5 1011.1 193.1C1012.5 193.6 1017.6 191.8 1019.8 191.8C1022 191.8 1028.5 192.3 1029.8 193.1C1031.2 193.8 1031.2 196.6 1031.1 198.1C1030.9 199.5 1028.6 203.7 1028.6 205.6C1028.6 207.5 1031.1 212.7 1031.1 214.3C1031.1 215.9 1028.9 217.9 1028.6 219.3C1028.3 220.8 1029.6 225.8 1028.6 226.9C1027.6 227.9 1021.6 227.5 1019.8 228.1C1018.1 228.7 1014.3 230.7 1013.6 231.9C1012.8 233 1013.1 236.9 1013.6 238.1C1014 239.4 1016.3 241.8 1017.3 242.6C1018.3 243.5 1020.3 244.8 1022.3 245.6C1024.4 246.4 1032.2 249 1034.8 249.4C1037.5 249.8 1042.5 250 1044.9 249.4C1047.2 248.8 1052.5 245.3 1054.9 244.4C1057.2 243.5 1063.1 241.6 1064.9 241.9C1066.6 242.2 1068.3 246 1069.9 246.9C1071.5 247.8 1077.6 249.1 1078.7 249.4"/>
<path d="M1017.3 242.6C1016.6 243.1 1012.1 246.1 1011.1 246.9C1010 247.7 1008.4 248.5 1008.6 249.4C1008.7 250.3 1011.3 252.9 1012.3 254.4C1013.3 255.9 1017 260.8 1017.3 261.9C1017.6 263 1015.6 264.4 1014.8 263.7C1014.1 262.9 1012.5 256.9 1011.1 255.6C1009.6 254.4 1004.2 253.4 1002.3 253.1C1000.4 252.9 996.5 253.5 994.8 253.1C993 252.8 988.6 250.3 987.3 250.1C986 250 983.2 251.1 983.5 251.9C983.8 252.7 988.3 256.2 989.8 256.9C991.2 257.6 994.9 257.4 996 258.2C997.2 258.9 999.2 261.8 999.8 263.2C1000.4 264.5 1001.6 267.8 1001.1 269.4C1000.5 271 996.4 275.2 994.8 276.9C993.2 278.7 988.2 283.6 987.3 284.4"/>
<path d="M1078.7 249.4 L1083.4 250.6"/>
<path d="M1078.7 249.4C1077.9 250.3 1074.3 255.1 1072.4 256.9C1070.5 258.7 1064.4 262.8 1062.4 264.4C1060.3 266 1056.6 269.6 1054.9 270.7C1053.1 271.7 1048.7 272.1 1047.4 273.2C1046.1 274.2 1044.2 278.1 1043.6 279.4C1043 280.7 1042.2 283.1 1042.4 284.4C1042.6 285.8 1044.8 289.3 1045.4 290.7C1045.9 292.1 1046.9 295.6 1047.1 296.2"/>
<path d="M1083 198.1C1083.4 198.1 1085.6 197.7 1086 198.1C1086.4 198.4 1085.6 199.9 1086.8 201.1C1087.9 202.2 1093.6 207.3 1095.5 208.1C1097.4 208.9 1101.3 207.5 1103 208.1C1104.8 208.7 1109.1 212.8 1110.5 213.1C1112 213.4 1114.4 210.3 1115.5 210.6C1116.7 210.9 1119.8 214.6 1120.6 215.6C1121.3 216.6 1121.1 218.8 1121.8 219.3C1122.5 219.9 1125.6 219.4 1126.8 220.6C1128 221.8 1130.6 227.5 1131.8 229.4C1133 231.3 1135.4 235.7 1136.8 236.9C1138.3 238 1143.5 239.1 1144.3 239.4"/>
<path d="M1144.3 239.4C1144.5 238.9 1144.4 236.4 1145.6 235.6C1146.8 234.9 1152.6 233.7 1154.3 233.1C1156.1 232.5 1159 230.7 1160.6 230.6C1162.2 230.6 1166.5 232 1168.1 232.6C1169.7 233.2 1173.5 234.5 1174.4 235.6C1175.3 236.7 1175 240.4 1175.6 241.9C1176.2 243.3 1179.1 246.7 1179.4 248.1C1179.7 249.6 1178.3 253.7 1178.1 254.4"/>
<path d="M1144.3 239.4C1144.2 240.4 1143.8 245.9 1143.1 248.1C1142.4 250.3 1139.2 256.5 1138.1 258.2C1136.9 259.8 1134.8 261.9 1133.1 262.7C1131.3 263.4 1125.2 264.7 1123.1 264.9C1120.9 265.1 1116.6 264.9 1114.3 264.4C1112 263.9 1105.5 261.2 1103 260.7C1100.5 260.1 1094.8 259.8 1093 259.4C1091.3 259 1088.9 257.8 1088 256.9C1087.1 256 1086.1 252.6 1085.5 251.9C1084.9 251.2 1083.3 250.8 1083 250.6"/>
<path d="M1114.3 264.4C1113.9 265 1111.9 268.4 1110.5 269.4C1109.2 270.4 1104.4 272.1 1103 273.2C1101.6 274.2 1098.8 276.9 1098.5 278.2C1098.2 279.5 1099.6 283 1100.5 284.4C1101.5 285.9 1105.6 289.6 1106.8 290.7C1108 291.8 1109.4 293.4 1110.5 293.7C1111.7 294 1115.6 292.9 1116.8 293.2C1118 293.5 1120.1 295.9 1120.6 296.2"/>
<path d="M1178.1 254.4C1177.1 254.7 1171.1 256.3 1169.4 256.9C1167.6 257.5 1164.9 258.4 1163.1 259.4C1161.4 260.4 1155.2 264.3 1154.3 265.7C1153.5 267 1155.9 269.2 1155.6 270.7C1155.3 272.1 1152.7 276.6 1151.8 278.2C1151 279.8 1148.2 283 1148.1 284.4C1147.9 285.9 1150.1 289.3 1150.6 290.7C1151.1 292.1 1152.4 295.6 1152.6 296.2"/>
<path d="M1178.1 254.4C1179.3 254.8 1186.4 257 1188.1 258.2C1189.9 259.3 1191.1 263.2 1193.2 264.4C1195.2 265.6 1203.9 267.3 1205.7 268.2C1207.4 269 1207 271 1208.2 271.9C1209.3 272.8 1214.1 275.2 1215.7 275.7C1217.3 276.2 1220.3 276.8 1221.9 276.2C1223.5 275.6 1227.8 271 1229.5 270.7C1231.1 270.3 1235 272.3 1235.7 273.2C1236.4 274 1235.7 276.9 1235.2 278.2C1234.7 279.5 1231.7 283 1231.2 284.4C1230.7 285.8 1231.2 289.5 1231.2 290.2"/>
<path d="M1231.2 290.2C1230.7 290.5 1227.8 292.5 1226.9 293.2C1226.1 293.9 1224.1 295.9 1223.7 296.2"/>
<path d="M1231.2 290.2C1232 290.5 1236.5 292.3 1238.2 292.7C1239.9 293 1244 293.4 1245.7 293.2C1247.5 293 1251.2 291.3 1253.2 291.2C1255.3 291.1 1261.5 293 1263.2 292.7C1265 292.4 1267.4 288.3 1268.3 288.7C1269.1 289.1 1270.5 295.3 1270.8 296.2"/>
<path d="M205.2 296C204.5 296.4 200.3 298.8 198.9 299.8C197.6 300.7 194.8 303.1 193.9 304C193.1 304.9 193.3 306.2 191.4 307.3C189.5 308.3 180.4 312.1 177.7 313C174.9 314 169.5 315.1 167.6 315.5C165.7 315.9 162.4 316.2 161.4 316.5C160.4 316.9 159.5 317.6 158.9 318.5C158.3 319.5 157.3 323.3 156.4 324.8C155.5 326.2 152.4 329.6 151.4 331C150.4 332.5 148.3 335.7 147.6 337.3C146.9 338.9 146.1 343.1 145.6 344.8C145.2 346.6 143.9 350.4 143.9 352.3C143.8 354.2 145 358.3 145.1 361.1C145.3 363.9 145.1 372.6 145.1 376.1C145.2 379.6 145.4 388.6 145.6 391.1C145.9 393.6 146.3 395.6 147.1 397.4C147.9 399.1 151.3 403.8 152.6 406.2C154 408.5 157.7 415.2 158.9 417.4C160.1 419.6 162.8 423 163.1 424.9C163.5 426.8 162.2 432.1 162.1 433.7C162.1 435.3 162.8 437.5 162.6 438.7C162.5 439.9 161.1 443.6 160.9 444.2"/>
<path d="M309.1 296C309.4 296.7 310.7 300.8 311.6 302.3C312.5 303.7 315.3 307.3 316.6 308.5C317.9 309.8 321.5 312.3 322.9 313C324.2 313.8 327.7 314.6 328.4 314.8"/>
<path d="M328.4 314.8C329.2 314.2 334.1 310.6 335.4 309.8C336.6 308.9 338 307.6 339.1 307.3C340.3 306.9 343.9 306.2 345.4 306.5C346.9 306.8 350.3 308.9 351.7 309.8C353 310.6 356.1 313 356.7 314C357.2 315 356.2 317.4 356.7 318.5C357.1 319.7 359.2 323.1 360.4 324C361.6 325 365.1 326.6 366.7 326.8C368.3 327 372.3 326.1 374.2 325.5C376.1 325 380.8 322.6 382.9 321.8C385.1 321 390.3 319.1 393 318.5C395.6 318 402.3 317.8 405.5 317.3C408.7 316.8 418.7 314.4 420.5 314"/>
<path d="M328.4 314.8C327.9 315.4 325 318.3 324.1 319.8C323.2 321.2 321.1 325.5 320.4 327.3C319.6 329 318.7 333.3 317.9 334.8C317 336.3 314.2 338.3 312.8 339.8C311.5 341.3 308.3 345.9 306.6 347.3C304.8 348.8 299.6 351.2 297.8 352.3C296.1 353.5 292.7 355.9 291.6 357.3C290.4 358.8 288.4 362.9 287.8 364.8C287.2 366.7 286.9 371.7 286.6 373.6C286.3 375.5 285.2 379.8 285.3 381.1C285.5 382.4 286.5 384.1 287.8 384.9C289.1 385.7 294.7 387 296.6 388.1C298.5 389.2 302.2 393.3 304.1 394.1C306 394.9 310.7 394.9 312.8 394.9C315 394.9 321.3 394.1 322.9 394.4C324.5 394.7 326.1 396.5 326.6 397.4C327.1 398.3 327.4 400.8 327.4 402.4C327.4 404 326.9 409.3 326.6 411.2C326.4 413.1 325.9 416.9 325.4 418.7C324.8 420.4 322 424.4 321.6 426.2C321.3 427.9 321.8 432.2 322.4 433.7C322.9 435.1 325.5 437.5 326.6 438.7C327.7 439.9 331 443.1 331.6 443.7"/>
<path d="M437.3 296C436.7 296.7 432.9 300.4 432.3 302.3C431.6 304.1 432.8 310.1 431.5 311.5C430.2 313 422.2 314.4 421 314.8"/>
<path d="M757.6 320.4C757.8 320.9 759 323.8 759.5 324.8C759.9 325.7 761.2 327.6 761.4 328.6C761.5 329.5 760.5 331.9 760.7 332.9C761 334 762.6 336.2 763.2 337.3C763.9 338.4 765.7 341.3 766.4 342.3C767 343.3 768 345.4 768.9 346.1C769.7 346.7 772.7 347.5 773.9 348C775 348.4 778.2 349.2 778.9 349.8C779.6 350.5 780 353 780.1 353.6C780.3 354.2 780 354.5 780.1 355C780.3 355.5 781.8 357.4 781.4 358.1C780.9 358.9 777.5 360.7 776.4 361.3C775.3 361.8 772.3 362.6 772 363.1C771.6 363.7 772.3 365.8 773.2 366.3C774.2 366.8 778.7 367.3 780.1 367.5C781.5 367.8 784.5 368.2 785.1 368.5C785.7 368.8 786 369.5 785.1 370C784.2 370.6 779.2 372.5 777.6 373.2C776 373.8 772.7 375.1 771.4 375.7C770 376.2 767 376.7 766.3 377.5C765.7 378.4 765.3 382.7 765.7 383.2C766.2 383.6 768.7 381.9 770.1 381.3C771.5 380.7 776.1 379 777.6 378.2C779.1 377.4 781.9 374.9 783.2 374.4C784.6 373.9 787.3 373.7 788.9 373.8C790.4 373.9 794.8 374.8 796.4 375C798 375.3 801.8 375.4 802.6 375.7C803.5 375.9 803.5 377.8 803.9 377.5C804.3 377.3 805.7 374.4 806.4 373.8C807.1 373.2 809.1 372.6 810.2 372.5C811.2 372.5 814.3 372.9 815.2 373.2C816 373.4 817.7 374 817.7 374.4C817.7 374.8 815.7 376.4 815.2 376.9C814.6 377.4 813 378.4 813.3 378.8C813.6 379.2 816.7 380.1 817.7 380C818.6 380 820.5 378.2 821.4 378.2C822.3 378.1 824.1 379 825.2 379.4C826.2 379.8 828.9 381.4 830.2 381.9C831.5 382.4 834.8 383.8 836.4 383.8C838 383.8 842.3 381.9 843.9 381.9C845.5 381.9 848.7 383.2 850.2 383.8C851.7 384.4 855.3 386.4 856.5 386.9C857.6 387.4 859.7 387.4 860.2 388.2C860.7 388.9 860.4 392 860.8 393.2C861.3 394.3 863.3 396.9 864 398.2C864.6 399.4 866.3 402.4 866.5 403.8C866.6 405.2 865.7 409.1 865.2 410.1C864.8 411.1 863.4 412 862.7 412.6C862 413.2 859.3 414.2 859 415.1C858.7 416 860.4 419.1 860.2 420.1C860.1 421.1 858.1 422.8 857.7 423.8C857.3 424.8 857.6 427.2 857.1 428.7C856.6 430.1 854.5 434.4 853.3 436.2C852.2 438 847.8 443.3 847.1 444.2"/>
<path d="M813.3 378.8C812.8 379.1 809.6 380.4 808.9 381.3C808.2 382.2 808.4 385.6 807.6 386.3C806.9 387 804 387 802.6 387.5C801.3 388.1 797.7 390 796.4 390.7C795.1 391.3 792.5 392.4 791.4 393.2C790.2 393.9 787.7 396.1 786.4 396.9C785.1 397.7 781.6 399.5 780.1 400.1C778.7 400.6 775.3 401.4 773.9 401.9C772.4 402.5 769.1 404.3 767.6 405.1C766.1 405.8 762.5 407.4 761.3 408.2C760.2 409 758.8 411.1 757.6 412C756.4 412.8 752.8 414.4 751.3 415.1C749.9 415.8 746.4 417.4 745.1 418.2C743.8 419 741.1 421.3 740.1 422C739 422.6 737.9 422.5 736.3 423.8C734.7 425.2 728.7 432.1 726.4 433.7C724.1 435.3 718 436.2 716.4 437.4C714.8 438.7 713.1 443.4 712.7 444.2"/>
<path d="M999.8 296C1000.1 296.5 1001.1 299.6 1002.3 300.5C1003.5 301.4 1007.8 302.6 1009.8 303.5C1011.9 304.4 1017.5 307.3 1019.8 308.5C1022.2 309.7 1027.8 313 1029.8 314C1031.9 315 1035.7 317.3 1037.4 317.3C1039 317.3 1042 314.5 1043.6 314C1045.2 313.5 1049.8 313.7 1051.1 313C1052.4 312.4 1054.8 309.6 1054.9 308.5C1055 307.4 1052.6 304.7 1051.9 303.5C1051.1 302.3 1048.9 299.4 1048.4 298.5C1047.8 297.6 1047.3 295.8 1047.1 295.5"/>
<path d="M1051.1 313C1051.9 313.7 1055.5 317.1 1057.4 318.5C1059.3 320 1065.6 324.4 1067.4 325.5C1069.1 326.7 1070.9 328.3 1072.4 328.5C1073.9 328.8 1078.3 328.3 1079.9 328C1081.5 327.8 1085.4 326.7 1086.2 326.5"/>
<path d="M1109.5 292.5C1109.4 292.9 1108.5 294.9 1108 296C1107.6 297.1 1105.9 300.4 1105.5 302.3C1105.2 304.2 1105.9 310.7 1105 312.3C1104.2 313.8 1099.7 314.7 1098 315.5C1096.3 316.4 1090.9 319 1090.5 319.8C1090.1 320.6 1094.8 321.6 1094.3 322.3C1093.7 323 1086.4 324.9 1085.5 326C1084.6 327.2 1086.3 331 1086.8 332.3C1087.2 333.6 1087.9 336.3 1089.3 337.3C1090.6 338.3 1095.8 340.1 1098 340.6C1100.2 341 1105.7 340.6 1108 341.1C1110.4 341.6 1116.3 343.9 1118 344.8C1119.8 345.7 1121.9 348.6 1123.1 348.6C1124.2 348.6 1126.4 345.6 1127.6 344.8C1128.7 344 1131.3 341.9 1133.1 341.6C1134.9 341.3 1141 342 1143.1 342.3C1145.1 342.6 1149 343.5 1150.6 344.1C1152.2 344.7 1156.1 346.9 1156.9 347.3"/>
<path d="M1156.9 347.3C1156.7 346.9 1155 344.1 1155.6 343.6C1156.2 343 1161 343 1161.9 342.3C1162.7 341.6 1162.1 338 1163.1 337.3C1164.1 336.6 1169.7 336.2 1170.6 336.1"/>
<path d="M1156.9 347.3C1157.3 348.2 1159.6 353.1 1160.6 354.8C1161.6 356.6 1164.6 360.7 1165.6 362.3C1166.6 363.9 1168.3 367.3 1169.4 368.6C1170.4 369.9 1173.1 372.4 1174.4 373.6C1175.7 374.8 1179.3 377.6 1180.6 378.6C1181.9 379.6 1184.6 381.2 1185.6 382.4C1186.7 383.5 1189.7 387.5 1189.4 388.6C1189.1 389.8 1185 391.7 1183.1 392.4C1181.2 393.1 1175.5 394.3 1173.1 394.9C1170.8 395.5 1164.5 396.7 1163.1 397.4C1161.7 398.1 1160.9 400.1 1161.1 400.6C1161.3 401.2 1163.9 401.7 1165.1 401.9C1166.3 402.1 1170 402.1 1171.3 402.5C1172.7 402.9 1175.8 404.6 1176.3 405.6C1176.9 406.7 1177.1 410.3 1176.3 411.3C1175.6 412.2 1171.4 413.2 1170.1 413.8C1168.8 414.4 1165.4 415.4 1165.1 416.3C1164.8 417.1 1166.7 420.1 1167.6 421.3C1168.5 422.4 1171.3 425.1 1172.6 426.3C1173.9 427.5 1177.4 430.4 1178.8 431.3C1180.3 432.2 1183.5 433.1 1185.1 433.8C1186.7 434.4 1191 436.3 1192.6 436.9C1194.2 437.5 1197.7 438.1 1198.9 438.8C1200 439.5 1202.3 441.7 1202.6 442.6C1202.9 443.4 1202 445.7 1201.4 446.3C1200.8 447 1198.6 448.2 1197.6 448.2C1196.6 448.2 1193.8 446.7 1192.6 446.3C1191.4 445.9 1188.5 444.2 1187.6 444.4C1186.7 444.6 1185.8 447.4 1185.1 448.2C1184.4 449 1182.1 451.2 1181.4 451.3C1180.6 451.5 1179.2 450.1 1178.8 449.4C1178.5 448.8 1178.7 446.1 1178.2 445.7C1177.8 445.2 1176 445.3 1175.1 445.7C1174.1 446 1171.5 447.9 1170.1 448.8C1168.6 449.8 1164.3 452.6 1162.6 453.8C1160.8 455 1156.8 457.7 1155.1 458.8C1153.3 460 1149.3 462.7 1147.6 463.8C1145.8 464.9 1141.7 467.2 1140.1 468.2C1138.4 469.2 1135.2 471.4 1133.8 472.6C1132.4 473.7 1129.1 476.8 1128.1 478C1127 479.3 1125.4 481.7 1125.1 483.1C1124.7 484.4 1124.8 488.1 1125.1 489.3C1125.3 490.5 1127.4 492 1127.6 493.1C1127.8 494.1 1126.3 496.9 1126.8 498.1C1127.3 499.2 1130.6 502.1 1131.8 503.1C1133 504 1136.2 504.9 1136.8 506.1C1137.4 507.3 1136.8 511.5 1136.8 513.1C1136.8 514.6 1136.8 518.6 1136.8 519.4"/>
<path d="M1170.6 336.1C1171.2 336.8 1174.2 341.1 1175.6 342.3C1177.1 343.5 1181.1 345.3 1183.1 346.1C1185.2 346.8 1191 347.8 1193.2 348.6C1195.3 349.3 1200.5 351.2 1201.9 352.3C1203.4 353.5 1205.3 357.1 1205.7 358.6C1206 360 1204.6 363.7 1205.2 364.8C1205.8 366 1209 367.9 1210.7 368.6C1212.3 369.3 1217.7 370.4 1219.4 371.1C1221.2 371.8 1224.4 374 1225.7 374.9C1227 375.7 1229.2 377.5 1230.7 378.1C1232.2 378.7 1236.8 379.2 1238.2 379.9C1239.7 380.5 1242.1 383.2 1243.2 383.6C1244.4 384.1 1247.1 384.1 1248.2 383.6C1249.4 383.2 1251.6 380.4 1253.2 379.9C1254.8 379.3 1260.2 378.3 1262 378.6C1263.7 378.9 1267.2 381.1 1268.3 382.4C1269.3 383.7 1269.7 388.4 1270.8 389.9C1271.8 391.3 1275.6 394.6 1277 394.9C1278.5 395.2 1281.7 392.8 1283.3 392.4C1284.9 391.9 1289.2 391.1 1290.8 391.1C1292.4 391.1 1296.3 392.2 1297 392.4"/>
<path d="M1297 392.4C1298.1 392.7 1303.6 394.2 1305.8 394.9C1308 395.6 1313.8 397.9 1315.8 398.6C1317.9 399.4 1321.7 400.4 1323.3 401.1C1324.9 401.9 1328.1 404.8 1329.6 404.9C1331 405 1334.2 403.3 1335.8 402.4C1337.5 401.5 1342 398.3 1343.4 397.4C1344.7 396.5 1346.7 395.2 1347.1 394.9"/>
<path d="M1347.1 394.9C1347.7 395.6 1351.2 400 1352.1 401.1C1353 402.3 1353.6 404.3 1354.6 404.9C1355.6 405.5 1359.6 405.9 1360.9 406.2C1362.2 406.4 1364.6 407.5 1365.9 407.4C1367.2 407.3 1370.7 405 1372.1 404.9C1373.6 404.8 1376.7 406.2 1378.4 406.2C1380.2 406.2 1386.1 405 1387.2 404.9"/>
<path d="M1387.2 404.9C1388 404.6 1393.1 402.7 1394.7 402.4C1396.3 402.1 1399.5 401.8 1400.9 402.4C1402.4 403 1405.7 407.5 1407.2 407.4C1408.7 407.3 1412.6 402.3 1413.5 401.1C1414.3 400 1414 397.7 1414.7 397.4C1415.4 397.1 1418.5 397.9 1419.7 398.6C1420.9 399.4 1424 402.6 1424.7 403.6C1425.5 404.7 1426.7 405.9 1426 407.4C1425.2 408.9 1420.8 414.3 1418.5 416.2C1416.1 418.1 1408.3 422.1 1405.9 423.7C1403.6 425.3 1399.6 428.5 1398.4 429.9C1397.3 431.4 1395.8 434.9 1395.9 436.2C1396.1 437.5 1399 440.3 1399.7 441.2C1400.4 442.1 1401.9 443.9 1402.2 444.2"/>
<path d="M1426 407.4C1426.3 406.8 1427.7 403.1 1428.5 402.4C1429.2 401.7 1431.8 402.2 1432.2 401.1C1432.7 400.1 1431.9 394.4 1432.2 393.6C1432.5 392.9 1434.4 394.7 1434.7 394.9"/>
<path d="M1434.7 409.9C1434.1 410.3 1431.3 412.3 1429.7 413.7C1428.1 415 1422.6 419.4 1421 421.2C1419.4 422.9 1416.8 426.9 1416 428.7C1415.1 430.4 1413.5 434.7 1413.5 436.2C1413.5 437.7 1415.2 440.3 1416 441.2C1416.7 442.1 1419.3 443.9 1419.7 444.2"/>
<path d="M1119.3 296C1120 296.3 1123.7 297.6 1125.6 298.5C1127.5 299.4 1133.8 302.4 1135.6 303.5C1137.3 304.6 1140.9 307.1 1140.6 308C1140.3 309 1133.8 310.8 1133.1 311.5C1132.3 312.2 1133.2 313.8 1134.3 314C1135.5 314.3 1140.9 313.3 1143.1 313.5C1145.3 313.7 1150.5 315.2 1153.1 315.5C1155.7 315.8 1162.7 315.7 1165.6 316C1168.5 316.3 1175.9 317.6 1178.1 318C1180.3 318.5 1183.5 319.1 1184.4 319.8C1185.3 320.4 1184.8 323.2 1185.6 323.5C1186.5 323.8 1191.5 321.8 1191.9 322.3C1192.3 322.7 1190.4 326.6 1189.4 327.3C1188.4 328 1184.7 328 1183.1 328.5C1181.5 329.1 1177.1 331.4 1175.6 332.3C1174.2 333.2 1171.2 335.6 1170.6 336.1"/>
<path d="M1140.6 308C1141.3 307.6 1145.5 306.2 1146.8 304.8C1148.2 303.4 1151.3 297 1151.8 296"/>
<path d="M1191.9 322.3C1192.8 321.7 1197.8 318 1199.4 317.3C1201 316.5 1204.8 315.6 1205.7 316C1206.5 316.5 1206 319.9 1206.9 321C1207.8 322.2 1211.6 325.2 1213.2 326C1214.8 326.9 1218.6 328 1220.7 328C1222.7 328.1 1228.7 326.3 1230.7 326.5C1232.7 326.7 1236.9 328.5 1238.2 329.8C1239.5 331.1 1241.1 335.8 1242 337.3C1242.8 338.8 1244.4 341.4 1245.7 342.3C1247 343.2 1252.1 344.1 1253.2 344.8C1254.4 345.5 1255.4 348.1 1255.7 348.6"/>
<path d="M1206.9 321C1207.4 320.7 1210.4 319.4 1210.7 318.5C1211 317.7 1209.1 314.8 1209.4 313.5C1209.7 312.2 1212 308.6 1213.2 307.3C1214.3 306 1218.1 303.6 1219.4 302.3C1220.8 300.9 1223.9 296.7 1224.4 296"/>
<path d="M1255.7 348.6C1256.6 348.4 1261.6 347.5 1263.2 347.3C1264.9 347.2 1268 347.9 1269.5 347.3C1271 346.7 1274.9 343.5 1275.8 342.3C1276.6 341.1 1276.1 338.8 1277 337.3C1277.9 335.8 1281.8 331.5 1283.3 329.8C1284.7 328 1288.7 323.9 1289.5 322.3C1290.4 320.7 1290 316.9 1290.3 316C1290.6 315.2 1291.8 314.9 1292 314.8"/>
<path d="M1255.7 348.6C1255.9 349.4 1257.3 354.2 1257 356.1C1256.7 358 1254 362.8 1253.2 364.8C1252.5 366.9 1251.3 371.4 1250.7 373.6C1250.1 375.8 1248.5 382.5 1248.2 383.6"/>
<path d="M1270.8 296C1271.6 296.6 1276.8 299.5 1278.3 301C1279.7 302.5 1282.4 306.9 1283.3 308.5C1284.2 310.1 1284.8 314 1285.8 314.8C1286.8 315.5 1291.2 316.1 1292 314.8C1292.9 313.5 1292.2 305.2 1292.8 303.5C1293.4 301.8 1296.4 300.2 1297 300.5C1297.7 300.8 1297.4 304.9 1298.3 306C1299.2 307.1 1302.9 308.9 1304.6 309.8C1306.2 310.6 1310.5 313.2 1312.1 313.5C1313.7 313.8 1317.4 313.3 1318.3 312.3C1319.2 311.3 1318.8 305.8 1319.6 304.8C1320.3 303.7 1323.3 303 1324.6 303C1325.9 303 1330 304.3 1330.8 304.8C1331.7 305.3 1331.2 306.8 1332.1 307.3C1333 307.7 1336.6 307.9 1338.4 308.5C1340.1 309.1 1346.1 311.8 1347.1 312.3"/>
<path d="M1318.3 312.3C1318.8 313.1 1321.8 317.9 1322.1 319.8C1322.4 321.7 1321.8 326.9 1320.8 328.5C1319.8 330.2 1315.2 332.1 1313.3 333.6C1311.4 335 1306 339.5 1304.6 341.1C1303.1 342.7 1301.2 345.7 1300.8 347.3C1300.4 348.9 1299.8 353.7 1300.8 354.8C1301.8 356 1308.7 356.3 1309.6 357.3C1310.4 358.4 1308.7 362.1 1308.3 363.6C1307.9 365.1 1307.1 368.4 1305.8 369.9C1304.5 371.3 1298.1 374.5 1297 376.1C1296 377.7 1296.9 382.2 1297 383.6C1297.2 385.1 1298.3 387.6 1298.3 388.6C1298.3 389.6 1297.2 391.9 1297 392.4"/>
<path d="M1347.1 312.3C1347 313.3 1346.2 318.6 1345.9 321C1345.6 323.5 1345 330.8 1344.6 333.6C1344.2 336.3 1342.1 342.8 1342.1 344.8C1342.1 346.9 1344.5 349.2 1344.6 351.1C1344.8 353 1343.2 358.8 1343.4 361.1C1343.5 363.4 1344.7 369.5 1345.9 371.1C1347 372.7 1351.9 374.3 1353.4 374.9C1354.8 375.4 1358.2 374.7 1358.4 375.6C1358.5 376.5 1355.8 380.9 1354.6 382.4C1353.5 383.9 1349.4 387.5 1348.4 388.6C1347.3 389.8 1345.5 391.7 1345.4 392.4C1345.2 393.1 1346.9 394.6 1347.1 394.9"/>
<path d="M1347.1 312.3C1347.8 312.9 1351.8 316.4 1353.4 317.3C1355 318.2 1359.1 319.6 1360.9 319.8C1362.6 320 1367.2 318.9 1368.4 319C1369.6 319.2 1369.7 320.9 1370.9 321C1372.1 321.1 1376.7 319.8 1378.4 319.8C1380.2 319.8 1384.6 321 1385.9 321C1387.2 321 1389.2 319.9 1389.7 319.8"/>
<path d="M1389.7 319.8C1390.4 319.3 1393.7 316.4 1395.9 316C1398.1 315.6 1406 316.3 1408.4 316.5C1410.9 316.8 1416.2 317.9 1417.2 318"/>
<path d="M1389.7 319.8C1389.2 320.5 1386.9 325 1385.9 326C1384.9 327.1 1381.9 327.4 1380.9 328.5C1379.9 329.7 1377.9 334.2 1377.2 336.1C1376.4 338 1374.5 343.1 1374.7 344.8C1374.8 346.6 1376.9 349.9 1378.4 351.1C1379.9 352.2 1385.6 354.1 1387.2 354.8C1388.8 355.6 1392 356.5 1392.2 357.3C1392.3 358.2 1389.7 361.2 1388.4 362.3C1387.1 363.5 1382.2 366.3 1380.9 367.3C1379.6 368.4 1377 369.9 1377.2 371.1C1377.3 372.3 1381 375.9 1382.2 377.4C1383.3 378.8 1386.6 381.4 1387.2 383.6C1387.7 385.8 1386.7 393.7 1386.7 396.1C1386.7 398.6 1387.1 403.9 1387.2 404.9"/>
<path d="M1417.2 318C1416.9 319 1415.6 323.8 1414.7 326C1413.8 328.3 1410.4 335 1409.7 337.3C1409 339.6 1408.7 344 1408.4 346.1C1408.2 348.1 1407.5 352.8 1407.2 354.8C1406.9 356.9 1405.5 362 1405.9 363.6C1406.4 365.2 1409.8 367.1 1411 368.6C1412.1 370.1 1415.2 374.4 1416 376.1C1416.7 377.9 1417.4 381.9 1417.2 383.6C1417.1 385.4 1415.1 389.1 1414.7 391.1C1414.3 393.2 1413.6 400 1413.5 401.1"/>
<path d="M1417.2 318C1416.9 317.5 1414 314.3 1414.7 313.5C1415.4 312.7 1421.1 311.5 1423.5 311C1425.8 310.5 1433.4 309.3 1434.7 309"/>
<path d="M1407.2 354.8C1407.9 355.3 1411.8 357.9 1413.5 358.6C1415.1 359.3 1419.1 360.5 1421 361.1C1422.9 361.7 1428.1 363.4 1429.7 363.6C1431.3 363.8 1434.1 363.2 1434.7 363.1"/>
<path d="M162.6 439.2C162.5 439.6 162.1 442.4 161.8 443.4C161.5 444.4 160.5 446.8 160.1 447.6C159.7 448.5 159 449.9 158.4 450.6C157.9 451.3 156 452.9 155.4 453.5C154.9 454.2 153.8 455.5 153.3 456.1C152.9 456.7 152.1 458.1 151.6 458.6C151.1 459.1 149.6 459.8 149.1 460.3C148.6 460.8 147.8 462.2 147.4 462.8C147 463.5 145.9 465.1 145.7 465.8C145.6 466.5 146.2 468.4 146.1 469.2C146 470 145.2 471.9 144.9 472.6C144.6 473.2 144.1 474.2 143.6 474.7C143.1 475.2 141.2 476.3 140.6 476.8C140.1 477.3 138.9 478.4 138.5 478.9C138.2 479.5 137.8 480.9 137.7 481.5C137.5 482 137.6 483.4 137.3 484C137 484.6 135.7 486.4 135.1 487C134.6 487.5 133.3 488.4 132.6 488.6C131.9 488.9 129.8 489.3 129.2 489.5C128.6 489.6 128.2 489.6 127.5 489.9C126.9 490.3 125.1 491.7 123.8 492.6C122.5 493.4 117.2 496.8 116.3 497.3"/>
<path d="M75.5 464.7C76 464.6 79 463.8 80.2 463.5C81.3 463.3 84 462.8 85.2 462.7C86.4 462.5 89.2 462.2 90.3 462.2C91.4 462.1 93.6 462.1 94.5 462.2C95.4 462.3 97.1 462.7 97.9 463C98.7 463.3 100.6 464.2 101.3 464.5C102 464.9 103.3 465.6 103.8 465.8C104.3 466.1 105.2 466.7 105.5 466.6C105.8 466.6 106.6 465.7 106.5 465.4C106.4 465.1 105 464.5 104.7 464.1C104.4 463.8 103.8 462.8 103.8 462.4C103.8 462 104.7 460.9 104.7 460.7C104.6 460.6 103.8 461 103.4 461.2C103.1 461.3 102.2 461.9 101.7 461.8C101.3 461.7 100.2 460.7 99.6 460.3C99.1 459.9 97.7 458.5 97.1 458.2C96.5 457.8 95.1 457.4 94.5 457.3C93.9 457.3 92.5 457.4 92 457.5C91.5 457.7 90.7 458.3 90.3 458.6C90 458.9 89.4 460 89 460.3C88.6 460.7 87.5 461.4 86.9 461.6C86.4 461.8 85 462.1 84.4 462.2C83.8 462.3 82.1 462.4 81.8 462.4" stroke-width="1.15"/>
<path d="M81.4 462.2C81.5 462 81.6 461.1 81.8 460.7C82.1 460.4 83.2 459.5 83.5 459C83.9 458.6 84.5 457.4 84.8 456.9C85.1 456.5 85.6 455.5 86.1 455.2C86.5 454.9 88 454.4 88.6 454.2C89.2 454 90.5 453.6 91.2 453.5C91.8 453.5 93.7 454 94.5 454C95.3 453.9 97.4 453.1 97.9 453.1C98.5 453.2 98.7 454.2 99.2 454.4C99.6 454.6 101.2 454.6 101.7 454.8C102.2 455.1 103 456 103.4 456.5C103.9 457 105 458.6 105.5 459C106.1 459.4 107.7 459.5 108.1 459.9C108.5 460.2 108.7 461.5 108.9 462C109.1 462.5 109.5 463.7 109.8 464.1C110.1 464.6 111.3 465.4 111.5 465.8C111.6 466.2 111.3 467.2 111 467.5C110.7 467.7 109.2 467.7 108.9 467.9C108.7 468.1 108.6 469.1 108.7 469.4C108.9 469.8 110 470.4 110.6 470.9C111.2 471.3 113.2 472.9 114 473.4C114.8 474 116.7 475 117.4 475.5C118 476.1 119.2 477.5 119.5 478.1C119.8 478.7 120.2 479.4 120.1 480.6C119.9 481.7 118.4 486.6 118.1 488.1C117.7 489.5 117.3 492 117.1 493.1C116.9 494.1 116.6 496.4 116.3 497.3C116.1 498.2 114.3 500.3 115.1 500.6C115.8 500.9 120.8 500 122.6 500.1C124.3 500.1 128.6 500.7 130.1 501.1C131.6 501.4 133.9 502.9 135.1 503.1C136.3 503.3 138.8 502.4 140.1 502.6C141.4 502.7 145.1 504 146.4 504.3C147.7 504.7 150.9 504.9 151.4 505.6C151.8 506.3 150.7 509.1 150.1 510.1C149.5 511.1 146.2 513.6 146.4 514.3C146.5 515 151.2 515.7 151.4 516.1C151.5 516.5 147.8 516.9 147.6 517.6C147.4 518.3 149.1 520.9 149.6 521.9C150.1 522.8 151.7 524.6 152.1 525.6C152.5 526.6 152.5 529.5 153.1 530.1C153.8 530.7 157.5 530.4 157.6 530.6C157.7 530.8 154.3 531 153.9 531.9C153.4 532.7 153.7 536.8 153.9 538.1C154.1 539.4 155.2 542.1 155.6 543.1C156.1 544.2 156.2 546.4 157.6 546.9C159 547.4 166.5 547.6 167.6 547.6" stroke-width="1.3"/>
<path d="M240.2 548.1C240.2 546.4 239.8 535.1 240.2 533.1C240.7 531.1 243.3 530.7 244 531.1C244.7 531.6 245.8 536.8 246.5 536.9C247.2 537 249.4 532 250.3 531.9C251.1 531.7 252.8 535.3 254 535.6C255.2 535.9 258.7 534.3 260.3 534.4C261.9 534.4 266 536.1 267.8 536.1C269.5 536.1 273.3 534.6 275.3 534.4C277.3 534.2 283.3 534.3 285.3 534.4C287.4 534.5 291.2 534.4 292.8 535.1C294.4 535.9 297.3 539.9 299.1 540.6C300.8 541.4 305.7 541.4 307.8 541.4C310 541.4 316.2 541 317.9 540.6C319.5 540.3 321 538.9 321.6 538.1C322.2 537.3 322 534.4 322.9 533.6C323.7 532.9 327.7 532.4 329.1 531.9C330.6 531.4 333.8 530 335.4 529.4C337 528.8 341.1 527.3 342.9 526.9C344.6 526.4 349.4 525.3 350.4 525.6C351.4 525.9 351.5 528.3 351.7 529.4C351.8 530.4 351.2 533.5 351.7 534.4C352.1 535.3 354.1 536.6 355.4 536.9C356.7 537.2 361.5 537.1 362.9 536.9C364.4 536.7 367 535.7 367.9 535.1C368.8 534.5 369.6 532.5 370.4 531.9C371.3 531.2 374.1 529.9 375.4 529.4C376.7 528.9 380.8 528.2 381.7 527.6C382.6 527 383.4 524.9 382.9 524.4C382.5 523.8 378.7 523.8 377.9 523.1C377.2 522.4 376.8 519.1 376.7 518.1C376.5 517.1 376.1 515.3 376.7 514.3C377.3 513.4 381.1 510.6 381.7 510.1"/>
<path d="M381.7 510.1C382.4 510.3 386.6 511.6 388 511.8C389.3 512.1 391.5 512.7 393 512.6C394.4 512.4 398.7 511 400.5 510.6C402.2 510.2 406.2 509.4 408 509.3C409.7 509.3 414 509.9 415.5 510.1C417 510.2 420.4 510.5 421 510.6"/>
<path d="M331.6 443C331.8 443.4 332.1 446 332.9 446.8C333.6 447.5 336.4 449 337.9 449.3C339.3 449.6 343.6 449.5 345.4 449.3C347.1 449.1 351.6 447.6 352.9 447.5C354.2 447.4 356.1 447.4 356.7 448.5C357.2 449.6 357.3 454.6 357.4 456.8C357.6 458.9 357.3 464.7 357.9 466.8C358.6 468.8 361.6 472.7 362.9 474.3C364.2 475.9 368.2 478.9 369.2 480.6C370.2 482.2 370.9 486.2 371.7 488.1C372.4 490 374.6 494.9 375.4 496.8C376.3 498.7 378.5 502.8 379.2 504.3C379.9 505.9 381.4 509.4 381.7 510.1"/>
<path d="M421 510.6C421.4 510.5 423.9 509.9 424.8 510.1C425.6 510.2 427.5 511.8 428.5 511.8C429.5 511.8 432.1 510.5 433.5 510.1C435 509.7 439.6 508.4 441 508.6C442.5 508.8 444.6 511.4 446 511.8C447.5 512.3 452.1 512.5 453.5 512.6C455 512.7 458.4 512.3 458.6 512.6C458.7 512.9 454.7 514.5 454.8 515.1C454.9 515.7 458.6 517.5 459.8 518.1C461 518.7 464.1 519.9 464.8 520.6C465.5 521.3 465.3 524.4 466.1 524.4C466.8 524.3 469.6 520.3 471.1 520.1C472.5 520 477.1 522.2 478.6 523.1C480 524 482.1 527 483.6 527.6C485 528.3 489.6 528.4 491.1 528.6C492.6 528.8 495.2 530.1 496.1 529.4C497 528.7 497.6 523.6 498.6 522.6C499.6 521.6 504 520.6 504.9 521.1C505.7 521.6 505.2 526 506.1 526.9C507 527.7 511.9 528.1 512.4 528.6C512.8 529.1 510.6 530.6 509.9 531.1C509.1 531.6 506.8 532.2 506.1 533.1C505.4 534.1 503.8 538.1 504.1 539.4C504.4 540.7 507.6 543.4 508.6 544.4C509.7 545.4 512.6 547.7 513.1 548.1"/>
<path d="M517.4 548.1C517.8 547.7 520 544.4 520.6 544.4C521.3 544.4 522.8 547.7 523.1 548.1"/>
<path d="M617.5 548.1C617.1 547.4 614.6 543.2 613.8 541.9C612.9 540.6 611.1 537.7 610 536.9C608.9 536.1 604.5 536 604.3 535.1C604 534.3 606.7 530.6 607.5 529.4C608.3 528.1 611.7 525.4 611.3 524.4C610.8 523.3 604.5 521.8 603.8 520.6C603 519.4 604.5 515.5 605 514.3C605.5 513.2 608.1 511.8 608.3 510.6C608.5 509.4 606.6 505.1 606.8 504.3C607 503.6 609.5 503.8 610 504.3C610.5 504.9 610.4 508.6 611.3 509.3C612.1 510.1 616.6 511 617.5 510.6C618.5 510.2 620 506.5 619.3 505.6C618.5 504.7 612.3 503.8 611.3 502.6C610.2 501.4 609.7 496.4 610 495.6C610.3 494.7 612.7 494.7 613.8 495.1C614.8 495.4 617.5 498.4 618.8 498.6C620.1 498.8 624 497.8 625 496.8C626.1 495.9 626.8 491.5 627.5 490.6C628.3 489.6 629.8 488.9 631.3 488.6C632.7 488.2 638.9 487.2 640.1 487.6C641.2 487.9 641.2 491 640.8 491.8C640.4 492.6 637.1 493.7 636.3 494.3C635.5 494.9 633.5 496.2 633.8 496.8C634.1 497.5 637.5 500 638.8 500.1C640.1 500.2 644.8 498 645.1 497.6C645.4 497.1 642.6 496.2 641.3 496.1C640 496 635 496.2 633.8 496.8C632.6 497.5 631.4 500.7 631.3 501.8C631.1 503 631.7 506.1 632.5 506.8C633.4 507.6 637.2 507.8 638.8 508.1C640.4 508.4 644.3 509.5 646.3 509.3C648.4 509.2 654.1 507.5 656.3 506.8C658.5 506.2 663.6 504 665.1 503.8C666.5 503.7 668.1 504.8 668.8 505.6C669.6 506.4 670.8 509.3 671.3 510.6C671.9 511.9 673.7 515.5 673.8 516.9C674 518.2 673.5 521 672.6 521.9C671.7 522.7 666.9 523.2 666.3 524.4C665.8 525.5 667.2 530.4 667.6 531.9C668 533.3 670.1 535.7 670.1 536.9C670.1 538 667.7 540.9 667.6 541.9C667.5 542.9 669.3 544.9 669.3 545.6C669.3 546.4 667.8 547.9 667.6 548.1"/>
<path d="M680.1 548.1C680.8 547.7 685.4 545.4 686.4 544.4C687.3 543.4 688.1 540.8 688.4 539.4C688.7 537.9 688.5 532.9 688.9 531.9C689.3 530.8 691.3 530.4 691.9 530.6C692.5 530.8 692.5 533.1 693.9 533.6C695.3 534.2 702 534.9 703.9 535.1C705.8 535.4 709.1 535.2 710.1 535.6C711.2 536 711.9 538.8 712.7 538.6C713.4 538.5 715.5 535 716.4 534.4C717.3 533.7 719.4 532.7 720.2 533.1C720.9 533.6 721.8 537.2 722.7 538.1C723.5 539.1 726.4 540.9 727.7 541.1C728.9 541.4 732.6 540.8 733.4 540.1C734.3 539.5 735.4 536.9 735.2 535.6C734.9 534.4 731.9 531.4 731.4 529.4C730.9 527.3 730.4 519.1 730.9 518.1C731.5 517.1 734.6 521 735.9 521.1C737.3 521.3 741.5 520.1 742.7 519.4C743.9 518.6 745.9 515.6 745.9 514.3C745.9 513.1 743.8 509.6 742.7 508.6C741.6 507.6 737.9 506.4 736.4 505.6C735 504.8 730.6 503 730.2 501.8C729.7 500.7 732.2 497 732.7 495.6C733.1 494.1 732.6 490.5 733.9 489.3C735.2 488.1 741.6 486.3 743.9 485.6C746.3 484.8 751.8 483.3 754 483.1C756.1 482.8 761.3 483.5 762.7 483.1C764.1 482.6 765.8 480.5 766 479.3C766.1 478.1 764.4 474.7 764 473C763.6 471.4 763.5 466.1 762.7 465C762 464 758.7 463.8 757.7 464.3C756.7 464.8 755.6 468.6 754 469.3C752.4 470 746.1 470.2 743.9 470.5C741.8 470.8 737.4 471.9 735.2 471.8C733 471.6 727.2 470 725.2 469.3C723.1 468.6 719 466.7 717.7 465.5C716.3 464.4 714.6 461 713.9 459.3C713.2 457.5 712.3 452 711.9 450.5C711.5 449 710.1 447.6 710.1 446.8C710.2 445.9 712.4 443.4 712.7 443"/>
<path d="M847.1 443C847.2 443.7 848.1 448.1 847.8 449.3C847.5 450.4 846 452.3 844.6 453C843.2 453.7 838 454.5 835.8 455C833.6 455.5 827.4 456.7 825.8 457.5C824.2 458.3 822.8 460.7 822.1 461.8C821.3 462.9 819.2 465.5 819.1 466.8C818.9 468.1 820.2 471.6 820.8 473C821.4 474.5 823.9 477.5 824.1 479.3C824.2 481.1 822.9 486.5 822.1 488.1C821.2 489.7 818.1 491.9 817 493.1C816 494.2 813.4 496.8 813.3 498.1C813.1 499.4 815.2 502.9 815.8 504.3C816.4 505.8 818.3 509 818.3 510.6C818.3 512.2 815.8 516.6 815.8 518.1C815.8 519.6 817.4 522.1 818.3 523.1C819.2 524.1 822.9 526 823.3 526.9C823.7 527.7 821.6 529.9 822.1 530.6C822.5 531.3 826 532.9 827.1 532.6C828.1 532.3 829.8 528.6 830.8 528.1C831.8 527.6 834.4 527.5 835.8 528.1C837.3 528.7 841.9 532.1 843.3 533.1C844.8 534.1 847.3 536.4 848.3 536.9C849.4 537.4 851.1 538.2 852.1 537.6C853.1 537 855.9 533.1 856.6 531.9C857.3 530.6 857.8 527.9 858.4 526.9C858.9 525.8 861.8 524 861.6 523.1C861.5 522.2 857.9 520.5 857.1 519.4C856.3 518.2 855.5 514 854.6 513.1C853.7 512.2 850.6 512.2 849.6 511.8C848.6 511.5 846.2 511.1 845.8 510.1C845.5 509.1 847 504.8 846.6 503.1C846.2 501.4 842.8 497.5 842.1 495.6C841.3 493.7 840.5 488.4 840.1 486.8C839.6 485.2 839 483.1 838.3 481.8C837.6 480.5 834.4 477 834.1 475.5C833.8 474.1 834.9 470.4 835.8 469.3C836.8 468.2 840.9 466.3 842.1 466C843.3 465.7 845.1 467.4 845.8 466.8C846.6 466.1 847.3 461.3 848.3 460.5C849.4 459.7 853.5 460.2 854.6 460C855.7 459.9 857.4 458.8 857.6 459.3C857.8 459.8 856.3 463.4 856.6 464.3C856.9 465.2 859.9 465.8 860.1 466.8C860.3 467.8 859 472.2 858.4 473C857.7 473.9 854.9 473.6 854.6 474.3C854.3 475 855 479.3 855.9 479.3C856.7 479.3 860.6 474.6 862.1 474.3C863.6 474 867.3 476 868.4 476.8C869.4 477.6 869.7 480.6 870.9 481.1C872 481.5 877.2 481.2 878.4 480.6C879.6 479.9 880.7 476.7 880.9 475.5C881 474.4 879.5 471.3 879.6 470.5C879.8 469.8 881.7 468.7 882.1 469.3C882.6 469.9 882.6 475.1 883.4 475.5C884.2 476 888.7 472.7 889.1 473C889.6 473.3 887.8 477 887.1 478C886.5 479.1 883.6 480.9 883.4 481.8C883.2 482.7 884.3 485.8 885.1 486.1C886 486.4 889.8 484.9 890.9 484.3C892 483.7 893.3 480.8 894.7 480.6C896 480.3 900.3 481.6 902.2 481.8C904.1 482 909.5 482.7 910.9 482.6C912.4 482.4 914.3 481.2 914.7 480.6C915.1 479.9 913.3 477.7 914.2 476.8C915.1 475.9 920.4 473.9 922.2 473C924 472.2 928.2 470 929.7 469.3C931.2 468.6 933.4 467.2 934.7 466.8C936 466.4 939.9 465.4 941 466C942 466.6 942.6 470.5 943.5 471.8C944.3 473 948.2 475.7 948.5 476.8C948.8 477.9 946.9 480.2 946 481.1C945.1 481.9 941.7 483.5 941 484.3C940.2 485.1 939.3 487.4 939.7 488.1C940.2 488.7 943.3 489.9 944.7 490.1C946.2 490.2 951.5 489.8 952.2 489.3C953 488.8 951.4 486.3 951 485.6C950.5 484.8 947.7 483.2 948.5 483.1C949.2 482.9 955.8 484.5 957.2 484.3C958.7 484.2 959.8 482 961 481.8C962.2 481.6 966.2 482.8 967.3 482.6C968.3 482.3 968.9 479.8 969.8 479.3C970.6 478.8 974.2 477.6 974.8 478C975.3 478.5 975.2 481.9 974.8 483.1C974.3 484.2 971.5 487 971 488.1C970.5 489.1 969.2 491.3 970.3 491.8C971.3 492.3 977.8 492.2 979.8 492.6C981.8 492.9 986 494.7 987.3 495.1C988.6 495.4 990.2 496 991 495.6C991.9 495.2 994 493.3 994.8 491.8C995.6 490.4 997.1 484.3 997.8 483.1C998.5 481.8 999.8 481.1 1001.1 481.1C1002.3 481.1 1007.4 483.2 1008.6 483.1C1009.7 482.9 1010.2 480.5 1011.1 480.1C1011.9 479.6 1015 478.8 1016.1 479.3C1017.1 479.8 1018.4 483.3 1019.8 484.3C1021.3 485.3 1026.8 487 1028.6 487.6C1030.3 488.1 1033.7 488.4 1034.8 489.3C1036 490.2 1037.1 494.4 1038.6 495.6C1040.1 496.7 1045.6 498.6 1047.4 499.3C1049.1 500.1 1052.5 501.7 1053.6 501.8C1054.8 502 1056.6 500.1 1057.4 500.6C1058.1 501 1059.3 504.4 1059.9 505.6C1060.5 506.8 1061.9 509.8 1062.4 510.6C1062.8 511.4 1062.9 512.4 1063.6 512.6C1064.4 512.8 1067.9 513.1 1068.6 512.6C1069.4 512.1 1068.9 509 1069.9 508.6C1070.9 508.2 1075.5 509.4 1077.4 509.3C1079.3 509.3 1084.4 507.7 1086.2 508.1C1087.9 508.5 1091.6 512.1 1092.4 513.1C1093.3 514.1 1094 516.3 1093.7 516.9C1093.3 517.4 1089.8 516.8 1089.4 518.1C1089 519.4 1090.5 525.6 1090.4 528.1C1090.3 530.6 1089.2 537.9 1088.7 539.4C1088.2 540.8 1086.1 539.9 1086.2 540.6C1086.3 541.4 1089 544.8 1089.4 545.6C1089.8 546.5 1089.4 547.9 1089.4 548.1"/>
<path d="M1136.8 519.4C1136.1 519.5 1131.4 519.7 1130.6 520.6C1129.7 521.5 1129.2 525.3 1129.3 526.9C1129.5 528.5 1132.1 532.6 1131.8 534.4C1131.5 536.1 1127.9 540.3 1126.8 541.9C1125.7 543.5 1123.1 547.4 1122.6 548.1"/>
<path d="M1124.3 545.1C1125.2 545 1130.4 543.3 1131.8 543.6C1133.3 543.9 1136.2 547.2 1136.8 547.6"/>
<path d="M1136.8 519.4C1137.7 519.4 1142.4 519.6 1144.3 519.4C1146.2 519.2 1150.9 517.9 1153.1 517.6C1155.3 517.3 1161.5 517.4 1163.1 516.9C1164.7 516.3 1166.1 513.1 1166.9 513.1C1167.6 513.1 1168.8 515.8 1169.4 516.9C1170 517.9 1171.1 521.2 1171.9 521.9C1172.6 522.5 1174.8 522.9 1175.6 522.6C1176.5 522.3 1178.4 519.7 1179.4 519.4C1180.4 519 1183.7 518.8 1184.4 519.4C1185.1 519.9 1184.9 523.2 1185.6 524.4C1186.4 525.5 1189.5 528.4 1190.6 529.4C1191.8 530.3 1194.6 532.6 1195.7 532.6C1196.7 532.6 1198.2 530 1199.4 529.4C1200.6 528.8 1204.4 528.3 1205.7 527.6C1207 526.9 1209.7 524.4 1210.7 523.6C1211.7 522.9 1213.4 520.6 1214.4 521.1C1215.5 521.6 1218.1 527.1 1219.4 528.1C1220.8 529.2 1224.2 530.1 1225.7 530.1C1227.2 530.1 1231.1 528.1 1232 528.1C1232.8 528.2 1232.5 531.1 1233.2 530.6C1233.9 530.2 1236.8 525.4 1238.2 524.4C1239.7 523.3 1243.7 522.3 1245.7 521.9C1247.8 521.4 1253.8 521 1255.7 520.6C1257.6 520.2 1260.7 518.7 1262 518.1C1263.3 517.5 1266.4 516.5 1267 515.6C1267.6 514.7 1266.7 511.8 1267 510.6C1267.3 509.4 1268.6 506.3 1269.5 505.6C1270.4 504.9 1273.3 504.3 1274.5 504.3C1275.7 504.3 1278.5 505.1 1279.5 505.6C1280.5 506.1 1282.2 508.4 1283.3 508.6C1284.4 508.7 1287.6 506.6 1288.8 506.8C1290 507.1 1292.6 509.6 1293.3 510.6C1294 511.6 1293.8 514.7 1294.5 515.6C1295.3 516.5 1298.4 517.9 1299.5 518.1C1300.7 518.3 1303.9 517 1304.6 517.6C1305.2 518.2 1304.7 521.9 1305.3 523.1C1305.9 524.3 1308.6 527.2 1309.6 528.1C1310.6 529 1313.1 531.1 1313.8 530.6C1314.5 530.2 1315 525.8 1315.8 524.4C1316.6 522.9 1319.5 519 1320.8 518.1C1322.1 517.2 1325.8 517.1 1327.1 516.9C1328.4 516.6 1331.1 515.5 1332.1 515.6C1333.1 515.7 1334.8 517.7 1335.8 517.6C1336.9 517.5 1339.2 514.6 1340.9 514.3C1342.5 514.1 1348.3 516.2 1349.6 515.6C1350.9 515 1351.7 510.8 1352.1 509.3C1352.6 507.9 1353.1 505 1353.4 503.1C1353.7 501.2 1354 494.8 1354.6 493.1C1355.2 491.3 1357.2 488.8 1358.4 488.1C1359.5 487.3 1363.8 487.7 1364.6 486.8C1365.5 485.9 1365.2 481.4 1365.9 480.6C1366.6 479.7 1369.7 480 1370.9 479.3C1372.1 478.6 1374.9 475.2 1375.9 474.3C1376.9 473.4 1378.5 471.8 1379.7 471.8C1380.8 471.8 1384.3 474.1 1385.9 474.3C1387.5 474.4 1392.3 472.3 1393.4 473C1394.6 473.8 1395.2 478.8 1395.9 480.6C1396.7 482.3 1399 486.3 1399.7 488.1C1400.3 489.8 1401.4 493.8 1401.4 495.6C1401.4 497.3 1399.6 501.3 1399.7 503.1C1399.8 504.8 1402.6 509.1 1402.2 510.6C1401.8 512.1 1396.8 514.1 1395.9 515.6C1395.1 517.1 1395.1 521.4 1394.7 523.1C1394.2 524.9 1393.2 528.9 1392.2 530.6C1391.2 532.4 1387.1 536.8 1385.9 538.1C1384.7 539.4 1383.2 541.2 1382.2 541.9C1381.1 542.6 1377.7 543.7 1377.2 544.4C1376.6 545.1 1377.2 547.7 1377.2 548.1"/>
<path d="M1393.4 473C1393.9 472.3 1397.2 467.7 1397.2 466.8C1397.2 465.9 1393.4 466.1 1393.4 465.5C1393.4 464.9 1395.9 462.5 1397.2 461.8C1398.5 461 1403.1 460 1404.7 459.3C1406.3 458.5 1410.4 456.7 1411 455.5C1411.5 454.3 1410.3 450.3 1409.7 449.3C1409.1 448.2 1406.8 447.5 1405.9 446.8C1405.1 446 1402.6 443.4 1402.2 443"/>
<path d="M1416 443C1416.8 443.3 1421.7 444.8 1423.5 445.5C1425.2 446.2 1429.7 448.4 1431 449.3C1432.3 450.1 1434.3 452.6 1434.7 453"/>
<path d="M1434.7 486.8C1434.3 487.5 1432 491.9 1431 493.1C1430 494.2 1427.3 496.7 1426 496.8C1424.7 497 1421 494 1419.7 494.3C1418.4 494.6 1415.4 498 1414.7 499.3C1414 500.6 1414 504.3 1413.5 505.6C1412.9 506.9 1409.8 509.4 1409.7 510.6C1409.6 511.8 1411.6 514.4 1412.2 515.6C1412.8 516.8 1413.4 519.6 1414.7 520.6C1416 521.6 1421.1 523.3 1423.5 524.4C1425.8 525.5 1433.4 529.4 1434.7 530.1"/>
</g>
<g id="cities" font-size="16.67">
<polygon points="641.5,113.8 642.8,117.7 647,117.7 643.6,120.2 644.9,124.2 641.5,121.7 638.1,124.2 639.4,120.2 636,117.7 640.2,117.7" fill="#000" stroke="#000" stroke-width="1.39" stroke-linejoin="bevel"/>
<text x="644" y="116.8" textLength="57.3" lengthAdjust="spacingAndGlyphs">Punjab</text>
<polygon points="728.5,138.8 729.8,142.7 734,142.7 730.6,145.2 731.9,149.2 728.5,146.7 725.1,149.2 726.4,145.2 723,142.7 727.2,142.7" fill="#000" stroke="#000" stroke-width="1.39" stroke-linejoin="bevel"/>
<text x="731" y="141.8" textLength="97.5" lengthAdjust="spacingAndGlyphs">Chandigarh</text>
<polygon points="686.5,239.8 687.8,243.7 692,243.7 688.6,246.2 689.9,250.2 686.5,247.7 683.1,250.2 684.4,246.2 681,243.7 685.2,243.7" fill="#000" stroke="#000" stroke-width="1.39" stroke-linejoin="bevel"/>
<text x="689" y="243.8" textLength="71" lengthAdjust="spacingAndGlyphs">Haryana</text>
<polygon points="748.5,260.8 749.8,264.7 754,264.7 750.6,267.2 751.9,271.2 748.5,268.7 745.1,271.2 746.4,267.2 743,264.7 747.2,264.7" fill="#000" stroke="#000" stroke-width="1.39" stroke-linejoin="bevel"/>
<text x="751" y="264.8" textLength="43.7" lengthAdjust="spacingAndGlyphs">Delhi</text>
<polygon points="765.5,271.8 766.8,275.7 771,275.7 767.6,278.2 768.9,282.2 765.5,279.7 762.1,282.2 763.4,278.2 760,275.7 764.2,275.7" fill="#000" stroke="#000" stroke-width="1.39" stroke-linejoin="bevel"/>
<text x="768" y="274.8" textLength="49.6" lengthAdjust="spacingAndGlyphs">Noida</text>
<polygon points="889.5,281.8 890.8,285.7 895,285.7 891.6,288.2 892.9,292.2 889.5,289.7 886.1,292.2 887.4,288.2 884,285.7 888.2,285.7" fill="#000" stroke="#000" stroke-width="1.39" stroke-linejoin="bevel"/>
<text x="892" y="285.8" textLength="64.1" lengthAdjust="spacingAndGlyphs">Bareilly</text>
<polygon points="668.5,369.8 669.8,373.7 674,373.7 670.6,376.2 671.9,380.2 668.5,377.7 665.1,380.2 666.4,376.2 663,373.7 667.2,373.7" fill="#000" stroke="#000" stroke-width="1.39" stroke-linejoin="bevel"/>
<text x="671" y="373.8" textLength="50.3" lengthAdjust="spacingAndGlyphs">Jaipur</text>
<polygon points="803.5,353.8 804.8,357.7 809,357.7 805.6,360.2 806.9,364.2 803.5,361.7 800.1,364.2 801.4,360.2 798,357.7 802.2,357.7" fill="#000" stroke="#000" stroke-width="1.39" stroke-linejoin="bevel"/>
<text x="806" y="357.8" textLength="39.8" lengthAdjust="spacingAndGlyphs">Agra</text>
<polygon points="813.5,411.8 814.8,415.7 819,415.7 815.6,418.2 816.9,422.2 813.5,419.7 810.1,422.2 811.4,418.2 808,415.7 812.2,415.7" fill="#000" stroke="#000" stroke-width="1.39" stroke-linejoin="bevel"/>
<text x="816" y="415.8" textLength="64.9" lengthAdjust="spacingAndGlyphs">Gwalior</text>
<polygon points="944.5,397.8 945.8,401.7 950,401.7 946.6,404.2 947.9,408.2 944.5,405.7 941.1,408.2 942.4,404.2 939,401.7 943.2,401.7" fill="#000" stroke="#000" stroke-width="1.39" stroke-linejoin="bevel"/>
<text x="946" y="401.8" textLength="61.3" lengthAdjust="spacingAndGlyphs">Kanpur</text>
<polygon points="981.5,373.8 982.8,377.7 987,377.7 983.6,380.2 984.9,384.2 981.5,381.7 978.1,384.2 979.4,380.2 976,377.7 980.2,377.7" fill="#000" stroke="#000" stroke-width="1.39" stroke-linejoin="bevel"/>
<text x="984" y="377.8" textLength="74.8" lengthAdjust="spacingAndGlyphs">Lucknow</text>
<polygon points="1128.5,378.8 1129.8,382.7 1134,382.7 1130.6,385.2 1131.9,389.2 1128.5,386.7 1125.1,389.2 1126.4,385.2 1123,382.7 1127.2,382.7" fill="#000" stroke="#000" stroke-width="1.39" stroke-linejoin="bevel"/>
<text x="1131" y="382.8" textLength="89.7" lengthAdjust="spacingAndGlyphs">Gorakhpur</text>
<polygon points="1104.5,466.8 1105.8,470.7 1110,470.7 1106.6,473.2 1107.9,477.2 1104.5,474.7 1101.1,477.2 1102.4,473.2 1099,470.7 1103.2,470.7" fill="#000" stroke="#000" stroke-width="1.39" stroke-linejoin="bevel"/>
<text x="1106" y="469.8" textLength="71.5" lengthAdjust="spacingAndGlyphs">Varanasi</text>
<polygon points="1235.5,449.8 1236.8,453.7 1241,453.7 1237.6,456.2 1238.9,460.2 1235.5,457.7 1232.1,460.2 1233.4,456.2 1230,453.7 1234.2,453.7" fill="#000" stroke="#000" stroke-width="1.39" stroke-linejoin="bevel"/>
<text x="1238" y="452.8" textLength="46.8" lengthAdjust="spacingAndGlyphs">Patna</text>
</g>
<g id="axes" stroke="#000" fill="none">
<rect x="75.5" y="9.5" width="1359.0" height="539.0" stroke-width="1.1"/>
<path d="M197.5 548.5v11.4M318.5 548.5v11.4M439.5 548.5v11.4M560.5 548.5v11.4M681.5 548.5v11.4M802.5 548.5v11.4M923.5 548.5v11.4M1045.5 548.5v11.4M1166.5 548.5v11.4M1287.5 548.5v11.4" stroke-width="3"/>
<path d="M106.5 548.5v3.6M136.5 548.5v3.6M166.5 548.5v3.6M227.5 548.5v3.6M257.5 548.5v3.6M288.5 548.5v3.6M348.5 548.5v3.6M378.5 548.5v3.6M409.5 548.5v3.6M469.5 548.5v3.6M500.5 548.5v3.6M530.5 548.5v3.6M590.5 548.5v3.6M621.5 548.5v3.6M651.5 548.5v3.6M711.5 548.5v3.6M742.5 548.5v3.6M772.5 548.5v3.6M833.5 548.5v3.6M863.5 548.5v3.6M893.5 548.5v3.6M954.5 548.5v3.6M984.5 548.5v3.6M1014.5 548.5v3.6M1075.5 548.5v3.6M1105.5 548.5v3.6M1135.5 548.5v3.6M1196.5 548.5v3.6M1226.5 548.5v3.6M1257.5 548.5v3.6M1317.5 548.5v3.6M1347.5 548.5v3.6M1378.5 548.5v3.6" stroke-width="1"/>
<path d="M75.5 491.5h-11.4M75.5 430.5h-11.4M75.5 370.5h-11.4M75.5 309.5h-11.4M75.5 249.5h-11.4M75.5 188.5h-11.4M75.5 127.5h-11.4M75.5 67.5h-11.4" stroke-width="3"/>
<path d="M75.5 539.5h-3.6M75.5 527.5h-3.6M75.5 515.5h-3.6M75.5 503.5h-3.6M75.5 479.5h-3.6M75.5 467.5h-3.6M75.5 454.5h-3.6M75.5 442.5h-3.6M75.5 418.5h-3.6M75.5 406.5h-3.6M75.5 394.5h-3.6M75.5 382.5h-3.6M75.5 358.5h-3.6M75.5 345.5h-3.6M75.5 333.5h-3.6M75.5 321.5h-3.6M75.5 297.5h-3.6M75.5 285.5h-3.6M75.5 273.5h-3.6M75.5 261.5h-3.6M75.5 236.5h-3.6M75.5 224.5h-3.6M75.5 212.5h-3.6M75.5 200.5h-3.6M75.5 176.5h-3.6M75.5 164.5h-3.6M75.5 152.5h-3.6M75.5 140.5h-3.6M75.5 115.5h-3.6M75.5 103.5h-3.6M75.5 91.5h-3.6M75.5 79.5h-3.6M75.5 55.5h-3.6M75.5 43.5h-3.6M75.5 31.5h-3.6M75.5 18.5h-3.6" stroke-width="1"/>
</g>
<g id="ticklabels" font-size="16.67">
<text x="196.4" y="577.9" text-anchor="middle">68 °E</text>
<text x="317.5" y="577.9" text-anchor="middle">70 °E</text>
<text x="438.6" y="577.9" text-anchor="middle">72 °E</text>
<text x="559.8" y="577.9" text-anchor="middle">74 °E</text>
<text x="680.9" y="577.9" text-anchor="middle">76 °E</text>
<text x="802" y="577.9" text-anchor="middle">78 °E</text>
<text x="923.1" y="577.9" text-anchor="middle">80 °E</text>
<text x="1044.2" y="577.9" text-anchor="middle">82 °E</text>
<text x="1165.4" y="577.9" text-anchor="middle">84 °E</text>
<text x="1286.5" y="577.9" text-anchor="middle">86 °E</text>
<text x="59.2" y="497.7" text-anchor="end">25 °N</text>
<text x="59.2" y="437.2" text-anchor="end">26 °N</text>
<text x="59.2" y="376.6" text-anchor="end">27 °N</text>
<text x="59.2" y="316" text-anchor="end">28 °N</text>
<text x="59.2" y="255.5" text-anchor="end">29 °N</text>
<text x="59.2" y="194.9" text-anchor="end">30 °N</text>
<text x="59.2" y="134.4" text-anchor="end">31 °N</text>
<text x="59.2" y="73.8" text-anchor="end">32 °N</text>
</g>
<rect x="1154.6" y="13" width="272.8" height="35" rx="5.3" ry="5.3" fill="#fff" stroke="#808080" stroke-width="1.25"/>
<text x="1163" y="38.2" font-size="22.2" textLength="257.5" lengthAdjust="spacingAndGlyphs">18-Feb-2025 23:30 IST</text>
</svg></body></html>
